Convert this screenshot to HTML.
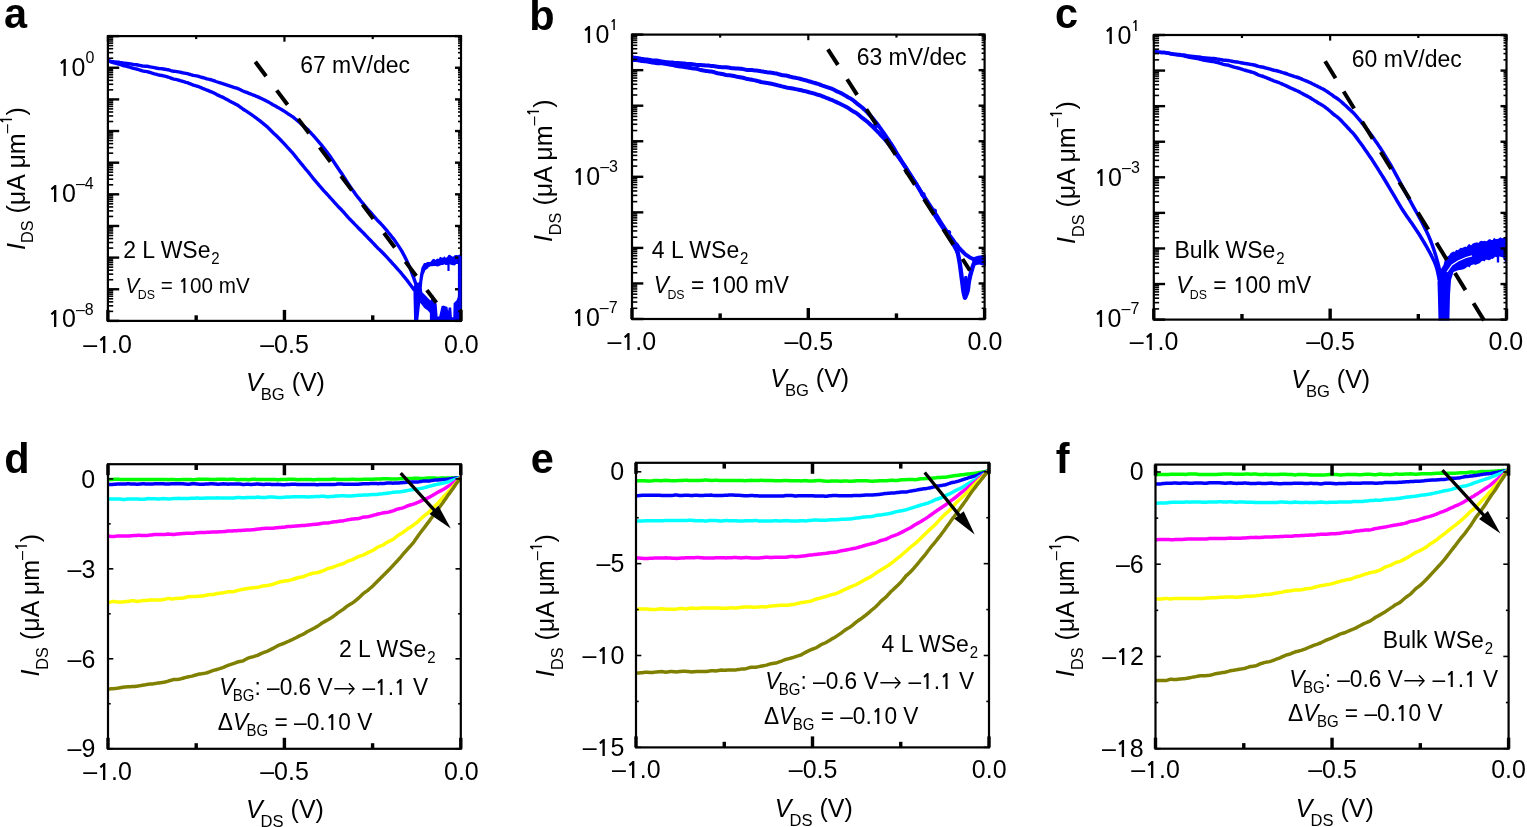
<!DOCTYPE html>
<html><head><meta charset="utf-8"><title>WSe2 transistor characteristics</title>
<style>html,body{margin:0;padding:0;background:#fff;width:1527px;height:827px;overflow:hidden}svg{display:block}
text{font-family:"Liberation Sans", Arial, Helvetica, sans-serif;fill:#000}</style></head>
<body><svg width="1527" height="827" viewBox="0 0 1527 827">
<rect width="1527" height="827" fill="#fff"/>
<path d="M107.9,60.7 L109.4,61.0 L110.9,61.3 L112.4,61.6 L113.9,61.8 L115.4,61.9 L116.9,62.1 L118.4,62.2 L119.9,62.5 L121.4,62.7 L122.9,63.0 L124.4,63.1 L125.9,63.3 L127.4,63.4 L128.9,63.6 L130.4,63.9 L131.9,64.2 L133.4,64.5 L134.9,64.6 L136.4,64.8 L137.9,65.0 L139.4,65.3 L140.9,65.6 L142.4,66.0 L143.9,66.1 L145.4,66.2 L146.9,66.3 L148.4,66.5 L149.9,66.8 L151.4,67.1 L152.9,67.4 L154.4,67.7 L155.9,68.0 L157.4,68.3 L158.9,68.5 L160.4,68.6 L161.9,68.8 L163.4,69.0 L164.9,69.2 L166.4,69.5 L167.9,69.7 L169.4,70.1 L170.9,70.6 L172.4,71.0 L173.9,71.3 L175.4,71.4 L176.9,71.6 L178.4,71.9 L179.9,72.2 L181.4,72.5 L182.9,72.8 L184.4,73.1 L185.9,73.4 L187.4,73.7 L188.9,74.1 L190.4,74.5 L191.9,75.0 L193.4,75.4 L194.9,75.6 L196.4,75.9 L197.9,76.2 L199.4,76.7 L200.9,77.1 L202.4,77.5 L203.9,77.9 L205.4,78.3 L206.9,78.8 L208.4,79.2 L209.9,79.5 L211.4,79.9 L212.9,80.3 L214.4,80.9 L215.9,81.5 L217.4,82.0 L218.9,82.5 L220.4,82.9 L221.9,83.3 L223.4,83.8 L224.9,84.3 L226.4,84.8 L227.9,85.3 L229.4,85.9 L230.9,86.4 L232.4,86.9 L233.9,87.4 L235.4,87.8 L236.9,88.2 L238.4,88.8 L239.9,89.5 L241.4,90.3 L242.9,91.0 L244.4,91.6 L245.9,92.1 L247.4,92.7 L248.9,93.3 L250.4,93.9 L251.9,94.5 L253.4,95.1 L254.9,95.7 L256.4,96.3 L257.9,96.9 L259.4,97.6 L260.9,98.3 L262.4,99.0 L263.9,99.7 L265.4,100.4 L266.9,101.2 L268.4,102.0 L269.9,102.9 L271.4,103.8 L272.9,104.7 L274.4,105.5 L275.9,106.3 L277.4,107.2 L278.9,108.0 L280.4,108.9 L281.9,109.8 L283.4,110.7 L284.9,111.7 L286.4,112.7 L287.9,113.7 L289.4,114.6 L290.9,115.6 L292.4,116.6 L293.9,117.7 L295.4,119.0 L296.9,120.2 L298.4,121.5 L299.9,122.8 L301.4,124.1 L302.9,125.4 L304.4,126.7 L305.9,128.0 L307.4,129.3 L308.9,130.8 L310.4,132.4 L311.9,134.1 L313.4,135.7 L314.9,137.4 L316.4,139.1 L317.9,140.8 L319.4,142.6 L320.9,144.4 L322.4,146.2 L323.9,148.1 L325.4,150.0 L326.9,152.0 L328.4,154.0 L329.9,156.1 L331.4,158.3 L332.9,160.4 L334.4,162.7 L335.9,165.0 L337.4,167.3 L338.9,169.5 L340.4,171.7 L341.9,173.8 L343.4,176.1 L344.9,178.5 L346.4,180.9 L347.9,183.2 L349.4,185.4 L350.9,187.6 L352.4,189.7 L353.9,191.8 L355.4,193.9 L356.9,195.9 L358.4,197.9 L359.9,199.7 L361.4,201.6 L362.9,203.3 L364.4,205.2 L365.9,207.0 L367.4,208.8 L368.9,210.5 L370.4,212.2 L371.9,213.9 L373.4,215.6 L374.9,217.3 L376.4,219.1 L377.9,220.8 L379.4,222.3 L380.9,223.8 L382.4,225.4 L383.9,227.1 L385.4,228.8 L386.9,230.6 L388.4,232.5 L389.9,234.3 L391.4,236.2 L392.9,238.1 L394.4,240.1 L395.9,242.2 L397.4,244.4 L398.9,246.6 L400.4,248.9 L401.9,251.4 L403.4,254.1 L404.9,256.9 L406.4,260.0 L407.9,263.2 L409.4,266.7 L410.9,270.4 L412.4,274.3 L413.9,278.4 L415.4,282.8 L416.4,285.9" fill="none" stroke="#0000ff" stroke-width="3.40" stroke-linejoin="round" stroke-linecap="butt" />
<path d="M107.9,60.7 L109.4,61.3 L110.9,61.8 L112.4,62.4 L113.9,62.8 L115.4,63.2 L116.9,63.6 L118.4,64.0 L119.9,64.5 L121.4,65.0 L122.9,65.5 L124.4,65.8 L125.9,66.2 L127.4,66.5 L128.9,66.9 L130.4,67.4 L131.9,67.9 L133.4,68.3 L134.9,68.7 L136.4,69.0 L137.9,69.4 L139.4,69.9 L140.9,70.3 L142.4,70.8 L143.9,71.2 L145.4,71.4 L146.9,71.7 L148.4,72.0 L149.9,72.4 L151.4,72.9 L152.9,73.3 L154.4,73.8 L155.9,74.2 L157.4,74.7 L158.9,75.0 L160.4,75.3 L161.9,75.5 L163.4,75.8 L164.9,76.2 L166.4,76.6 L167.9,77.0 L169.4,77.5 L170.9,78.1 L172.4,78.7 L173.9,79.1 L175.4,79.4 L176.9,79.7 L178.4,80.1 L179.9,80.5 L181.4,81.0 L182.9,81.4 L184.4,81.8 L185.9,82.3 L187.4,82.7 L188.9,83.3 L190.4,83.9 L191.9,84.5 L193.4,85.1 L194.9,85.5 L196.4,86.0 L197.9,86.4 L199.4,87.0 L200.9,87.6 L202.4,88.3 L203.9,88.9 L205.4,89.5 L206.9,90.1 L208.4,90.7 L209.9,91.3 L211.4,91.9 L212.9,92.5 L214.4,93.3 L215.9,94.1 L217.4,94.9 L218.9,95.6 L220.4,96.3 L221.9,96.9 L223.4,97.6 L224.9,98.4 L226.4,99.2 L227.9,100.0 L229.4,100.9 L230.9,101.7 L232.4,102.5 L233.9,103.3 L235.4,104.1 L236.9,104.8 L238.4,105.7 L239.9,106.8 L241.4,107.9 L242.9,109.0 L244.4,110.0 L245.9,110.9 L247.4,111.9 L248.9,112.9 L250.4,113.9 L251.9,114.9 L253.4,116.0 L254.9,117.1 L256.4,118.2 L257.9,119.3 L259.4,120.4 L260.9,121.6 L262.4,122.8 L263.9,124.1 L265.4,125.3 L266.9,126.6 L268.4,128.0 L269.9,129.5 L271.4,131.0 L272.9,132.5 L274.4,133.9 L275.9,135.3 L277.4,136.8 L278.9,138.3 L280.4,139.8 L281.9,141.3 L283.4,142.9 L284.9,144.5 L286.4,146.2 L287.9,147.8 L289.4,149.4 L290.9,151.1 L292.4,152.7 L293.9,154.5 L295.4,156.4 L296.9,158.3 L298.4,160.2 L299.9,162.0 L301.4,163.9 L302.9,165.7 L304.4,167.5 L305.9,169.3 L307.4,171.0 L308.9,172.9 L310.4,174.8 L311.9,176.7 L313.4,178.6 L314.9,180.4 L316.4,182.2 L317.9,183.9 L319.4,185.7 L320.9,187.4 L322.4,189.1 L323.9,190.8 L325.4,192.4 L326.9,194.0 L328.4,195.7 L329.9,197.3 L331.4,199.0 L332.9,200.7 L334.4,202.4 L335.9,204.0 L337.4,205.7 L338.9,207.3 L340.4,208.8 L341.9,210.3 L343.4,211.9 L344.9,213.7 L346.4,215.4 L347.9,217.1 L349.4,218.7 L350.9,220.2 L352.4,221.8 L353.9,223.3 L355.4,224.9 L356.9,226.4 L358.4,228.0 L359.9,229.5 L361.4,231.0 L362.9,232.4 L364.4,234.0 L365.9,235.6 L367.4,237.2 L368.9,238.8 L370.4,240.3 L371.9,241.8 L373.4,243.4 L374.9,245.0 L376.4,246.6 L377.9,248.2 L379.4,249.6 L380.9,251.0 L382.4,252.5 L383.9,254.0 L385.4,255.6 L386.9,257.2 L388.4,258.8 L389.9,260.5 L391.4,262.1 L392.9,263.8 L394.4,265.4 L395.9,267.1 L397.4,268.8 L398.9,270.5 L400.4,272.2 L401.9,274.0 L403.4,275.8 L404.9,277.6 L406.4,279.5 L407.9,281.4 L409.4,283.4 L410.9,285.5 L412.4,287.5 L413.9,289.6 L414.5,290.5" fill="none" stroke="#0000ff" stroke-width="3.40" stroke-linejoin="round" stroke-linecap="butt" />
<polygon points="419.0,283.1 420.0,274.8 421.5,267.6 424.0,262.9 425.7,262.9 427.3,262.1 429.0,262.0 430.7,261.7 432.3,259.4 434.0,258.7 435.6,260.1 437.1,258.6 438.7,258.9 440.1,256.7 441.6,257.4 443.0,257.7 444.4,256.3 445.7,257.7 447.0,257.3 448.4,255.0 449.9,254.8 451.5,255.9 453.0,256.8 454.7,255.3 456.3,254.9 458.0,255.3 459.5,254.5 461.0,255.7 461.0,266.4 459.5,266.0 458.0,263.9 456.3,264.0 454.7,265.5 453.0,265.3 451.5,265.1 449.9,264.3 448.4,264.8 447.0,264.9 445.7,265.0 444.4,264.2 443.0,264.9 441.6,264.9 440.1,265.6 438.7,266.3 437.1,266.5 435.6,266.0 434.0,266.1 432.3,266.3 430.7,266.3 429.0,266.9 427.2,269.1 425.5,270.1 423.5,274.8 422.3,281.8 421.8,288.0" fill="#0000ff"/>
<line x1="448.50" y1="264.00" x2="448.50" y2="271.00" stroke="#0000ff" stroke-width="2.20" stroke-linecap="butt"/>
<line x1="459.60" y1="256.00" x2="459.60" y2="320.50" stroke="#0000ff" stroke-width="3.40" stroke-linecap="butt"/>
<polygon points="413.4,287.0 416.0,283.0 420.5,282.0 421.8,288.0 422.3,292.2 426.3,296.2 430.4,300.5 433.4,295.2 435.4,300.5 436.7,304.5 437.6,316.6 439.2,316.6 441.5,306.3 443.3,305.4 447.5,306.9 448.1,311.2 448.7,307.5 451.2,307.5 451.9,317.2 453.3,317.2 453.6,303.3 456.6,300.3 457.8,297.3 458.4,290.0 461.0,290.0 461.0,321.0 429.9,321.0 429.9,313.0 427.8,310.5 424.3,307.9 420.2,302.8 418.2,321.0 414.1,321.0 413.6,300.0" fill="#0000ff"/>
<line x1="255.30" y1="61.80" x2="436.40" y2="302.80" stroke="#000" stroke-width="4.00" stroke-dasharray="18.00 17.70"/>
<rect x="107.90" y="36.10" width="353.10" height="284.80" fill="none" stroke="#000" stroke-width="2.20"/>
<line x1="107.90" y1="320.90" x2="107.90" y2="309.90" stroke="#000" stroke-width="3.40" stroke-linecap="butt"/>
<line x1="107.90" y1="36.10" x2="107.90" y2="41.70" stroke="#000" stroke-width="2.20" stroke-linecap="butt"/>
<line x1="196.18" y1="320.90" x2="196.18" y2="315.30" stroke="#000" stroke-width="3.40" stroke-linecap="butt"/>
<line x1="196.18" y1="36.10" x2="196.18" y2="39.10" stroke="#000" stroke-width="2.20" stroke-linecap="butt"/>
<line x1="284.45" y1="320.90" x2="284.45" y2="309.90" stroke="#000" stroke-width="3.40" stroke-linecap="butt"/>
<line x1="284.45" y1="36.10" x2="284.45" y2="41.70" stroke="#000" stroke-width="2.20" stroke-linecap="butt"/>
<line x1="372.73" y1="320.90" x2="372.73" y2="315.30" stroke="#000" stroke-width="3.40" stroke-linecap="butt"/>
<line x1="372.73" y1="36.10" x2="372.73" y2="39.10" stroke="#000" stroke-width="2.20" stroke-linecap="butt"/>
<line x1="461.00" y1="320.90" x2="461.00" y2="309.90" stroke="#000" stroke-width="3.40" stroke-linecap="butt"/>
<line x1="461.00" y1="36.10" x2="461.00" y2="41.70" stroke="#000" stroke-width="2.20" stroke-linecap="butt"/>
<line x1="107.90" y1="320.90" x2="119.20" y2="320.90" stroke="#000" stroke-width="2.40" stroke-linecap="butt"/>
<line x1="461.00" y1="320.90" x2="455.00" y2="320.90" stroke="#000" stroke-width="2.40" stroke-linecap="butt"/>
<line x1="107.90" y1="311.37" x2="113.20" y2="311.37" stroke="#000" stroke-width="1.60" stroke-linecap="butt"/>
<line x1="461.00" y1="311.37" x2="458.00" y2="311.37" stroke="#000" stroke-width="1.60" stroke-linecap="butt"/>
<line x1="107.90" y1="305.80" x2="113.20" y2="305.80" stroke="#000" stroke-width="1.60" stroke-linecap="butt"/>
<line x1="461.00" y1="305.80" x2="458.00" y2="305.80" stroke="#000" stroke-width="1.60" stroke-linecap="butt"/>
<line x1="107.90" y1="301.85" x2="113.20" y2="301.85" stroke="#000" stroke-width="1.60" stroke-linecap="butt"/>
<line x1="461.00" y1="301.85" x2="458.00" y2="301.85" stroke="#000" stroke-width="1.60" stroke-linecap="butt"/>
<line x1="107.90" y1="298.78" x2="113.20" y2="298.78" stroke="#000" stroke-width="1.60" stroke-linecap="butt"/>
<line x1="461.00" y1="298.78" x2="458.00" y2="298.78" stroke="#000" stroke-width="1.60" stroke-linecap="butt"/>
<line x1="107.90" y1="296.28" x2="113.20" y2="296.28" stroke="#000" stroke-width="1.60" stroke-linecap="butt"/>
<line x1="461.00" y1="296.28" x2="458.00" y2="296.28" stroke="#000" stroke-width="1.60" stroke-linecap="butt"/>
<line x1="107.90" y1="294.16" x2="113.20" y2="294.16" stroke="#000" stroke-width="1.60" stroke-linecap="butt"/>
<line x1="461.00" y1="294.16" x2="458.00" y2="294.16" stroke="#000" stroke-width="1.60" stroke-linecap="butt"/>
<line x1="107.90" y1="292.32" x2="113.20" y2="292.32" stroke="#000" stroke-width="1.60" stroke-linecap="butt"/>
<line x1="461.00" y1="292.32" x2="458.00" y2="292.32" stroke="#000" stroke-width="1.60" stroke-linecap="butt"/>
<line x1="107.90" y1="290.70" x2="113.20" y2="290.70" stroke="#000" stroke-width="1.60" stroke-linecap="butt"/>
<line x1="461.00" y1="290.70" x2="458.00" y2="290.70" stroke="#000" stroke-width="1.60" stroke-linecap="butt"/>
<line x1="107.90" y1="289.26" x2="119.20" y2="289.26" stroke="#000" stroke-width="2.40" stroke-linecap="butt"/>
<line x1="461.00" y1="289.26" x2="455.00" y2="289.26" stroke="#000" stroke-width="2.40" stroke-linecap="butt"/>
<line x1="107.90" y1="279.73" x2="113.20" y2="279.73" stroke="#000" stroke-width="1.60" stroke-linecap="butt"/>
<line x1="461.00" y1="279.73" x2="458.00" y2="279.73" stroke="#000" stroke-width="1.60" stroke-linecap="butt"/>
<line x1="107.90" y1="274.16" x2="113.20" y2="274.16" stroke="#000" stroke-width="1.60" stroke-linecap="butt"/>
<line x1="461.00" y1="274.16" x2="458.00" y2="274.16" stroke="#000" stroke-width="1.60" stroke-linecap="butt"/>
<line x1="107.90" y1="270.20" x2="113.20" y2="270.20" stroke="#000" stroke-width="1.60" stroke-linecap="butt"/>
<line x1="461.00" y1="270.20" x2="458.00" y2="270.20" stroke="#000" stroke-width="1.60" stroke-linecap="butt"/>
<line x1="107.90" y1="267.14" x2="113.20" y2="267.14" stroke="#000" stroke-width="1.60" stroke-linecap="butt"/>
<line x1="461.00" y1="267.14" x2="458.00" y2="267.14" stroke="#000" stroke-width="1.60" stroke-linecap="butt"/>
<line x1="107.90" y1="264.63" x2="113.20" y2="264.63" stroke="#000" stroke-width="1.60" stroke-linecap="butt"/>
<line x1="461.00" y1="264.63" x2="458.00" y2="264.63" stroke="#000" stroke-width="1.60" stroke-linecap="butt"/>
<line x1="107.90" y1="262.51" x2="113.20" y2="262.51" stroke="#000" stroke-width="1.60" stroke-linecap="butt"/>
<line x1="461.00" y1="262.51" x2="458.00" y2="262.51" stroke="#000" stroke-width="1.60" stroke-linecap="butt"/>
<line x1="107.90" y1="260.68" x2="113.20" y2="260.68" stroke="#000" stroke-width="1.60" stroke-linecap="butt"/>
<line x1="461.00" y1="260.68" x2="458.00" y2="260.68" stroke="#000" stroke-width="1.60" stroke-linecap="butt"/>
<line x1="107.90" y1="259.06" x2="113.20" y2="259.06" stroke="#000" stroke-width="1.60" stroke-linecap="butt"/>
<line x1="461.00" y1="259.06" x2="458.00" y2="259.06" stroke="#000" stroke-width="1.60" stroke-linecap="butt"/>
<line x1="107.90" y1="257.61" x2="119.20" y2="257.61" stroke="#000" stroke-width="2.40" stroke-linecap="butt"/>
<line x1="461.00" y1="257.61" x2="455.00" y2="257.61" stroke="#000" stroke-width="2.40" stroke-linecap="butt"/>
<line x1="107.90" y1="248.09" x2="113.20" y2="248.09" stroke="#000" stroke-width="1.60" stroke-linecap="butt"/>
<line x1="461.00" y1="248.09" x2="458.00" y2="248.09" stroke="#000" stroke-width="1.60" stroke-linecap="butt"/>
<line x1="107.90" y1="242.51" x2="113.20" y2="242.51" stroke="#000" stroke-width="1.60" stroke-linecap="butt"/>
<line x1="461.00" y1="242.51" x2="458.00" y2="242.51" stroke="#000" stroke-width="1.60" stroke-linecap="butt"/>
<line x1="107.90" y1="238.56" x2="113.20" y2="238.56" stroke="#000" stroke-width="1.60" stroke-linecap="butt"/>
<line x1="461.00" y1="238.56" x2="458.00" y2="238.56" stroke="#000" stroke-width="1.60" stroke-linecap="butt"/>
<line x1="107.90" y1="235.49" x2="113.20" y2="235.49" stroke="#000" stroke-width="1.60" stroke-linecap="butt"/>
<line x1="461.00" y1="235.49" x2="458.00" y2="235.49" stroke="#000" stroke-width="1.60" stroke-linecap="butt"/>
<line x1="107.90" y1="232.99" x2="113.20" y2="232.99" stroke="#000" stroke-width="1.60" stroke-linecap="butt"/>
<line x1="461.00" y1="232.99" x2="458.00" y2="232.99" stroke="#000" stroke-width="1.60" stroke-linecap="butt"/>
<line x1="107.90" y1="230.87" x2="113.20" y2="230.87" stroke="#000" stroke-width="1.60" stroke-linecap="butt"/>
<line x1="461.00" y1="230.87" x2="458.00" y2="230.87" stroke="#000" stroke-width="1.60" stroke-linecap="butt"/>
<line x1="107.90" y1="229.03" x2="113.20" y2="229.03" stroke="#000" stroke-width="1.60" stroke-linecap="butt"/>
<line x1="461.00" y1="229.03" x2="458.00" y2="229.03" stroke="#000" stroke-width="1.60" stroke-linecap="butt"/>
<line x1="107.90" y1="227.41" x2="113.20" y2="227.41" stroke="#000" stroke-width="1.60" stroke-linecap="butt"/>
<line x1="461.00" y1="227.41" x2="458.00" y2="227.41" stroke="#000" stroke-width="1.60" stroke-linecap="butt"/>
<line x1="107.90" y1="225.97" x2="119.20" y2="225.97" stroke="#000" stroke-width="2.40" stroke-linecap="butt"/>
<line x1="461.00" y1="225.97" x2="455.00" y2="225.97" stroke="#000" stroke-width="2.40" stroke-linecap="butt"/>
<line x1="107.90" y1="216.44" x2="113.20" y2="216.44" stroke="#000" stroke-width="1.60" stroke-linecap="butt"/>
<line x1="461.00" y1="216.44" x2="458.00" y2="216.44" stroke="#000" stroke-width="1.60" stroke-linecap="butt"/>
<line x1="107.90" y1="210.87" x2="113.20" y2="210.87" stroke="#000" stroke-width="1.60" stroke-linecap="butt"/>
<line x1="461.00" y1="210.87" x2="458.00" y2="210.87" stroke="#000" stroke-width="1.60" stroke-linecap="butt"/>
<line x1="107.90" y1="206.91" x2="113.20" y2="206.91" stroke="#000" stroke-width="1.60" stroke-linecap="butt"/>
<line x1="461.00" y1="206.91" x2="458.00" y2="206.91" stroke="#000" stroke-width="1.60" stroke-linecap="butt"/>
<line x1="107.90" y1="203.85" x2="113.20" y2="203.85" stroke="#000" stroke-width="1.60" stroke-linecap="butt"/>
<line x1="461.00" y1="203.85" x2="458.00" y2="203.85" stroke="#000" stroke-width="1.60" stroke-linecap="butt"/>
<line x1="107.90" y1="201.34" x2="113.20" y2="201.34" stroke="#000" stroke-width="1.60" stroke-linecap="butt"/>
<line x1="461.00" y1="201.34" x2="458.00" y2="201.34" stroke="#000" stroke-width="1.60" stroke-linecap="butt"/>
<line x1="107.90" y1="199.22" x2="113.20" y2="199.22" stroke="#000" stroke-width="1.60" stroke-linecap="butt"/>
<line x1="461.00" y1="199.22" x2="458.00" y2="199.22" stroke="#000" stroke-width="1.60" stroke-linecap="butt"/>
<line x1="107.90" y1="197.39" x2="113.20" y2="197.39" stroke="#000" stroke-width="1.60" stroke-linecap="butt"/>
<line x1="461.00" y1="197.39" x2="458.00" y2="197.39" stroke="#000" stroke-width="1.60" stroke-linecap="butt"/>
<line x1="107.90" y1="195.77" x2="113.20" y2="195.77" stroke="#000" stroke-width="1.60" stroke-linecap="butt"/>
<line x1="461.00" y1="195.77" x2="458.00" y2="195.77" stroke="#000" stroke-width="1.60" stroke-linecap="butt"/>
<line x1="107.90" y1="194.32" x2="119.20" y2="194.32" stroke="#000" stroke-width="2.40" stroke-linecap="butt"/>
<line x1="461.00" y1="194.32" x2="455.00" y2="194.32" stroke="#000" stroke-width="2.40" stroke-linecap="butt"/>
<line x1="107.90" y1="184.80" x2="113.20" y2="184.80" stroke="#000" stroke-width="1.60" stroke-linecap="butt"/>
<line x1="461.00" y1="184.80" x2="458.00" y2="184.80" stroke="#000" stroke-width="1.60" stroke-linecap="butt"/>
<line x1="107.90" y1="179.22" x2="113.20" y2="179.22" stroke="#000" stroke-width="1.60" stroke-linecap="butt"/>
<line x1="461.00" y1="179.22" x2="458.00" y2="179.22" stroke="#000" stroke-width="1.60" stroke-linecap="butt"/>
<line x1="107.90" y1="175.27" x2="113.20" y2="175.27" stroke="#000" stroke-width="1.60" stroke-linecap="butt"/>
<line x1="461.00" y1="175.27" x2="458.00" y2="175.27" stroke="#000" stroke-width="1.60" stroke-linecap="butt"/>
<line x1="107.90" y1="172.20" x2="113.20" y2="172.20" stroke="#000" stroke-width="1.60" stroke-linecap="butt"/>
<line x1="461.00" y1="172.20" x2="458.00" y2="172.20" stroke="#000" stroke-width="1.60" stroke-linecap="butt"/>
<line x1="107.90" y1="169.70" x2="113.20" y2="169.70" stroke="#000" stroke-width="1.60" stroke-linecap="butt"/>
<line x1="461.00" y1="169.70" x2="458.00" y2="169.70" stroke="#000" stroke-width="1.60" stroke-linecap="butt"/>
<line x1="107.90" y1="167.58" x2="113.20" y2="167.58" stroke="#000" stroke-width="1.60" stroke-linecap="butt"/>
<line x1="461.00" y1="167.58" x2="458.00" y2="167.58" stroke="#000" stroke-width="1.60" stroke-linecap="butt"/>
<line x1="107.90" y1="165.74" x2="113.20" y2="165.74" stroke="#000" stroke-width="1.60" stroke-linecap="butt"/>
<line x1="461.00" y1="165.74" x2="458.00" y2="165.74" stroke="#000" stroke-width="1.60" stroke-linecap="butt"/>
<line x1="107.90" y1="164.13" x2="113.20" y2="164.13" stroke="#000" stroke-width="1.60" stroke-linecap="butt"/>
<line x1="461.00" y1="164.13" x2="458.00" y2="164.13" stroke="#000" stroke-width="1.60" stroke-linecap="butt"/>
<line x1="107.90" y1="162.68" x2="119.20" y2="162.68" stroke="#000" stroke-width="2.40" stroke-linecap="butt"/>
<line x1="461.00" y1="162.68" x2="455.00" y2="162.68" stroke="#000" stroke-width="2.40" stroke-linecap="butt"/>
<line x1="107.90" y1="153.15" x2="113.20" y2="153.15" stroke="#000" stroke-width="1.60" stroke-linecap="butt"/>
<line x1="461.00" y1="153.15" x2="458.00" y2="153.15" stroke="#000" stroke-width="1.60" stroke-linecap="butt"/>
<line x1="107.90" y1="147.58" x2="113.20" y2="147.58" stroke="#000" stroke-width="1.60" stroke-linecap="butt"/>
<line x1="461.00" y1="147.58" x2="458.00" y2="147.58" stroke="#000" stroke-width="1.60" stroke-linecap="butt"/>
<line x1="107.90" y1="143.63" x2="113.20" y2="143.63" stroke="#000" stroke-width="1.60" stroke-linecap="butt"/>
<line x1="461.00" y1="143.63" x2="458.00" y2="143.63" stroke="#000" stroke-width="1.60" stroke-linecap="butt"/>
<line x1="107.90" y1="140.56" x2="113.20" y2="140.56" stroke="#000" stroke-width="1.60" stroke-linecap="butt"/>
<line x1="461.00" y1="140.56" x2="458.00" y2="140.56" stroke="#000" stroke-width="1.60" stroke-linecap="butt"/>
<line x1="107.90" y1="138.05" x2="113.20" y2="138.05" stroke="#000" stroke-width="1.60" stroke-linecap="butt"/>
<line x1="461.00" y1="138.05" x2="458.00" y2="138.05" stroke="#000" stroke-width="1.60" stroke-linecap="butt"/>
<line x1="107.90" y1="135.94" x2="113.20" y2="135.94" stroke="#000" stroke-width="1.60" stroke-linecap="butt"/>
<line x1="461.00" y1="135.94" x2="458.00" y2="135.94" stroke="#000" stroke-width="1.60" stroke-linecap="butt"/>
<line x1="107.90" y1="134.10" x2="113.20" y2="134.10" stroke="#000" stroke-width="1.60" stroke-linecap="butt"/>
<line x1="461.00" y1="134.10" x2="458.00" y2="134.10" stroke="#000" stroke-width="1.60" stroke-linecap="butt"/>
<line x1="107.90" y1="132.48" x2="113.20" y2="132.48" stroke="#000" stroke-width="1.60" stroke-linecap="butt"/>
<line x1="461.00" y1="132.48" x2="458.00" y2="132.48" stroke="#000" stroke-width="1.60" stroke-linecap="butt"/>
<line x1="107.90" y1="131.03" x2="119.20" y2="131.03" stroke="#000" stroke-width="2.40" stroke-linecap="butt"/>
<line x1="461.00" y1="131.03" x2="455.00" y2="131.03" stroke="#000" stroke-width="2.40" stroke-linecap="butt"/>
<line x1="107.90" y1="121.51" x2="113.20" y2="121.51" stroke="#000" stroke-width="1.60" stroke-linecap="butt"/>
<line x1="461.00" y1="121.51" x2="458.00" y2="121.51" stroke="#000" stroke-width="1.60" stroke-linecap="butt"/>
<line x1="107.90" y1="115.94" x2="113.20" y2="115.94" stroke="#000" stroke-width="1.60" stroke-linecap="butt"/>
<line x1="461.00" y1="115.94" x2="458.00" y2="115.94" stroke="#000" stroke-width="1.60" stroke-linecap="butt"/>
<line x1="107.90" y1="111.98" x2="113.20" y2="111.98" stroke="#000" stroke-width="1.60" stroke-linecap="butt"/>
<line x1="461.00" y1="111.98" x2="458.00" y2="111.98" stroke="#000" stroke-width="1.60" stroke-linecap="butt"/>
<line x1="107.90" y1="108.91" x2="113.20" y2="108.91" stroke="#000" stroke-width="1.60" stroke-linecap="butt"/>
<line x1="461.00" y1="108.91" x2="458.00" y2="108.91" stroke="#000" stroke-width="1.60" stroke-linecap="butt"/>
<line x1="107.90" y1="106.41" x2="113.20" y2="106.41" stroke="#000" stroke-width="1.60" stroke-linecap="butt"/>
<line x1="461.00" y1="106.41" x2="458.00" y2="106.41" stroke="#000" stroke-width="1.60" stroke-linecap="butt"/>
<line x1="107.90" y1="104.29" x2="113.20" y2="104.29" stroke="#000" stroke-width="1.60" stroke-linecap="butt"/>
<line x1="461.00" y1="104.29" x2="458.00" y2="104.29" stroke="#000" stroke-width="1.60" stroke-linecap="butt"/>
<line x1="107.90" y1="102.46" x2="113.20" y2="102.46" stroke="#000" stroke-width="1.60" stroke-linecap="butt"/>
<line x1="461.00" y1="102.46" x2="458.00" y2="102.46" stroke="#000" stroke-width="1.60" stroke-linecap="butt"/>
<line x1="107.90" y1="100.84" x2="113.20" y2="100.84" stroke="#000" stroke-width="1.60" stroke-linecap="butt"/>
<line x1="461.00" y1="100.84" x2="458.00" y2="100.84" stroke="#000" stroke-width="1.60" stroke-linecap="butt"/>
<line x1="107.90" y1="99.39" x2="119.20" y2="99.39" stroke="#000" stroke-width="2.40" stroke-linecap="butt"/>
<line x1="461.00" y1="99.39" x2="455.00" y2="99.39" stroke="#000" stroke-width="2.40" stroke-linecap="butt"/>
<line x1="107.90" y1="89.86" x2="113.20" y2="89.86" stroke="#000" stroke-width="1.60" stroke-linecap="butt"/>
<line x1="461.00" y1="89.86" x2="458.00" y2="89.86" stroke="#000" stroke-width="1.60" stroke-linecap="butt"/>
<line x1="107.90" y1="84.29" x2="113.20" y2="84.29" stroke="#000" stroke-width="1.60" stroke-linecap="butt"/>
<line x1="461.00" y1="84.29" x2="458.00" y2="84.29" stroke="#000" stroke-width="1.60" stroke-linecap="butt"/>
<line x1="107.90" y1="80.34" x2="113.20" y2="80.34" stroke="#000" stroke-width="1.60" stroke-linecap="butt"/>
<line x1="461.00" y1="80.34" x2="458.00" y2="80.34" stroke="#000" stroke-width="1.60" stroke-linecap="butt"/>
<line x1="107.90" y1="77.27" x2="113.20" y2="77.27" stroke="#000" stroke-width="1.60" stroke-linecap="butt"/>
<line x1="461.00" y1="77.27" x2="458.00" y2="77.27" stroke="#000" stroke-width="1.60" stroke-linecap="butt"/>
<line x1="107.90" y1="74.76" x2="113.20" y2="74.76" stroke="#000" stroke-width="1.60" stroke-linecap="butt"/>
<line x1="461.00" y1="74.76" x2="458.00" y2="74.76" stroke="#000" stroke-width="1.60" stroke-linecap="butt"/>
<line x1="107.90" y1="72.65" x2="113.20" y2="72.65" stroke="#000" stroke-width="1.60" stroke-linecap="butt"/>
<line x1="461.00" y1="72.65" x2="458.00" y2="72.65" stroke="#000" stroke-width="1.60" stroke-linecap="butt"/>
<line x1="107.90" y1="70.81" x2="113.20" y2="70.81" stroke="#000" stroke-width="1.60" stroke-linecap="butt"/>
<line x1="461.00" y1="70.81" x2="458.00" y2="70.81" stroke="#000" stroke-width="1.60" stroke-linecap="butt"/>
<line x1="107.90" y1="69.19" x2="113.20" y2="69.19" stroke="#000" stroke-width="1.60" stroke-linecap="butt"/>
<line x1="461.00" y1="69.19" x2="458.00" y2="69.19" stroke="#000" stroke-width="1.60" stroke-linecap="butt"/>
<line x1="107.90" y1="67.74" x2="119.20" y2="67.74" stroke="#000" stroke-width="2.40" stroke-linecap="butt"/>
<line x1="461.00" y1="67.74" x2="455.00" y2="67.74" stroke="#000" stroke-width="2.40" stroke-linecap="butt"/>
<line x1="107.90" y1="58.22" x2="113.20" y2="58.22" stroke="#000" stroke-width="1.60" stroke-linecap="butt"/>
<line x1="461.00" y1="58.22" x2="458.00" y2="58.22" stroke="#000" stroke-width="1.60" stroke-linecap="butt"/>
<line x1="107.90" y1="52.65" x2="113.20" y2="52.65" stroke="#000" stroke-width="1.60" stroke-linecap="butt"/>
<line x1="461.00" y1="52.65" x2="458.00" y2="52.65" stroke="#000" stroke-width="1.60" stroke-linecap="butt"/>
<line x1="107.90" y1="48.69" x2="113.20" y2="48.69" stroke="#000" stroke-width="1.60" stroke-linecap="butt"/>
<line x1="461.00" y1="48.69" x2="458.00" y2="48.69" stroke="#000" stroke-width="1.60" stroke-linecap="butt"/>
<line x1="107.90" y1="45.63" x2="113.20" y2="45.63" stroke="#000" stroke-width="1.60" stroke-linecap="butt"/>
<line x1="461.00" y1="45.63" x2="458.00" y2="45.63" stroke="#000" stroke-width="1.60" stroke-linecap="butt"/>
<line x1="107.90" y1="43.12" x2="113.20" y2="43.12" stroke="#000" stroke-width="1.60" stroke-linecap="butt"/>
<line x1="461.00" y1="43.12" x2="458.00" y2="43.12" stroke="#000" stroke-width="1.60" stroke-linecap="butt"/>
<line x1="107.90" y1="41.00" x2="113.20" y2="41.00" stroke="#000" stroke-width="1.60" stroke-linecap="butt"/>
<line x1="461.00" y1="41.00" x2="458.00" y2="41.00" stroke="#000" stroke-width="1.60" stroke-linecap="butt"/>
<line x1="107.90" y1="39.17" x2="113.20" y2="39.17" stroke="#000" stroke-width="1.60" stroke-linecap="butt"/>
<line x1="461.00" y1="39.17" x2="458.00" y2="39.17" stroke="#000" stroke-width="1.60" stroke-linecap="butt"/>
<line x1="107.90" y1="37.55" x2="113.20" y2="37.55" stroke="#000" stroke-width="1.60" stroke-linecap="butt"/>
<line x1="461.00" y1="37.55" x2="458.00" y2="37.55" stroke="#000" stroke-width="1.60" stroke-linecap="butt"/>
<line x1="107.90" y1="36.10" x2="119.20" y2="36.10" stroke="#000" stroke-width="2.40" stroke-linecap="butt"/>
<line x1="461.00" y1="36.10" x2="455.00" y2="36.10" stroke="#000" stroke-width="2.40" stroke-linecap="butt"/>
<line x1="459.90" y1="256.00" x2="459.90" y2="309.00" stroke="#0000ff" stroke-width="3.20" stroke-linecap="butt"/>
<text transform="translate(3.88,27.70) scale(1,1.045)" font-size="41.50" font-weight="bold">a</text>
<text transform="translate(57.58,75.80) scale(1,1.045)" font-size="25.00" ><tspan><tspan font-family="NanumGothic, Liberation Sans, sans-serif" font-weight="bold" font-size="22.00">1</tspan><tspan dx="0.57">0</tspan></tspan><tspan font-size="16.00" dy="-12.30">0</tspan></text>
<text transform="translate(48.08,201.70) scale(1,1.045)" font-size="25.00" ><tspan><tspan font-family="NanumGothic, Liberation Sans, sans-serif" font-weight="bold" font-size="22.00">1</tspan><tspan dx="0.57">0</tspan></tspan><tspan font-size="16.00" dy="-12.30">–4</tspan></text>
<text transform="translate(48.08,327.40) scale(1,1.045)" font-size="25.00" ><tspan><tspan font-family="NanumGothic, Liberation Sans, sans-serif" font-weight="bold" font-size="22.00">1</tspan><tspan dx="0.57">0</tspan></tspan><tspan font-size="16.00" dy="-12.30">–8</tspan></text>
<text transform="translate(83.16,352.90) scale(1,1.045)" font-size="25.00" ><tspan>–<tspan font-family="NanumGothic, Liberation Sans, sans-serif" font-weight="bold" font-size="22.00">1</tspan><tspan dx="0.57">.0</tspan></tspan></text>
<text transform="translate(260.20,352.90) scale(1,1.045)" font-size="25.00" ><tspan>–0.5</tspan></text>
<text transform="translate(444.02,352.90) scale(1,1.045)" font-size="25.00" ><tspan>0.0</tspan></text>
<text transform="translate(246.04,391.20) scale(1,1.045)" font-size="25.00" ><tspan font-style="italic">V</tspan><tspan font-size="16.60" dy="8.40" dx="-2.00">BG</tspan><tspan dy="-8.40"> (V)</tspan></text>
<text transform="translate(24.50,249.99) rotate(-90) scale(1,1.045)" font-size="25.00" ><tspan font-style="italic">I</tspan><tspan font-size="16.30" dy="8.40">DS</tspan><tspan dy="-8.40"> (μA μm</tspan><tspan font-size="16.30" dy="-12.00">–<tspan font-family="NanumGothic, Liberation Sans, sans-serif" font-weight="bold" font-size="14.34">1</tspan><tspan dx="0.37"></tspan></tspan><tspan dy="12.00">)</tspan></text>
<text transform="translate(300.13,73.00) scale(1,1.045)" font-size="23.00" >67 mV/dec</text>
<text transform="translate(123.14,257.80) scale(1,1.045)" font-size="23.00" ><tspan>2 L WSe</tspan><tspan font-size="15.00" dy="5.80" dx="0.90">2</tspan></text>
<text transform="translate(125.52,293.20) scale(1,1.045)" font-size="20.65" ><tspan font-style="italic">V</tspan><tspan font-size="12.40" dy="5.80" dx="-1.50">DS</tspan><tspan dy="-5.80"> = <tspan font-family="NanumGothic, Liberation Sans, sans-serif" font-weight="bold" font-size="18.17">1</tspan><tspan dx="0.47">00 mV</tspan></tspan></text>
<path d="M632.0,57.2 L633.5,57.5 L635.0,57.7 L636.5,57.9 L638.0,58.2 L639.5,58.5 L641.0,58.8 L642.5,59.0 L644.0,59.2 L645.5,59.4 L647.0,59.6 L648.5,59.8 L650.0,60.0 L651.5,60.3 L653.0,60.4 L654.5,60.4 L656.0,60.5 L657.5,60.6 L659.0,60.9 L660.5,61.3 L662.0,61.6 L663.5,61.8 L665.0,62.0 L666.5,62.2 L668.0,62.3 L669.5,62.4 L671.0,62.5 L672.5,62.6 L674.0,62.8 L675.5,62.9 L677.0,63.0 L678.5,63.1 L680.0,63.2 L681.5,63.3 L683.0,63.4 L684.5,63.6 L686.0,63.8 L687.5,63.9 L689.0,64.0 L690.5,64.1 L692.0,64.1 L693.5,64.4 L695.0,64.6 L696.5,64.9 L698.0,65.0 L699.5,65.0 L701.0,65.1 L702.5,65.2 L704.0,65.3 L705.5,65.4 L707.0,65.5 L708.5,65.6 L710.0,65.8 L711.5,65.9 L713.0,66.1 L714.5,66.3 L716.0,66.5 L717.5,66.7 L719.0,66.9 L720.5,67.1 L722.0,67.2 L723.5,67.2 L725.0,67.2 L726.5,67.2 L728.0,67.4 L729.5,67.7 L731.0,68.0 L732.5,68.2 L734.0,68.3 L735.5,68.4 L737.0,68.5 L738.5,68.6 L740.0,68.7 L741.5,68.8 L743.0,69.1 L744.5,69.4 L746.0,69.7 L747.5,69.9 L749.0,70.0 L750.5,70.1 L752.0,70.1 L753.5,70.3 L755.0,70.4 L756.5,70.6 L758.0,70.7 L759.5,70.9 L761.0,71.2 L762.5,71.4 L764.0,71.7 L765.5,71.9 L767.0,72.2 L768.5,72.4 L770.0,72.6 L771.5,72.8 L773.0,73.0 L774.5,73.3 L776.0,73.5 L777.5,73.8 L779.0,74.3 L780.5,74.7 L782.0,75.2 L783.5,75.3 L785.0,75.5 L786.5,75.6 L788.0,76.0 L789.5,76.5 L791.0,76.9 L792.5,77.3 L794.0,77.6 L795.5,77.8 L797.0,78.1 L798.5,78.4 L800.0,78.8 L801.5,79.2 L803.0,79.6 L804.5,80.0 L806.0,80.4 L807.5,80.8 L809.0,81.3 L810.5,81.7 L812.0,82.2 L813.5,82.6 L815.0,83.0 L816.5,83.5 L818.0,83.9 L819.5,84.5 L821.0,85.0 L822.5,85.6 L824.0,86.1 L825.5,86.6 L827.0,87.1 L828.5,87.6 L830.0,88.1 L831.5,88.6 L833.0,89.3 L834.5,90.1 L836.0,90.9 L837.5,91.6 L839.0,92.2 L840.5,92.9 L842.0,93.6 L843.5,94.5 L845.0,95.4 L846.5,96.3 L848.0,97.2 L849.5,98.0 L851.0,98.8 L852.5,99.8 L854.0,101.0 L855.5,102.3 L857.0,103.6 L858.5,104.7 L860.0,105.8 L861.5,107.0 L863.0,108.3 L864.5,109.7 L866.0,111.2 L867.5,112.7 L869.0,114.3 L870.5,115.9 L872.0,117.6 L873.5,119.4 L875.0,121.2 L876.5,123.1 L878.0,125.0 L879.5,127.1 L881.0,129.2 L882.5,131.3 L884.0,133.4 L885.5,135.6 L887.0,137.8 L888.5,140.0 L890.0,142.3 L891.5,144.5 L893.0,146.9 L894.5,149.4 L896.0,152.0 L897.5,154.5 L899.0,156.9 L900.5,159.3 L902.0,161.7 L903.5,164.1 L905.0,166.4 L906.5,168.8 L908.0,171.2 L909.5,173.5 L911.0,175.8 L912.5,178.1 L914.0,180.5 L915.5,182.9 L917.0,185.3 L918.5,187.7 L920.0,190.2 L921.5,192.6 L923.0,194.9 L924.5,197.2 L926.0,199.4 L927.5,201.7 L929.0,204.1 L930.5,206.4 L932.0,208.7 L933.5,211.0 L935.0,213.2 L936.5,215.4 L938.0,217.8 L939.5,220.2 L941.0,222.7 L942.5,225.1 L944.0,227.4 L945.5,229.6 L947.0,231.8 L948.5,233.9 L950.0,236.0 L951.5,238.0 L953.0,240.0 L954.5,242.1 L956.0,244.1 L957.5,245.9 L959.0,247.7 L960.5,249.4 L962.0,251.0 L963.5,252.5 L965.0,253.9 L966.5,255.2 L968.0,256.2 L969.5,257.2 L971.0,258.0 L972.5,258.7 L974.0,259.3 L975.5,259.8 L977.0,260.1 L978.5,260.3 L980.0,260.4 L981.5,260.3 L983.0,260.1 L984.5,259.7 L985.0,259.5" fill="none" stroke="#0000ff" stroke-width="4.00" stroke-linejoin="round" stroke-linecap="butt" />
<path d="M632.0,59.8 L633.5,59.9 L635.0,60.0 L636.5,60.0 L638.0,60.3 L639.5,60.6 L641.0,60.9 L642.5,61.1 L644.0,61.2 L645.5,61.3 L647.0,61.4 L648.5,61.8 L650.0,62.1 L651.5,62.4 L653.0,62.6 L654.5,62.8 L656.0,63.0 L657.5,63.2 L659.0,63.2 L660.5,63.3 L662.0,63.3 L663.5,63.5 L665.0,63.7 L666.5,63.9 L668.0,64.2 L669.5,64.5 L671.0,64.8 L672.5,65.1 L674.0,65.4 L675.5,65.7 L677.0,66.0 L678.5,66.2 L680.0,66.4 L681.5,66.6 L683.0,66.8 L684.5,67.0 L686.0,67.2 L687.5,67.4 L689.0,67.7 L690.5,67.9 L692.0,68.2 L693.5,68.4 L695.0,68.6 L696.5,68.8 L698.0,69.1 L699.5,69.6 L701.0,70.0 L702.5,70.4 L704.0,70.6 L705.5,70.9 L707.0,71.1 L708.5,71.2 L710.0,71.4 L711.5,71.5 L713.0,71.9 L714.5,72.3 L716.0,72.8 L717.5,73.2 L719.0,73.4 L720.5,73.7 L722.0,74.0 L723.5,74.3 L725.0,74.7 L726.5,75.0 L728.0,75.2 L729.5,75.3 L731.0,75.5 L732.5,75.7 L734.0,76.0 L735.5,76.4 L737.0,76.8 L738.5,77.0 L740.0,77.2 L741.5,77.5 L743.0,77.8 L744.5,78.2 L746.0,78.7 L747.5,79.0 L749.0,79.3 L750.5,79.5 L752.0,79.8 L753.5,80.1 L755.0,80.4 L756.5,80.7 L758.0,81.1 L759.5,81.5 L761.0,82.0 L762.5,82.3 L764.0,82.5 L765.5,82.7 L767.0,82.9 L768.5,83.2 L770.0,83.5 L771.5,83.8 L773.0,84.1 L774.5,84.5 L776.0,84.9 L777.5,85.3 L779.0,85.6 L780.5,86.0 L782.0,86.4 L783.5,86.7 L785.0,87.1 L786.5,87.5 L788.0,87.8 L789.5,88.0 L791.0,88.2 L792.5,88.4 L794.0,88.8 L795.5,89.1 L797.0,89.4 L798.5,89.7 L800.0,90.0 L801.5,90.3 L803.0,90.7 L804.5,91.0 L806.0,91.4 L807.5,91.8 L809.0,92.2 L810.5,92.6 L812.0,93.0 L813.5,93.4 L815.0,93.8 L816.5,94.3 L818.0,94.8 L819.5,95.2 L821.0,95.7 L822.5,96.3 L824.0,96.9 L825.5,97.5 L827.0,98.2 L828.5,98.7 L830.0,99.3 L831.5,99.8 L833.0,100.5 L834.5,101.2 L836.0,101.9 L837.5,102.6 L839.0,103.3 L840.5,104.0 L842.0,104.8 L843.5,105.5 L845.0,106.2 L846.5,107.0 L848.0,107.9 L849.5,108.9 L851.0,110.0 L852.5,110.9 L854.0,111.7 L855.5,112.6 L857.0,113.4 L858.5,114.7 L860.0,116.0 L861.5,117.3 L863.0,118.4 L864.5,119.6 L866.0,120.7 L867.5,121.9 L869.0,123.3 L870.5,124.7 L872.0,126.1 L873.5,127.6 L875.0,129.1 L876.5,130.7 L878.0,132.2 L879.5,133.7 L881.0,135.3 L882.5,136.9 L884.0,138.5 L885.5,140.2 L887.0,141.9 L888.5,143.8 L890.0,145.8 L891.5,147.9 L893.0,149.9 L894.5,151.8 L896.0,153.8 L897.5,155.8 L899.0,157.9 L900.5,160.0 L902.0,162.1 L903.5,164.3 L905.0,166.5 L906.5,168.7 L908.0,171.0 L909.5,173.5 L911.0,175.9 L912.5,178.3 L914.0,180.6 L915.5,182.9 L917.0,185.2 L918.5,187.8 L920.0,190.3 L921.5,192.9 L923.0,195.4 L924.5,197.9 L926.0,200.5 L927.5,203.0 L929.0,205.4 L930.5,207.8 L932.0,210.2 L933.5,212.8 L935.0,215.4 L936.5,218.0 L938.0,220.3 L939.5,222.6 L941.0,224.8 L942.5,227.1 L944.0,229.5 L945.5,231.9 L947.0,234.3 L948.5,236.6 L950.0,239.0 L951.5,241.4 L953.0,243.9 L954.5,246.5 L956.0,249.1 L957.5,251.8 L957.9,252.5" fill="none" stroke="#0000ff" stroke-width="4.00" stroke-linejoin="round" stroke-linecap="butt" />
<circle cx="875.3" cy="126.0" r="2.6" fill="#0000ff"/>
<circle cx="890.9" cy="145.5" r="2.6" fill="#0000ff"/>
<circle cx="907.3" cy="172.0" r="2.6" fill="#0000ff"/>
<circle cx="923.0" cy="194.5" r="2.6" fill="#0000ff"/>
<circle cx="934.4" cy="211.0" r="2.6" fill="#0000ff"/>
<circle cx="948.6" cy="232.5" r="2.6" fill="#0000ff"/>
<circle cx="956.1" cy="245.0" r="2.6" fill="#0000ff"/>
<path d="M955.5,247.0 L955.7,247.4 L955.8,247.9 L956.1,248.5 L956.3,249.1 L956.6,249.8 L956.9,250.6 L957.2,251.4 L957.5,252.2 L957.8,253.1 L958.0,254.0 L958.2,254.9 L958.4,255.9 L958.6,256.9 L958.8,257.9 L959.0,259.0 L959.2,260.1 L959.4,261.3 L959.6,262.5 L959.8,263.7 L960.0,265.0 L960.2,266.4 L960.4,267.8 L960.6,269.3 L960.8,270.9 L961.0,272.4 L961.2,274.0 L961.4,275.6 L961.6,277.1 L961.8,278.6 L962.0,280.0 L962.2,281.4 L962.3,282.7 L962.5,284.0 L962.7,285.3 L962.8,286.6 L963.0,287.8 L963.1,289.0 L963.3,290.1 L963.4,291.1 L963.6,292.0 L963.8,292.8 L963.9,293.6 L964.1,294.3 L964.2,294.9 L964.4,295.5 L964.6,296.0 L964.7,296.5 L964.8,296.9 L964.9,297.2 L965.0,297.5" fill="none" stroke="#0000ff" stroke-width="4.40" stroke-linejoin="round" stroke-linecap="round" />
<path d="M965.0,297.5 L965.2,297.1 L965.4,296.7 L965.6,296.1 L965.9,295.5 L966.2,294.9 L966.5,294.2 L966.8,293.4 L967.1,292.6 L967.4,291.8 L967.6,291.0 L967.8,290.1 L967.9,289.2 L968.1,288.3 L968.2,287.3 L968.3,286.2 L968.4,285.2 L968.5,284.1 L968.7,283.1 L968.8,282.0 L969.0,281.0 L969.2,280.0 L969.4,279.0 L969.7,278.0 L969.9,276.9 L970.1,275.9 L970.4,274.9 L970.7,273.9 L971.0,272.9 L971.2,271.9 L971.5,271.0 L971.8,270.1 L972.1,269.1 L972.3,268.2 L972.6,267.2 L972.9,266.3 L973.2,265.4 L973.5,264.6 L973.9,263.8 L974.2,263.1 L974.5,262.5 L974.8,262.0 L975.2,261.6 L975.6,261.2 L976.0,260.9 L976.4,260.7 L976.8,260.5 L977.2,260.4 L977.5,260.2 L977.8,260.1 L978.0,260.0" fill="none" stroke="#0000ff" stroke-width="4.40" stroke-linejoin="round" stroke-linecap="round" />
<polygon points="963,296 962.5,286 964.5,276 967,276 969,284 967.5,296 965,299.5" fill="#0000ff"/>
<polygon points="972.5,257.5 978,255.8 985.8,254.8 985.8,266 979,264.5 974.5,265.5 972.5,262" fill="#0000ff"/>
<line x1="827.90" y1="49.30" x2="969.90" y2="270.50" stroke="#000" stroke-width="4.00" stroke-dasharray="18.50 17.10"/>
<rect x="632.00" y="34.60" width="352.60" height="284.40" fill="none" stroke="#000" stroke-width="2.20"/>
<line x1="632.00" y1="319.00" x2="632.00" y2="308.00" stroke="#000" stroke-width="3.40" stroke-linecap="butt"/>
<line x1="632.00" y1="34.60" x2="632.00" y2="40.20" stroke="#000" stroke-width="2.20" stroke-linecap="butt"/>
<line x1="720.15" y1="319.00" x2="720.15" y2="313.40" stroke="#000" stroke-width="3.40" stroke-linecap="butt"/>
<line x1="720.15" y1="34.60" x2="720.15" y2="37.60" stroke="#000" stroke-width="2.20" stroke-linecap="butt"/>
<line x1="808.30" y1="319.00" x2="808.30" y2="308.00" stroke="#000" stroke-width="3.40" stroke-linecap="butt"/>
<line x1="808.30" y1="34.60" x2="808.30" y2="40.20" stroke="#000" stroke-width="2.20" stroke-linecap="butt"/>
<line x1="896.45" y1="319.00" x2="896.45" y2="313.40" stroke="#000" stroke-width="3.40" stroke-linecap="butt"/>
<line x1="896.45" y1="34.60" x2="896.45" y2="37.60" stroke="#000" stroke-width="2.20" stroke-linecap="butt"/>
<line x1="984.60" y1="319.00" x2="984.60" y2="308.00" stroke="#000" stroke-width="3.40" stroke-linecap="butt"/>
<line x1="984.60" y1="34.60" x2="984.60" y2="40.20" stroke="#000" stroke-width="2.20" stroke-linecap="butt"/>
<line x1="632.00" y1="319.00" x2="643.30" y2="319.00" stroke="#000" stroke-width="2.40" stroke-linecap="butt"/>
<line x1="984.60" y1="319.00" x2="978.60" y2="319.00" stroke="#000" stroke-width="2.40" stroke-linecap="butt"/>
<line x1="632.00" y1="308.30" x2="637.30" y2="308.30" stroke="#000" stroke-width="1.60" stroke-linecap="butt"/>
<line x1="984.60" y1="308.30" x2="981.60" y2="308.30" stroke="#000" stroke-width="1.60" stroke-linecap="butt"/>
<line x1="632.00" y1="302.04" x2="637.30" y2="302.04" stroke="#000" stroke-width="1.60" stroke-linecap="butt"/>
<line x1="984.60" y1="302.04" x2="981.60" y2="302.04" stroke="#000" stroke-width="1.60" stroke-linecap="butt"/>
<line x1="632.00" y1="297.60" x2="637.30" y2="297.60" stroke="#000" stroke-width="1.60" stroke-linecap="butt"/>
<line x1="984.60" y1="297.60" x2="981.60" y2="297.60" stroke="#000" stroke-width="1.60" stroke-linecap="butt"/>
<line x1="632.00" y1="294.15" x2="637.30" y2="294.15" stroke="#000" stroke-width="1.60" stroke-linecap="butt"/>
<line x1="984.60" y1="294.15" x2="981.60" y2="294.15" stroke="#000" stroke-width="1.60" stroke-linecap="butt"/>
<line x1="632.00" y1="291.34" x2="637.30" y2="291.34" stroke="#000" stroke-width="1.60" stroke-linecap="butt"/>
<line x1="984.60" y1="291.34" x2="981.60" y2="291.34" stroke="#000" stroke-width="1.60" stroke-linecap="butt"/>
<line x1="632.00" y1="288.96" x2="637.30" y2="288.96" stroke="#000" stroke-width="1.60" stroke-linecap="butt"/>
<line x1="984.60" y1="288.96" x2="981.60" y2="288.96" stroke="#000" stroke-width="1.60" stroke-linecap="butt"/>
<line x1="632.00" y1="286.90" x2="637.30" y2="286.90" stroke="#000" stroke-width="1.60" stroke-linecap="butt"/>
<line x1="984.60" y1="286.90" x2="981.60" y2="286.90" stroke="#000" stroke-width="1.60" stroke-linecap="butt"/>
<line x1="632.00" y1="285.08" x2="637.30" y2="285.08" stroke="#000" stroke-width="1.60" stroke-linecap="butt"/>
<line x1="984.60" y1="285.08" x2="981.60" y2="285.08" stroke="#000" stroke-width="1.60" stroke-linecap="butt"/>
<line x1="632.00" y1="283.45" x2="643.30" y2="283.45" stroke="#000" stroke-width="2.40" stroke-linecap="butt"/>
<line x1="984.60" y1="283.45" x2="978.60" y2="283.45" stroke="#000" stroke-width="2.40" stroke-linecap="butt"/>
<line x1="632.00" y1="272.75" x2="637.30" y2="272.75" stroke="#000" stroke-width="1.60" stroke-linecap="butt"/>
<line x1="984.60" y1="272.75" x2="981.60" y2="272.75" stroke="#000" stroke-width="1.60" stroke-linecap="butt"/>
<line x1="632.00" y1="266.49" x2="637.30" y2="266.49" stroke="#000" stroke-width="1.60" stroke-linecap="butt"/>
<line x1="984.60" y1="266.49" x2="981.60" y2="266.49" stroke="#000" stroke-width="1.60" stroke-linecap="butt"/>
<line x1="632.00" y1="262.05" x2="637.30" y2="262.05" stroke="#000" stroke-width="1.60" stroke-linecap="butt"/>
<line x1="984.60" y1="262.05" x2="981.60" y2="262.05" stroke="#000" stroke-width="1.60" stroke-linecap="butt"/>
<line x1="632.00" y1="258.60" x2="637.30" y2="258.60" stroke="#000" stroke-width="1.60" stroke-linecap="butt"/>
<line x1="984.60" y1="258.60" x2="981.60" y2="258.60" stroke="#000" stroke-width="1.60" stroke-linecap="butt"/>
<line x1="632.00" y1="255.79" x2="637.30" y2="255.79" stroke="#000" stroke-width="1.60" stroke-linecap="butt"/>
<line x1="984.60" y1="255.79" x2="981.60" y2="255.79" stroke="#000" stroke-width="1.60" stroke-linecap="butt"/>
<line x1="632.00" y1="253.41" x2="637.30" y2="253.41" stroke="#000" stroke-width="1.60" stroke-linecap="butt"/>
<line x1="984.60" y1="253.41" x2="981.60" y2="253.41" stroke="#000" stroke-width="1.60" stroke-linecap="butt"/>
<line x1="632.00" y1="251.35" x2="637.30" y2="251.35" stroke="#000" stroke-width="1.60" stroke-linecap="butt"/>
<line x1="984.60" y1="251.35" x2="981.60" y2="251.35" stroke="#000" stroke-width="1.60" stroke-linecap="butt"/>
<line x1="632.00" y1="249.53" x2="637.30" y2="249.53" stroke="#000" stroke-width="1.60" stroke-linecap="butt"/>
<line x1="984.60" y1="249.53" x2="981.60" y2="249.53" stroke="#000" stroke-width="1.60" stroke-linecap="butt"/>
<line x1="632.00" y1="247.90" x2="643.30" y2="247.90" stroke="#000" stroke-width="2.40" stroke-linecap="butt"/>
<line x1="984.60" y1="247.90" x2="978.60" y2="247.90" stroke="#000" stroke-width="2.40" stroke-linecap="butt"/>
<line x1="632.00" y1="237.20" x2="637.30" y2="237.20" stroke="#000" stroke-width="1.60" stroke-linecap="butt"/>
<line x1="984.60" y1="237.20" x2="981.60" y2="237.20" stroke="#000" stroke-width="1.60" stroke-linecap="butt"/>
<line x1="632.00" y1="230.94" x2="637.30" y2="230.94" stroke="#000" stroke-width="1.60" stroke-linecap="butt"/>
<line x1="984.60" y1="230.94" x2="981.60" y2="230.94" stroke="#000" stroke-width="1.60" stroke-linecap="butt"/>
<line x1="632.00" y1="226.50" x2="637.30" y2="226.50" stroke="#000" stroke-width="1.60" stroke-linecap="butt"/>
<line x1="984.60" y1="226.50" x2="981.60" y2="226.50" stroke="#000" stroke-width="1.60" stroke-linecap="butt"/>
<line x1="632.00" y1="223.05" x2="637.30" y2="223.05" stroke="#000" stroke-width="1.60" stroke-linecap="butt"/>
<line x1="984.60" y1="223.05" x2="981.60" y2="223.05" stroke="#000" stroke-width="1.60" stroke-linecap="butt"/>
<line x1="632.00" y1="220.24" x2="637.30" y2="220.24" stroke="#000" stroke-width="1.60" stroke-linecap="butt"/>
<line x1="984.60" y1="220.24" x2="981.60" y2="220.24" stroke="#000" stroke-width="1.60" stroke-linecap="butt"/>
<line x1="632.00" y1="217.86" x2="637.30" y2="217.86" stroke="#000" stroke-width="1.60" stroke-linecap="butt"/>
<line x1="984.60" y1="217.86" x2="981.60" y2="217.86" stroke="#000" stroke-width="1.60" stroke-linecap="butt"/>
<line x1="632.00" y1="215.80" x2="637.30" y2="215.80" stroke="#000" stroke-width="1.60" stroke-linecap="butt"/>
<line x1="984.60" y1="215.80" x2="981.60" y2="215.80" stroke="#000" stroke-width="1.60" stroke-linecap="butt"/>
<line x1="632.00" y1="213.98" x2="637.30" y2="213.98" stroke="#000" stroke-width="1.60" stroke-linecap="butt"/>
<line x1="984.60" y1="213.98" x2="981.60" y2="213.98" stroke="#000" stroke-width="1.60" stroke-linecap="butt"/>
<line x1="632.00" y1="212.35" x2="643.30" y2="212.35" stroke="#000" stroke-width="2.40" stroke-linecap="butt"/>
<line x1="984.60" y1="212.35" x2="978.60" y2="212.35" stroke="#000" stroke-width="2.40" stroke-linecap="butt"/>
<line x1="632.00" y1="201.65" x2="637.30" y2="201.65" stroke="#000" stroke-width="1.60" stroke-linecap="butt"/>
<line x1="984.60" y1="201.65" x2="981.60" y2="201.65" stroke="#000" stroke-width="1.60" stroke-linecap="butt"/>
<line x1="632.00" y1="195.39" x2="637.30" y2="195.39" stroke="#000" stroke-width="1.60" stroke-linecap="butt"/>
<line x1="984.60" y1="195.39" x2="981.60" y2="195.39" stroke="#000" stroke-width="1.60" stroke-linecap="butt"/>
<line x1="632.00" y1="190.95" x2="637.30" y2="190.95" stroke="#000" stroke-width="1.60" stroke-linecap="butt"/>
<line x1="984.60" y1="190.95" x2="981.60" y2="190.95" stroke="#000" stroke-width="1.60" stroke-linecap="butt"/>
<line x1="632.00" y1="187.50" x2="637.30" y2="187.50" stroke="#000" stroke-width="1.60" stroke-linecap="butt"/>
<line x1="984.60" y1="187.50" x2="981.60" y2="187.50" stroke="#000" stroke-width="1.60" stroke-linecap="butt"/>
<line x1="632.00" y1="184.69" x2="637.30" y2="184.69" stroke="#000" stroke-width="1.60" stroke-linecap="butt"/>
<line x1="984.60" y1="184.69" x2="981.60" y2="184.69" stroke="#000" stroke-width="1.60" stroke-linecap="butt"/>
<line x1="632.00" y1="182.31" x2="637.30" y2="182.31" stroke="#000" stroke-width="1.60" stroke-linecap="butt"/>
<line x1="984.60" y1="182.31" x2="981.60" y2="182.31" stroke="#000" stroke-width="1.60" stroke-linecap="butt"/>
<line x1="632.00" y1="180.25" x2="637.30" y2="180.25" stroke="#000" stroke-width="1.60" stroke-linecap="butt"/>
<line x1="984.60" y1="180.25" x2="981.60" y2="180.25" stroke="#000" stroke-width="1.60" stroke-linecap="butt"/>
<line x1="632.00" y1="178.43" x2="637.30" y2="178.43" stroke="#000" stroke-width="1.60" stroke-linecap="butt"/>
<line x1="984.60" y1="178.43" x2="981.60" y2="178.43" stroke="#000" stroke-width="1.60" stroke-linecap="butt"/>
<line x1="632.00" y1="176.80" x2="643.30" y2="176.80" stroke="#000" stroke-width="2.40" stroke-linecap="butt"/>
<line x1="984.60" y1="176.80" x2="978.60" y2="176.80" stroke="#000" stroke-width="2.40" stroke-linecap="butt"/>
<line x1="632.00" y1="166.10" x2="637.30" y2="166.10" stroke="#000" stroke-width="1.60" stroke-linecap="butt"/>
<line x1="984.60" y1="166.10" x2="981.60" y2="166.10" stroke="#000" stroke-width="1.60" stroke-linecap="butt"/>
<line x1="632.00" y1="159.84" x2="637.30" y2="159.84" stroke="#000" stroke-width="1.60" stroke-linecap="butt"/>
<line x1="984.60" y1="159.84" x2="981.60" y2="159.84" stroke="#000" stroke-width="1.60" stroke-linecap="butt"/>
<line x1="632.00" y1="155.40" x2="637.30" y2="155.40" stroke="#000" stroke-width="1.60" stroke-linecap="butt"/>
<line x1="984.60" y1="155.40" x2="981.60" y2="155.40" stroke="#000" stroke-width="1.60" stroke-linecap="butt"/>
<line x1="632.00" y1="151.95" x2="637.30" y2="151.95" stroke="#000" stroke-width="1.60" stroke-linecap="butt"/>
<line x1="984.60" y1="151.95" x2="981.60" y2="151.95" stroke="#000" stroke-width="1.60" stroke-linecap="butt"/>
<line x1="632.00" y1="149.14" x2="637.30" y2="149.14" stroke="#000" stroke-width="1.60" stroke-linecap="butt"/>
<line x1="984.60" y1="149.14" x2="981.60" y2="149.14" stroke="#000" stroke-width="1.60" stroke-linecap="butt"/>
<line x1="632.00" y1="146.76" x2="637.30" y2="146.76" stroke="#000" stroke-width="1.60" stroke-linecap="butt"/>
<line x1="984.60" y1="146.76" x2="981.60" y2="146.76" stroke="#000" stroke-width="1.60" stroke-linecap="butt"/>
<line x1="632.00" y1="144.70" x2="637.30" y2="144.70" stroke="#000" stroke-width="1.60" stroke-linecap="butt"/>
<line x1="984.60" y1="144.70" x2="981.60" y2="144.70" stroke="#000" stroke-width="1.60" stroke-linecap="butt"/>
<line x1="632.00" y1="142.88" x2="637.30" y2="142.88" stroke="#000" stroke-width="1.60" stroke-linecap="butt"/>
<line x1="984.60" y1="142.88" x2="981.60" y2="142.88" stroke="#000" stroke-width="1.60" stroke-linecap="butt"/>
<line x1="632.00" y1="141.25" x2="643.30" y2="141.25" stroke="#000" stroke-width="2.40" stroke-linecap="butt"/>
<line x1="984.60" y1="141.25" x2="978.60" y2="141.25" stroke="#000" stroke-width="2.40" stroke-linecap="butt"/>
<line x1="632.00" y1="130.55" x2="637.30" y2="130.55" stroke="#000" stroke-width="1.60" stroke-linecap="butt"/>
<line x1="984.60" y1="130.55" x2="981.60" y2="130.55" stroke="#000" stroke-width="1.60" stroke-linecap="butt"/>
<line x1="632.00" y1="124.29" x2="637.30" y2="124.29" stroke="#000" stroke-width="1.60" stroke-linecap="butt"/>
<line x1="984.60" y1="124.29" x2="981.60" y2="124.29" stroke="#000" stroke-width="1.60" stroke-linecap="butt"/>
<line x1="632.00" y1="119.85" x2="637.30" y2="119.85" stroke="#000" stroke-width="1.60" stroke-linecap="butt"/>
<line x1="984.60" y1="119.85" x2="981.60" y2="119.85" stroke="#000" stroke-width="1.60" stroke-linecap="butt"/>
<line x1="632.00" y1="116.40" x2="637.30" y2="116.40" stroke="#000" stroke-width="1.60" stroke-linecap="butt"/>
<line x1="984.60" y1="116.40" x2="981.60" y2="116.40" stroke="#000" stroke-width="1.60" stroke-linecap="butt"/>
<line x1="632.00" y1="113.59" x2="637.30" y2="113.59" stroke="#000" stroke-width="1.60" stroke-linecap="butt"/>
<line x1="984.60" y1="113.59" x2="981.60" y2="113.59" stroke="#000" stroke-width="1.60" stroke-linecap="butt"/>
<line x1="632.00" y1="111.21" x2="637.30" y2="111.21" stroke="#000" stroke-width="1.60" stroke-linecap="butt"/>
<line x1="984.60" y1="111.21" x2="981.60" y2="111.21" stroke="#000" stroke-width="1.60" stroke-linecap="butt"/>
<line x1="632.00" y1="109.15" x2="637.30" y2="109.15" stroke="#000" stroke-width="1.60" stroke-linecap="butt"/>
<line x1="984.60" y1="109.15" x2="981.60" y2="109.15" stroke="#000" stroke-width="1.60" stroke-linecap="butt"/>
<line x1="632.00" y1="107.33" x2="637.30" y2="107.33" stroke="#000" stroke-width="1.60" stroke-linecap="butt"/>
<line x1="984.60" y1="107.33" x2="981.60" y2="107.33" stroke="#000" stroke-width="1.60" stroke-linecap="butt"/>
<line x1="632.00" y1="105.70" x2="643.30" y2="105.70" stroke="#000" stroke-width="2.40" stroke-linecap="butt"/>
<line x1="984.60" y1="105.70" x2="978.60" y2="105.70" stroke="#000" stroke-width="2.40" stroke-linecap="butt"/>
<line x1="632.00" y1="95.00" x2="637.30" y2="95.00" stroke="#000" stroke-width="1.60" stroke-linecap="butt"/>
<line x1="984.60" y1="95.00" x2="981.60" y2="95.00" stroke="#000" stroke-width="1.60" stroke-linecap="butt"/>
<line x1="632.00" y1="88.74" x2="637.30" y2="88.74" stroke="#000" stroke-width="1.60" stroke-linecap="butt"/>
<line x1="984.60" y1="88.74" x2="981.60" y2="88.74" stroke="#000" stroke-width="1.60" stroke-linecap="butt"/>
<line x1="632.00" y1="84.30" x2="637.30" y2="84.30" stroke="#000" stroke-width="1.60" stroke-linecap="butt"/>
<line x1="984.60" y1="84.30" x2="981.60" y2="84.30" stroke="#000" stroke-width="1.60" stroke-linecap="butt"/>
<line x1="632.00" y1="80.85" x2="637.30" y2="80.85" stroke="#000" stroke-width="1.60" stroke-linecap="butt"/>
<line x1="984.60" y1="80.85" x2="981.60" y2="80.85" stroke="#000" stroke-width="1.60" stroke-linecap="butt"/>
<line x1="632.00" y1="78.04" x2="637.30" y2="78.04" stroke="#000" stroke-width="1.60" stroke-linecap="butt"/>
<line x1="984.60" y1="78.04" x2="981.60" y2="78.04" stroke="#000" stroke-width="1.60" stroke-linecap="butt"/>
<line x1="632.00" y1="75.66" x2="637.30" y2="75.66" stroke="#000" stroke-width="1.60" stroke-linecap="butt"/>
<line x1="984.60" y1="75.66" x2="981.60" y2="75.66" stroke="#000" stroke-width="1.60" stroke-linecap="butt"/>
<line x1="632.00" y1="73.60" x2="637.30" y2="73.60" stroke="#000" stroke-width="1.60" stroke-linecap="butt"/>
<line x1="984.60" y1="73.60" x2="981.60" y2="73.60" stroke="#000" stroke-width="1.60" stroke-linecap="butt"/>
<line x1="632.00" y1="71.78" x2="637.30" y2="71.78" stroke="#000" stroke-width="1.60" stroke-linecap="butt"/>
<line x1="984.60" y1="71.78" x2="981.60" y2="71.78" stroke="#000" stroke-width="1.60" stroke-linecap="butt"/>
<line x1="632.00" y1="70.15" x2="643.30" y2="70.15" stroke="#000" stroke-width="2.40" stroke-linecap="butt"/>
<line x1="984.60" y1="70.15" x2="978.60" y2="70.15" stroke="#000" stroke-width="2.40" stroke-linecap="butt"/>
<line x1="632.00" y1="59.45" x2="637.30" y2="59.45" stroke="#000" stroke-width="1.60" stroke-linecap="butt"/>
<line x1="984.60" y1="59.45" x2="981.60" y2="59.45" stroke="#000" stroke-width="1.60" stroke-linecap="butt"/>
<line x1="632.00" y1="53.19" x2="637.30" y2="53.19" stroke="#000" stroke-width="1.60" stroke-linecap="butt"/>
<line x1="984.60" y1="53.19" x2="981.60" y2="53.19" stroke="#000" stroke-width="1.60" stroke-linecap="butt"/>
<line x1="632.00" y1="48.75" x2="637.30" y2="48.75" stroke="#000" stroke-width="1.60" stroke-linecap="butt"/>
<line x1="984.60" y1="48.75" x2="981.60" y2="48.75" stroke="#000" stroke-width="1.60" stroke-linecap="butt"/>
<line x1="632.00" y1="45.30" x2="637.30" y2="45.30" stroke="#000" stroke-width="1.60" stroke-linecap="butt"/>
<line x1="984.60" y1="45.30" x2="981.60" y2="45.30" stroke="#000" stroke-width="1.60" stroke-linecap="butt"/>
<line x1="632.00" y1="42.49" x2="637.30" y2="42.49" stroke="#000" stroke-width="1.60" stroke-linecap="butt"/>
<line x1="984.60" y1="42.49" x2="981.60" y2="42.49" stroke="#000" stroke-width="1.60" stroke-linecap="butt"/>
<line x1="632.00" y1="40.11" x2="637.30" y2="40.11" stroke="#000" stroke-width="1.60" stroke-linecap="butt"/>
<line x1="984.60" y1="40.11" x2="981.60" y2="40.11" stroke="#000" stroke-width="1.60" stroke-linecap="butt"/>
<line x1="632.00" y1="38.05" x2="637.30" y2="38.05" stroke="#000" stroke-width="1.60" stroke-linecap="butt"/>
<line x1="984.60" y1="38.05" x2="981.60" y2="38.05" stroke="#000" stroke-width="1.60" stroke-linecap="butt"/>
<line x1="632.00" y1="36.23" x2="637.30" y2="36.23" stroke="#000" stroke-width="1.60" stroke-linecap="butt"/>
<line x1="984.60" y1="36.23" x2="981.60" y2="36.23" stroke="#000" stroke-width="1.60" stroke-linecap="butt"/>
<line x1="632.00" y1="34.60" x2="643.30" y2="34.60" stroke="#000" stroke-width="2.40" stroke-linecap="butt"/>
<line x1="984.60" y1="34.60" x2="978.60" y2="34.60" stroke="#000" stroke-width="2.40" stroke-linecap="butt"/>
<text transform="translate(529.36,30.00) scale(1,1.045)" font-size="41.50" font-weight="bold">b</text>
<text transform="translate(581.68,42.90) scale(1,1.045)" font-size="25.00" ><tspan><tspan font-family="NanumGothic, Liberation Sans, sans-serif" font-weight="bold" font-size="22.00">1</tspan><tspan dx="0.57">0</tspan></tspan><tspan font-size="16.00" dy="-12.30"><tspan font-family="NanumGothic, Liberation Sans, sans-serif" font-weight="bold" font-size="14.08">1</tspan><tspan dx="0.37"></tspan></tspan></text>
<text transform="translate(572.38,184.50) scale(1,1.045)" font-size="25.00" ><tspan><tspan font-family="NanumGothic, Liberation Sans, sans-serif" font-weight="bold" font-size="22.00">1</tspan><tspan dx="0.57">0</tspan></tspan><tspan font-size="16.00" dy="-12.30">–3</tspan></text>
<text transform="translate(571.98,326.20) scale(1,1.045)" font-size="25.00" ><tspan><tspan font-family="NanumGothic, Liberation Sans, sans-serif" font-weight="bold" font-size="22.00">1</tspan><tspan dx="0.57">0</tspan></tspan><tspan font-size="16.00" dy="-12.30">–7</tspan></text>
<text transform="translate(607.46,349.80) scale(1,1.045)" font-size="25.00" ><tspan>–<tspan font-family="NanumGothic, Liberation Sans, sans-serif" font-weight="bold" font-size="22.00">1</tspan><tspan dx="0.57">.0</tspan></tspan></text>
<text transform="translate(784.50,349.80) scale(1,1.045)" font-size="25.00" ><tspan>–0.5</tspan></text>
<text transform="translate(967.62,349.80) scale(1,1.045)" font-size="25.00" ><tspan>0.0</tspan></text>
<text transform="translate(770.24,387.20) scale(1,1.045)" font-size="25.00" ><tspan font-style="italic">V</tspan><tspan font-size="16.60" dy="8.40" dx="-2.00">BG</tspan><tspan dy="-8.40"> (V)</tspan></text>
<text transform="translate(552.00,242.09) rotate(-90) scale(1,1.045)" font-size="25.00" ><tspan font-style="italic">I</tspan><tspan font-size="16.30" dy="8.40">DS</tspan><tspan dy="-8.40"> (μA μm</tspan><tspan font-size="16.30" dy="-12.00">–<tspan font-family="NanumGothic, Liberation Sans, sans-serif" font-weight="bold" font-size="14.34">1</tspan><tspan dx="0.37"></tspan></tspan><tspan dy="12.00">)</tspan></text>
<text transform="translate(856.63,65.00) scale(1,1.045)" font-size="23.00" >63 mV/dec</text>
<text transform="translate(651.87,257.50) scale(1,1.045)" font-size="23.00" ><tspan>4 L WSe</tspan><tspan font-size="15.00" dy="5.80" dx="0.90">2</tspan></text>
<text transform="translate(653.73,292.60) scale(1,1.045)" font-size="22.75" ><tspan font-style="italic">V</tspan><tspan font-size="12.40" dy="5.80" dx="-1.50">DS</tspan><tspan dy="-5.80"> = <tspan font-family="NanumGothic, Liberation Sans, sans-serif" font-weight="bold" font-size="20.02">1</tspan><tspan dx="0.52">00 mV</tspan></tspan></text>
<path d="M1153.8,51.4 L1155.3,51.6 L1156.8,51.9 L1158.3,52.2 L1159.8,52.3 L1161.3,52.4 L1162.8,52.5 L1164.3,52.6 L1165.8,52.8 L1167.3,53.0 L1168.8,53.2 L1170.3,53.5 L1171.8,53.8 L1173.3,54.0 L1174.8,54.2 L1176.3,54.3 L1177.8,54.5 L1179.3,54.6 L1180.8,54.8 L1182.3,54.9 L1183.8,55.1 L1185.3,55.3 L1186.8,55.6 L1188.3,55.9 L1189.8,56.1 L1191.3,56.2 L1192.8,56.4 L1194.3,56.6 L1195.8,56.7 L1197.3,56.9 L1198.8,57.0 L1200.3,57.2 L1201.8,57.5 L1203.3,57.7 L1204.8,57.9 L1206.3,58.0 L1207.8,58.2 L1209.3,58.3 L1210.8,58.4 L1212.3,58.5 L1213.8,58.5 L1215.3,58.7 L1216.8,59.0 L1218.3,59.2 L1219.8,59.4 L1221.3,59.7 L1222.8,60.0 L1224.3,60.2 L1225.8,60.3 L1227.3,60.4 L1228.8,60.6 L1230.3,60.9 L1231.8,61.2 L1233.3,61.5 L1234.8,61.7 L1236.3,61.9 L1237.8,62.1 L1239.3,62.4 L1240.8,62.7 L1242.3,63.0 L1243.8,63.3 L1245.3,63.5 L1246.8,63.7 L1248.3,63.9 L1249.8,64.2 L1251.3,64.4 L1252.8,64.7 L1254.3,65.0 L1255.8,65.5 L1257.3,66.0 L1258.8,66.4 L1260.3,66.7 L1261.8,67.0 L1263.3,67.3 L1264.8,67.7 L1266.3,68.1 L1267.8,68.5 L1269.3,68.9 L1270.8,69.3 L1272.3,69.8 L1273.8,70.2 L1275.3,70.5 L1276.8,70.8 L1278.3,71.2 L1279.8,71.6 L1281.3,72.1 L1282.8,72.6 L1284.3,73.0 L1285.8,73.5 L1287.3,74.0 L1288.8,74.6 L1290.3,75.1 L1291.8,75.6 L1293.3,76.1 L1294.8,76.6 L1296.3,77.0 L1297.8,77.5 L1299.3,78.0 L1300.8,78.7 L1302.3,79.4 L1303.8,80.0 L1305.3,80.6 L1306.8,81.2 L1308.3,81.8 L1309.8,82.5 L1311.3,83.2 L1312.8,84.0 L1314.3,84.7 L1315.8,85.5 L1317.3,86.2 L1318.8,87.0 L1320.3,87.7 L1321.8,88.5 L1323.3,89.2 L1324.8,90.1 L1326.3,91.1 L1327.8,92.0 L1329.3,93.1 L1330.8,94.1 L1332.3,95.2 L1333.8,96.4 L1335.3,97.3 L1336.8,98.3 L1338.3,99.3 L1339.8,100.5 L1341.3,101.8 L1342.8,103.1 L1344.3,104.5 L1345.8,105.8 L1347.3,107.2 L1348.8,108.6 L1350.3,110.0 L1351.8,111.4 L1353.3,112.8 L1354.8,114.4 L1356.3,116.1 L1357.8,117.9 L1359.3,119.6 L1360.8,121.4 L1362.3,123.3 L1363.8,125.2 L1365.3,127.1 L1366.8,129.0 L1368.3,131.0 L1369.8,133.0 L1371.3,135.0 L1372.8,137.1 L1374.3,139.2 L1375.8,141.4 L1377.3,143.6 L1378.8,145.9 L1380.3,148.1 L1381.8,150.4 L1383.3,152.7 L1384.8,155.1 L1386.3,157.6 L1387.8,160.1 L1389.3,162.6 L1390.8,165.2 L1392.3,167.9 L1393.8,170.5 L1395.3,173.3 L1396.8,176.1 L1398.3,178.8 L1399.8,181.7 L1401.3,184.5 L1402.8,187.3 L1404.3,190.1 L1405.8,192.9 L1407.3,195.6 L1408.8,198.4 L1410.3,201.1 L1411.8,203.8 L1413.3,206.6 L1414.8,209.3 L1416.3,212.0 L1417.8,214.7 L1419.3,217.4 L1420.8,220.2 L1422.3,223.0 L1423.8,226.0 L1425.3,228.9 L1426.8,232.0 L1428.3,235.3 L1429.8,238.8 L1431.3,242.5 L1432.8,246.6 L1434.3,251.0 L1435.8,255.8 L1437.3,260.9 L1438.8,266.8 L1440.3,274.2 L1441.2,279.6" fill="none" stroke="#0000ff" stroke-width="3.50" stroke-linejoin="round" stroke-linecap="butt" />
<path d="M1153.8,51.3 L1155.3,51.6 L1156.8,51.9 L1158.3,52.2 L1159.8,52.3 L1161.3,52.4 L1162.8,52.4 L1164.3,52.6 L1165.8,52.8 L1167.3,53.1 L1168.8,53.3 L1170.3,53.7 L1171.8,54.0 L1173.3,54.3 L1174.8,54.6 L1176.3,54.7 L1177.8,54.9 L1179.3,55.1 L1180.8,55.3 L1182.3,55.6 L1183.8,55.8 L1185.3,56.2 L1186.8,56.6 L1188.3,57.0 L1189.8,57.3 L1191.3,57.5 L1192.8,57.8 L1194.3,58.1 L1195.8,58.3 L1197.3,58.6 L1198.8,58.8 L1200.3,59.2 L1201.8,59.6 L1203.3,60.0 L1204.8,60.3 L1206.3,60.6 L1207.8,60.8 L1209.3,61.1 L1210.8,61.3 L1212.3,61.4 L1213.8,61.6 L1215.3,62.0 L1216.8,62.4 L1218.3,62.7 L1219.8,63.2 L1221.3,63.6 L1222.8,64.1 L1224.3,64.5 L1225.8,64.8 L1227.3,65.0 L1228.8,65.3 L1230.3,65.8 L1231.8,66.3 L1233.3,66.9 L1234.8,67.3 L1236.3,67.6 L1237.8,68.0 L1239.3,68.4 L1240.8,68.9 L1242.3,69.4 L1243.8,69.9 L1245.3,70.3 L1246.8,70.7 L1248.3,71.1 L1249.8,71.5 L1251.3,72.0 L1252.8,72.4 L1254.3,72.9 L1255.8,73.6 L1257.3,74.4 L1258.8,75.1 L1260.3,75.6 L1261.8,76.0 L1263.3,76.5 L1264.8,77.1 L1266.3,77.7 L1267.8,78.3 L1269.3,78.9 L1270.8,79.6 L1272.3,80.2 L1273.8,80.8 L1275.3,81.3 L1276.8,81.8 L1278.3,82.3 L1279.8,83.0 L1281.3,83.6 L1282.8,84.3 L1284.3,85.0 L1285.8,85.7 L1287.3,86.4 L1288.8,87.1 L1290.3,87.8 L1291.8,88.5 L1293.3,89.2 L1294.8,89.8 L1296.3,90.5 L1297.8,91.1 L1299.3,91.8 L1300.8,92.7 L1302.3,93.5 L1303.8,94.4 L1305.3,95.2 L1306.8,95.9 L1308.3,96.7 L1309.8,97.5 L1311.3,98.5 L1312.8,99.4 L1314.3,100.4 L1315.8,101.3 L1317.3,102.2 L1318.8,103.2 L1320.3,104.0 L1321.8,104.9 L1323.3,105.9 L1324.8,106.9 L1326.3,108.1 L1327.8,109.2 L1329.3,110.5 L1330.8,111.8 L1332.3,113.1 L1333.8,114.5 L1335.3,115.5 L1336.8,116.7 L1338.3,117.8 L1339.8,119.2 L1341.3,120.8 L1342.8,122.4 L1344.3,124.0 L1345.8,125.5 L1347.3,127.2 L1348.8,128.8 L1350.3,130.4 L1351.8,131.9 L1353.3,133.5 L1354.8,135.4 L1356.3,137.4 L1357.8,139.4 L1359.3,141.5 L1360.8,143.5 L1362.3,145.6 L1363.8,147.7 L1365.3,149.9 L1366.8,152.0 L1368.3,154.2 L1369.8,156.4 L1371.3,158.6 L1372.8,160.9 L1374.3,163.2 L1375.8,165.6 L1377.3,167.9 L1378.8,170.4 L1380.3,172.7 L1381.8,175.1 L1383.3,177.5 L1384.8,180.0 L1386.3,182.5 L1387.8,185.0 L1389.3,187.6 L1390.8,190.1 L1392.3,192.6 L1393.8,195.2 L1395.3,197.7 L1396.8,200.3 L1398.3,202.8 L1399.8,205.3 L1401.3,207.8 L1402.8,210.2 L1404.3,212.5 L1405.8,214.7 L1407.3,216.9 L1408.8,219.0 L1410.3,221.2 L1411.8,223.3 L1413.3,225.5 L1414.8,227.7 L1416.3,229.9 L1417.8,232.2 L1419.3,234.5 L1420.8,237.0 L1422.3,239.5 L1423.8,242.0 L1425.3,244.5 L1426.8,247.1 L1428.3,249.8 L1429.8,252.5 L1431.3,255.4 L1432.8,258.5 L1434.3,261.6 L1435.8,265.3 L1437.3,270.2 L1438.8,277.3 L1439.2,279.6" fill="none" stroke="#0000ff" stroke-width="3.50" stroke-linejoin="round" stroke-linecap="butt" />
<polygon points="1443.5,265.0 1445.2,258.2 1447.1,256.8 1449.0,255.4 1450.5,253.3 1452.0,252.2 1453.5,251.5 1454.9,251.8 1456.2,249.8 1457.6,250.2 1459.0,249.3 1460.5,247.7 1462.1,247.9 1463.7,247.2 1465.2,246.5 1466.7,247.1 1468.1,244.8 1469.5,244.1 1471.0,245.4 1472.5,243.8 1474.0,242.9 1475.4,242.7 1476.9,242.3 1478.4,243.1 1480.0,241.2 1481.5,240.8 1483.0,241.2 1484.4,240.8 1485.8,241.3 1487.3,240.7 1488.7,239.4 1490.0,238.9 1491.3,239.9 1492.7,239.9 1494.0,237.8 1495.6,239.0 1497.2,239.0 1498.8,238.4 1500.4,237.3 1502.0,238.3 1503.6,238.1 1505.2,236.8 1506.8,237.3 1506.8,265.2 1504.9,261.5 1503.0,257.6 1500.4,256.8 1498.8,256.5 1497.2,257.3 1495.6,256.7 1494.0,257.8 1492.7,258.9 1491.3,258.7 1490.0,260.0 1488.7,260.3 1487.3,259.8 1485.8,259.7 1484.4,261.5 1483.0,260.8 1481.5,261.2 1480.0,263.0 1478.4,263.8 1476.9,264.3 1475.4,265.1 1474.0,264.3 1472.5,264.7 1471.0,265.3 1469.5,267.5 1468.1,266.5 1466.7,267.2 1465.2,268.4 1462.8,269.6 1458.0,270.2 1453.5,272.0 1451.0,280.0 1450.0,295.0 1449.4,320.5 1438.5,320.5 1438.0,300.0 1437.5,282.0 1438.5,274.0 1441.0,269.0" fill="#0000ff"/>
<path d="M1447,272 L1452,265 L1458,261 L1466,257.5 L1472,255.8" fill="none" stroke="#fff" stroke-width="1.2"/>
<line x1="1498.00" y1="255.00" x2="1498.00" y2="262.50" stroke="#0000ff" stroke-width="2.40" stroke-linecap="butt"/>
<line x1="1325.10" y1="61.20" x2="1484.00" y2="320.40" stroke="#000" stroke-width="4.00" stroke-dasharray="20.00 15.50"/>
<rect x="1153.80" y="35.00" width="352.70" height="284.60" fill="none" stroke="#000" stroke-width="2.20"/>
<line x1="1153.80" y1="319.60" x2="1153.80" y2="308.60" stroke="#000" stroke-width="3.40" stroke-linecap="butt"/>
<line x1="1153.80" y1="35.00" x2="1153.80" y2="40.60" stroke="#000" stroke-width="2.20" stroke-linecap="butt"/>
<line x1="1241.97" y1="319.60" x2="1241.97" y2="314.00" stroke="#000" stroke-width="3.40" stroke-linecap="butt"/>
<line x1="1241.97" y1="35.00" x2="1241.97" y2="38.00" stroke="#000" stroke-width="2.20" stroke-linecap="butt"/>
<line x1="1330.15" y1="319.60" x2="1330.15" y2="308.60" stroke="#000" stroke-width="3.40" stroke-linecap="butt"/>
<line x1="1330.15" y1="35.00" x2="1330.15" y2="40.60" stroke="#000" stroke-width="2.20" stroke-linecap="butt"/>
<line x1="1418.33" y1="319.60" x2="1418.33" y2="314.00" stroke="#000" stroke-width="3.40" stroke-linecap="butt"/>
<line x1="1418.33" y1="35.00" x2="1418.33" y2="38.00" stroke="#000" stroke-width="2.20" stroke-linecap="butt"/>
<line x1="1506.50" y1="319.60" x2="1506.50" y2="308.60" stroke="#000" stroke-width="3.40" stroke-linecap="butt"/>
<line x1="1506.50" y1="35.00" x2="1506.50" y2="40.60" stroke="#000" stroke-width="2.20" stroke-linecap="butt"/>
<line x1="1153.80" y1="319.60" x2="1165.10" y2="319.60" stroke="#000" stroke-width="2.40" stroke-linecap="butt"/>
<line x1="1506.50" y1="319.60" x2="1500.50" y2="319.60" stroke="#000" stroke-width="2.40" stroke-linecap="butt"/>
<line x1="1153.80" y1="308.89" x2="1159.10" y2="308.89" stroke="#000" stroke-width="1.60" stroke-linecap="butt"/>
<line x1="1506.50" y1="308.89" x2="1503.50" y2="308.89" stroke="#000" stroke-width="1.60" stroke-linecap="butt"/>
<line x1="1153.80" y1="302.63" x2="1159.10" y2="302.63" stroke="#000" stroke-width="1.60" stroke-linecap="butt"/>
<line x1="1506.50" y1="302.63" x2="1503.50" y2="302.63" stroke="#000" stroke-width="1.60" stroke-linecap="butt"/>
<line x1="1153.80" y1="298.18" x2="1159.10" y2="298.18" stroke="#000" stroke-width="1.60" stroke-linecap="butt"/>
<line x1="1506.50" y1="298.18" x2="1503.50" y2="298.18" stroke="#000" stroke-width="1.60" stroke-linecap="butt"/>
<line x1="1153.80" y1="294.73" x2="1159.10" y2="294.73" stroke="#000" stroke-width="1.60" stroke-linecap="butt"/>
<line x1="1506.50" y1="294.73" x2="1503.50" y2="294.73" stroke="#000" stroke-width="1.60" stroke-linecap="butt"/>
<line x1="1153.80" y1="291.92" x2="1159.10" y2="291.92" stroke="#000" stroke-width="1.60" stroke-linecap="butt"/>
<line x1="1506.50" y1="291.92" x2="1503.50" y2="291.92" stroke="#000" stroke-width="1.60" stroke-linecap="butt"/>
<line x1="1153.80" y1="289.54" x2="1159.10" y2="289.54" stroke="#000" stroke-width="1.60" stroke-linecap="butt"/>
<line x1="1506.50" y1="289.54" x2="1503.50" y2="289.54" stroke="#000" stroke-width="1.60" stroke-linecap="butt"/>
<line x1="1153.80" y1="287.47" x2="1159.10" y2="287.47" stroke="#000" stroke-width="1.60" stroke-linecap="butt"/>
<line x1="1506.50" y1="287.47" x2="1503.50" y2="287.47" stroke="#000" stroke-width="1.60" stroke-linecap="butt"/>
<line x1="1153.80" y1="285.65" x2="1159.10" y2="285.65" stroke="#000" stroke-width="1.60" stroke-linecap="butt"/>
<line x1="1506.50" y1="285.65" x2="1503.50" y2="285.65" stroke="#000" stroke-width="1.60" stroke-linecap="butt"/>
<line x1="1153.80" y1="284.03" x2="1165.10" y2="284.03" stroke="#000" stroke-width="2.40" stroke-linecap="butt"/>
<line x1="1506.50" y1="284.03" x2="1500.50" y2="284.03" stroke="#000" stroke-width="2.40" stroke-linecap="butt"/>
<line x1="1153.80" y1="273.32" x2="1159.10" y2="273.32" stroke="#000" stroke-width="1.60" stroke-linecap="butt"/>
<line x1="1506.50" y1="273.32" x2="1503.50" y2="273.32" stroke="#000" stroke-width="1.60" stroke-linecap="butt"/>
<line x1="1153.80" y1="267.05" x2="1159.10" y2="267.05" stroke="#000" stroke-width="1.60" stroke-linecap="butt"/>
<line x1="1506.50" y1="267.05" x2="1503.50" y2="267.05" stroke="#000" stroke-width="1.60" stroke-linecap="butt"/>
<line x1="1153.80" y1="262.61" x2="1159.10" y2="262.61" stroke="#000" stroke-width="1.60" stroke-linecap="butt"/>
<line x1="1506.50" y1="262.61" x2="1503.50" y2="262.61" stroke="#000" stroke-width="1.60" stroke-linecap="butt"/>
<line x1="1153.80" y1="259.16" x2="1159.10" y2="259.16" stroke="#000" stroke-width="1.60" stroke-linecap="butt"/>
<line x1="1506.50" y1="259.16" x2="1503.50" y2="259.16" stroke="#000" stroke-width="1.60" stroke-linecap="butt"/>
<line x1="1153.80" y1="256.34" x2="1159.10" y2="256.34" stroke="#000" stroke-width="1.60" stroke-linecap="butt"/>
<line x1="1506.50" y1="256.34" x2="1503.50" y2="256.34" stroke="#000" stroke-width="1.60" stroke-linecap="butt"/>
<line x1="1153.80" y1="253.96" x2="1159.10" y2="253.96" stroke="#000" stroke-width="1.60" stroke-linecap="butt"/>
<line x1="1506.50" y1="253.96" x2="1503.50" y2="253.96" stroke="#000" stroke-width="1.60" stroke-linecap="butt"/>
<line x1="1153.80" y1="251.90" x2="1159.10" y2="251.90" stroke="#000" stroke-width="1.60" stroke-linecap="butt"/>
<line x1="1506.50" y1="251.90" x2="1503.50" y2="251.90" stroke="#000" stroke-width="1.60" stroke-linecap="butt"/>
<line x1="1153.80" y1="250.08" x2="1159.10" y2="250.08" stroke="#000" stroke-width="1.60" stroke-linecap="butt"/>
<line x1="1506.50" y1="250.08" x2="1503.50" y2="250.08" stroke="#000" stroke-width="1.60" stroke-linecap="butt"/>
<line x1="1153.80" y1="248.45" x2="1165.10" y2="248.45" stroke="#000" stroke-width="2.40" stroke-linecap="butt"/>
<line x1="1506.50" y1="248.45" x2="1500.50" y2="248.45" stroke="#000" stroke-width="2.40" stroke-linecap="butt"/>
<line x1="1153.80" y1="237.74" x2="1159.10" y2="237.74" stroke="#000" stroke-width="1.60" stroke-linecap="butt"/>
<line x1="1506.50" y1="237.74" x2="1503.50" y2="237.74" stroke="#000" stroke-width="1.60" stroke-linecap="butt"/>
<line x1="1153.80" y1="231.48" x2="1159.10" y2="231.48" stroke="#000" stroke-width="1.60" stroke-linecap="butt"/>
<line x1="1506.50" y1="231.48" x2="1503.50" y2="231.48" stroke="#000" stroke-width="1.60" stroke-linecap="butt"/>
<line x1="1153.80" y1="227.03" x2="1159.10" y2="227.03" stroke="#000" stroke-width="1.60" stroke-linecap="butt"/>
<line x1="1506.50" y1="227.03" x2="1503.50" y2="227.03" stroke="#000" stroke-width="1.60" stroke-linecap="butt"/>
<line x1="1153.80" y1="223.58" x2="1159.10" y2="223.58" stroke="#000" stroke-width="1.60" stroke-linecap="butt"/>
<line x1="1506.50" y1="223.58" x2="1503.50" y2="223.58" stroke="#000" stroke-width="1.60" stroke-linecap="butt"/>
<line x1="1153.80" y1="220.77" x2="1159.10" y2="220.77" stroke="#000" stroke-width="1.60" stroke-linecap="butt"/>
<line x1="1506.50" y1="220.77" x2="1503.50" y2="220.77" stroke="#000" stroke-width="1.60" stroke-linecap="butt"/>
<line x1="1153.80" y1="218.39" x2="1159.10" y2="218.39" stroke="#000" stroke-width="1.60" stroke-linecap="butt"/>
<line x1="1506.50" y1="218.39" x2="1503.50" y2="218.39" stroke="#000" stroke-width="1.60" stroke-linecap="butt"/>
<line x1="1153.80" y1="216.32" x2="1159.10" y2="216.32" stroke="#000" stroke-width="1.60" stroke-linecap="butt"/>
<line x1="1506.50" y1="216.32" x2="1503.50" y2="216.32" stroke="#000" stroke-width="1.60" stroke-linecap="butt"/>
<line x1="1153.80" y1="214.50" x2="1159.10" y2="214.50" stroke="#000" stroke-width="1.60" stroke-linecap="butt"/>
<line x1="1506.50" y1="214.50" x2="1503.50" y2="214.50" stroke="#000" stroke-width="1.60" stroke-linecap="butt"/>
<line x1="1153.80" y1="212.88" x2="1165.10" y2="212.88" stroke="#000" stroke-width="2.40" stroke-linecap="butt"/>
<line x1="1506.50" y1="212.88" x2="1500.50" y2="212.88" stroke="#000" stroke-width="2.40" stroke-linecap="butt"/>
<line x1="1153.80" y1="202.17" x2="1159.10" y2="202.17" stroke="#000" stroke-width="1.60" stroke-linecap="butt"/>
<line x1="1506.50" y1="202.17" x2="1503.50" y2="202.17" stroke="#000" stroke-width="1.60" stroke-linecap="butt"/>
<line x1="1153.80" y1="195.90" x2="1159.10" y2="195.90" stroke="#000" stroke-width="1.60" stroke-linecap="butt"/>
<line x1="1506.50" y1="195.90" x2="1503.50" y2="195.90" stroke="#000" stroke-width="1.60" stroke-linecap="butt"/>
<line x1="1153.80" y1="191.46" x2="1159.10" y2="191.46" stroke="#000" stroke-width="1.60" stroke-linecap="butt"/>
<line x1="1506.50" y1="191.46" x2="1503.50" y2="191.46" stroke="#000" stroke-width="1.60" stroke-linecap="butt"/>
<line x1="1153.80" y1="188.01" x2="1159.10" y2="188.01" stroke="#000" stroke-width="1.60" stroke-linecap="butt"/>
<line x1="1506.50" y1="188.01" x2="1503.50" y2="188.01" stroke="#000" stroke-width="1.60" stroke-linecap="butt"/>
<line x1="1153.80" y1="185.19" x2="1159.10" y2="185.19" stroke="#000" stroke-width="1.60" stroke-linecap="butt"/>
<line x1="1506.50" y1="185.19" x2="1503.50" y2="185.19" stroke="#000" stroke-width="1.60" stroke-linecap="butt"/>
<line x1="1153.80" y1="182.81" x2="1159.10" y2="182.81" stroke="#000" stroke-width="1.60" stroke-linecap="butt"/>
<line x1="1506.50" y1="182.81" x2="1503.50" y2="182.81" stroke="#000" stroke-width="1.60" stroke-linecap="butt"/>
<line x1="1153.80" y1="180.75" x2="1159.10" y2="180.75" stroke="#000" stroke-width="1.60" stroke-linecap="butt"/>
<line x1="1506.50" y1="180.75" x2="1503.50" y2="180.75" stroke="#000" stroke-width="1.60" stroke-linecap="butt"/>
<line x1="1153.80" y1="178.93" x2="1159.10" y2="178.93" stroke="#000" stroke-width="1.60" stroke-linecap="butt"/>
<line x1="1506.50" y1="178.93" x2="1503.50" y2="178.93" stroke="#000" stroke-width="1.60" stroke-linecap="butt"/>
<line x1="1153.80" y1="177.30" x2="1165.10" y2="177.30" stroke="#000" stroke-width="2.40" stroke-linecap="butt"/>
<line x1="1506.50" y1="177.30" x2="1500.50" y2="177.30" stroke="#000" stroke-width="2.40" stroke-linecap="butt"/>
<line x1="1153.80" y1="166.59" x2="1159.10" y2="166.59" stroke="#000" stroke-width="1.60" stroke-linecap="butt"/>
<line x1="1506.50" y1="166.59" x2="1503.50" y2="166.59" stroke="#000" stroke-width="1.60" stroke-linecap="butt"/>
<line x1="1153.80" y1="160.33" x2="1159.10" y2="160.33" stroke="#000" stroke-width="1.60" stroke-linecap="butt"/>
<line x1="1506.50" y1="160.33" x2="1503.50" y2="160.33" stroke="#000" stroke-width="1.60" stroke-linecap="butt"/>
<line x1="1153.80" y1="155.88" x2="1159.10" y2="155.88" stroke="#000" stroke-width="1.60" stroke-linecap="butt"/>
<line x1="1506.50" y1="155.88" x2="1503.50" y2="155.88" stroke="#000" stroke-width="1.60" stroke-linecap="butt"/>
<line x1="1153.80" y1="152.43" x2="1159.10" y2="152.43" stroke="#000" stroke-width="1.60" stroke-linecap="butt"/>
<line x1="1506.50" y1="152.43" x2="1503.50" y2="152.43" stroke="#000" stroke-width="1.60" stroke-linecap="butt"/>
<line x1="1153.80" y1="149.62" x2="1159.10" y2="149.62" stroke="#000" stroke-width="1.60" stroke-linecap="butt"/>
<line x1="1506.50" y1="149.62" x2="1503.50" y2="149.62" stroke="#000" stroke-width="1.60" stroke-linecap="butt"/>
<line x1="1153.80" y1="147.24" x2="1159.10" y2="147.24" stroke="#000" stroke-width="1.60" stroke-linecap="butt"/>
<line x1="1506.50" y1="147.24" x2="1503.50" y2="147.24" stroke="#000" stroke-width="1.60" stroke-linecap="butt"/>
<line x1="1153.80" y1="145.17" x2="1159.10" y2="145.17" stroke="#000" stroke-width="1.60" stroke-linecap="butt"/>
<line x1="1506.50" y1="145.17" x2="1503.50" y2="145.17" stroke="#000" stroke-width="1.60" stroke-linecap="butt"/>
<line x1="1153.80" y1="143.35" x2="1159.10" y2="143.35" stroke="#000" stroke-width="1.60" stroke-linecap="butt"/>
<line x1="1506.50" y1="143.35" x2="1503.50" y2="143.35" stroke="#000" stroke-width="1.60" stroke-linecap="butt"/>
<line x1="1153.80" y1="141.73" x2="1165.10" y2="141.73" stroke="#000" stroke-width="2.40" stroke-linecap="butt"/>
<line x1="1506.50" y1="141.73" x2="1500.50" y2="141.73" stroke="#000" stroke-width="2.40" stroke-linecap="butt"/>
<line x1="1153.80" y1="131.02" x2="1159.10" y2="131.02" stroke="#000" stroke-width="1.60" stroke-linecap="butt"/>
<line x1="1506.50" y1="131.02" x2="1503.50" y2="131.02" stroke="#000" stroke-width="1.60" stroke-linecap="butt"/>
<line x1="1153.80" y1="124.75" x2="1159.10" y2="124.75" stroke="#000" stroke-width="1.60" stroke-linecap="butt"/>
<line x1="1506.50" y1="124.75" x2="1503.50" y2="124.75" stroke="#000" stroke-width="1.60" stroke-linecap="butt"/>
<line x1="1153.80" y1="120.31" x2="1159.10" y2="120.31" stroke="#000" stroke-width="1.60" stroke-linecap="butt"/>
<line x1="1506.50" y1="120.31" x2="1503.50" y2="120.31" stroke="#000" stroke-width="1.60" stroke-linecap="butt"/>
<line x1="1153.80" y1="116.86" x2="1159.10" y2="116.86" stroke="#000" stroke-width="1.60" stroke-linecap="butt"/>
<line x1="1506.50" y1="116.86" x2="1503.50" y2="116.86" stroke="#000" stroke-width="1.60" stroke-linecap="butt"/>
<line x1="1153.80" y1="114.04" x2="1159.10" y2="114.04" stroke="#000" stroke-width="1.60" stroke-linecap="butt"/>
<line x1="1506.50" y1="114.04" x2="1503.50" y2="114.04" stroke="#000" stroke-width="1.60" stroke-linecap="butt"/>
<line x1="1153.80" y1="111.66" x2="1159.10" y2="111.66" stroke="#000" stroke-width="1.60" stroke-linecap="butt"/>
<line x1="1506.50" y1="111.66" x2="1503.50" y2="111.66" stroke="#000" stroke-width="1.60" stroke-linecap="butt"/>
<line x1="1153.80" y1="109.60" x2="1159.10" y2="109.60" stroke="#000" stroke-width="1.60" stroke-linecap="butt"/>
<line x1="1506.50" y1="109.60" x2="1503.50" y2="109.60" stroke="#000" stroke-width="1.60" stroke-linecap="butt"/>
<line x1="1153.80" y1="107.78" x2="1159.10" y2="107.78" stroke="#000" stroke-width="1.60" stroke-linecap="butt"/>
<line x1="1506.50" y1="107.78" x2="1503.50" y2="107.78" stroke="#000" stroke-width="1.60" stroke-linecap="butt"/>
<line x1="1153.80" y1="106.15" x2="1165.10" y2="106.15" stroke="#000" stroke-width="2.40" stroke-linecap="butt"/>
<line x1="1506.50" y1="106.15" x2="1500.50" y2="106.15" stroke="#000" stroke-width="2.40" stroke-linecap="butt"/>
<line x1="1153.80" y1="95.44" x2="1159.10" y2="95.44" stroke="#000" stroke-width="1.60" stroke-linecap="butt"/>
<line x1="1506.50" y1="95.44" x2="1503.50" y2="95.44" stroke="#000" stroke-width="1.60" stroke-linecap="butt"/>
<line x1="1153.80" y1="89.18" x2="1159.10" y2="89.18" stroke="#000" stroke-width="1.60" stroke-linecap="butt"/>
<line x1="1506.50" y1="89.18" x2="1503.50" y2="89.18" stroke="#000" stroke-width="1.60" stroke-linecap="butt"/>
<line x1="1153.80" y1="84.73" x2="1159.10" y2="84.73" stroke="#000" stroke-width="1.60" stroke-linecap="butt"/>
<line x1="1506.50" y1="84.73" x2="1503.50" y2="84.73" stroke="#000" stroke-width="1.60" stroke-linecap="butt"/>
<line x1="1153.80" y1="81.28" x2="1159.10" y2="81.28" stroke="#000" stroke-width="1.60" stroke-linecap="butt"/>
<line x1="1506.50" y1="81.28" x2="1503.50" y2="81.28" stroke="#000" stroke-width="1.60" stroke-linecap="butt"/>
<line x1="1153.80" y1="78.47" x2="1159.10" y2="78.47" stroke="#000" stroke-width="1.60" stroke-linecap="butt"/>
<line x1="1506.50" y1="78.47" x2="1503.50" y2="78.47" stroke="#000" stroke-width="1.60" stroke-linecap="butt"/>
<line x1="1153.80" y1="76.09" x2="1159.10" y2="76.09" stroke="#000" stroke-width="1.60" stroke-linecap="butt"/>
<line x1="1506.50" y1="76.09" x2="1503.50" y2="76.09" stroke="#000" stroke-width="1.60" stroke-linecap="butt"/>
<line x1="1153.80" y1="74.02" x2="1159.10" y2="74.02" stroke="#000" stroke-width="1.60" stroke-linecap="butt"/>
<line x1="1506.50" y1="74.02" x2="1503.50" y2="74.02" stroke="#000" stroke-width="1.60" stroke-linecap="butt"/>
<line x1="1153.80" y1="72.20" x2="1159.10" y2="72.20" stroke="#000" stroke-width="1.60" stroke-linecap="butt"/>
<line x1="1506.50" y1="72.20" x2="1503.50" y2="72.20" stroke="#000" stroke-width="1.60" stroke-linecap="butt"/>
<line x1="1153.80" y1="70.58" x2="1165.10" y2="70.58" stroke="#000" stroke-width="2.40" stroke-linecap="butt"/>
<line x1="1506.50" y1="70.58" x2="1500.50" y2="70.58" stroke="#000" stroke-width="2.40" stroke-linecap="butt"/>
<line x1="1153.80" y1="59.87" x2="1159.10" y2="59.87" stroke="#000" stroke-width="1.60" stroke-linecap="butt"/>
<line x1="1506.50" y1="59.87" x2="1503.50" y2="59.87" stroke="#000" stroke-width="1.60" stroke-linecap="butt"/>
<line x1="1153.80" y1="53.60" x2="1159.10" y2="53.60" stroke="#000" stroke-width="1.60" stroke-linecap="butt"/>
<line x1="1506.50" y1="53.60" x2="1503.50" y2="53.60" stroke="#000" stroke-width="1.60" stroke-linecap="butt"/>
<line x1="1153.80" y1="49.16" x2="1159.10" y2="49.16" stroke="#000" stroke-width="1.60" stroke-linecap="butt"/>
<line x1="1506.50" y1="49.16" x2="1503.50" y2="49.16" stroke="#000" stroke-width="1.60" stroke-linecap="butt"/>
<line x1="1153.80" y1="45.71" x2="1159.10" y2="45.71" stroke="#000" stroke-width="1.60" stroke-linecap="butt"/>
<line x1="1506.50" y1="45.71" x2="1503.50" y2="45.71" stroke="#000" stroke-width="1.60" stroke-linecap="butt"/>
<line x1="1153.80" y1="42.89" x2="1159.10" y2="42.89" stroke="#000" stroke-width="1.60" stroke-linecap="butt"/>
<line x1="1506.50" y1="42.89" x2="1503.50" y2="42.89" stroke="#000" stroke-width="1.60" stroke-linecap="butt"/>
<line x1="1153.80" y1="40.51" x2="1159.10" y2="40.51" stroke="#000" stroke-width="1.60" stroke-linecap="butt"/>
<line x1="1506.50" y1="40.51" x2="1503.50" y2="40.51" stroke="#000" stroke-width="1.60" stroke-linecap="butt"/>
<line x1="1153.80" y1="38.45" x2="1159.10" y2="38.45" stroke="#000" stroke-width="1.60" stroke-linecap="butt"/>
<line x1="1506.50" y1="38.45" x2="1503.50" y2="38.45" stroke="#000" stroke-width="1.60" stroke-linecap="butt"/>
<line x1="1153.80" y1="36.63" x2="1159.10" y2="36.63" stroke="#000" stroke-width="1.60" stroke-linecap="butt"/>
<line x1="1506.50" y1="36.63" x2="1503.50" y2="36.63" stroke="#000" stroke-width="1.60" stroke-linecap="butt"/>
<line x1="1153.80" y1="35.00" x2="1165.10" y2="35.00" stroke="#000" stroke-width="2.40" stroke-linecap="butt"/>
<line x1="1506.50" y1="35.00" x2="1500.50" y2="35.00" stroke="#000" stroke-width="2.40" stroke-linecap="butt"/>
<text transform="translate(1054.98,28.40) scale(1,1.045)" font-size="41.50" font-weight="bold">c</text>
<text transform="translate(1103.48,44.20) scale(1,1.045)" font-size="25.00" ><tspan><tspan font-family="NanumGothic, Liberation Sans, sans-serif" font-weight="bold" font-size="22.00">1</tspan><tspan dx="0.57">0</tspan></tspan><tspan font-size="16.00" dy="-12.30"><tspan font-family="NanumGothic, Liberation Sans, sans-serif" font-weight="bold" font-size="14.08">1</tspan><tspan dx="0.37"></tspan></tspan></text>
<text transform="translate(1094.18,185.70) scale(1,1.045)" font-size="25.00" ><tspan><tspan font-family="NanumGothic, Liberation Sans, sans-serif" font-weight="bold" font-size="22.00">1</tspan><tspan dx="0.57">0</tspan></tspan><tspan font-size="16.00" dy="-12.30">–3</tspan></text>
<text transform="translate(1093.68,327.00) scale(1,1.045)" font-size="25.00" ><tspan><tspan font-family="NanumGothic, Liberation Sans, sans-serif" font-weight="bold" font-size="22.00">1</tspan><tspan dx="0.57">0</tspan></tspan><tspan font-size="16.00" dy="-12.30">–7</tspan></text>
<text transform="translate(1129.66,350.40) scale(1,1.045)" font-size="25.00" ><tspan>–<tspan font-family="NanumGothic, Liberation Sans, sans-serif" font-weight="bold" font-size="22.00">1</tspan><tspan dx="0.57">.0</tspan></tspan></text>
<text transform="translate(1306.20,350.40) scale(1,1.045)" font-size="25.00" ><tspan>–0.5</tspan></text>
<text transform="translate(1488.52,350.40) scale(1,1.045)" font-size="25.00" ><tspan>0.0</tspan></text>
<text transform="translate(1291.24,388.20) scale(1,1.045)" font-size="25.00" ><tspan font-style="italic">V</tspan><tspan font-size="16.60" dy="8.40" dx="-2.00">BG</tspan><tspan dy="-8.40"> (V)</tspan></text>
<text transform="translate(1075.00,243.99) rotate(-90) scale(1,1.045)" font-size="25.00" ><tspan font-style="italic">I</tspan><tspan font-size="16.30" dy="8.40">DS</tspan><tspan dy="-8.40"> (μA μm</tspan><tspan font-size="16.30" dy="-12.00">–<tspan font-family="NanumGothic, Liberation Sans, sans-serif" font-weight="bold" font-size="14.34">1</tspan><tspan dx="0.37"></tspan></tspan><tspan dy="12.00">)</tspan></text>
<text transform="translate(1351.83,66.90) scale(1,1.045)" font-size="23.00" >60 mV/dec</text>
<text transform="translate(1174.41,257.50) scale(1,1.045)" font-size="23.00" ><tspan>Bulk WSe</tspan><tspan font-size="15.00" dy="5.80" dx="0.90">2</tspan></text>
<text transform="translate(1176.13,292.60) scale(1,1.045)" font-size="22.75" ><tspan font-style="italic">V</tspan><tspan font-size="12.40" dy="5.80" dx="-1.50">DS</tspan><tspan dy="-5.80"> = <tspan font-family="NanumGothic, Liberation Sans, sans-serif" font-weight="bold" font-size="20.02">1</tspan><tspan dx="0.52">00 mV</tspan></tspan></text>
<path d="M108.0,479.6 L109.5,479.5 L111.0,479.4 L112.5,479.4 L114.0,479.3 L115.5,479.3 L117.0,479.3 L118.5,479.3 L120.0,479.4 L121.5,479.5 L123.0,479.6 L124.5,479.6 L126.0,479.6 L127.5,479.6 L129.0,479.6 L130.5,479.5 L132.0,479.5 L133.5,479.4 L135.0,479.5 L136.5,479.5 L138.0,479.6 L139.5,479.6 L141.0,479.6 L142.5,479.6 L144.0,479.6 L145.5,479.6 L147.0,479.6 L148.5,479.6 L150.0,479.5 L151.5,479.5 L153.0,479.4 L154.5,479.4 L156.0,479.5 L157.5,479.5 L159.0,479.5 L160.5,479.5 L162.0,479.5 L163.5,479.5 L165.0,479.6 L166.5,479.6 L168.0,479.7 L169.5,479.6 L171.0,479.6 L172.5,479.6 L174.0,479.6 L175.5,479.7 L177.0,479.7 L178.5,479.8 L180.0,479.7 L181.5,479.6 L183.0,479.5 L184.5,479.4 L186.0,479.4 L187.5,479.4 L189.0,479.5 L190.5,479.6 L192.0,479.7 L193.5,479.7 L195.0,479.6 L196.5,479.4 L198.0,479.2 L199.5,479.2 L201.0,479.2 L202.5,479.2 L204.0,479.2 L205.5,479.2 L207.0,479.2 L208.5,479.2 L210.0,479.4 L211.5,479.5 L213.0,479.6 L214.5,479.5 L216.0,479.4 L217.5,479.2 L219.0,479.2 L220.5,479.2 L222.0,479.3 L223.5,479.3 L225.0,479.3 L226.5,479.4 L228.0,479.4 L229.5,479.3 L231.0,479.3 L232.5,479.3 L234.0,479.3 L235.5,479.5 L237.0,479.7 L238.5,479.8 L240.0,479.6 L241.5,479.5 L243.0,479.4 L244.5,479.5 L246.0,479.6 L247.5,479.7 L249.0,479.7 L250.5,479.5 L252.0,479.3 L253.5,479.2 L255.0,479.3 L256.5,479.4 L258.0,479.4 L259.5,479.5 L261.0,479.5 L262.5,479.6 L264.0,479.6 L265.5,479.5 L267.0,479.5 L268.5,479.4 L270.0,479.4 L271.5,479.4 L273.0,479.4 L274.5,479.5 L276.0,479.6 L277.5,479.7 L279.0,479.7 L280.5,479.6 L282.0,479.5 L283.5,479.5 L285.0,479.4 L286.5,479.4 L288.0,479.3 L289.5,479.3 L291.0,479.2 L292.5,479.2 L294.0,479.3 L295.5,479.4 L297.0,479.6 L298.5,479.7 L300.0,479.6 L301.5,479.6 L303.0,479.6 L304.5,479.5 L306.0,479.5 L307.5,479.4 L309.0,479.5 L310.5,479.6 L312.0,479.7 L313.5,479.7 L315.0,479.7 L316.5,479.6 L318.0,479.6 L319.5,479.6 L321.0,479.6 L322.5,479.6 L324.0,479.6 L325.5,479.6 L327.0,479.6 L328.5,479.6 L330.0,479.4 L331.5,479.3 L333.0,479.1 L334.5,479.2 L336.0,479.3 L337.5,479.4 L339.0,479.5 L340.5,479.5 L342.0,479.5 L343.5,479.6 L345.0,479.5 L346.5,479.5 L348.0,479.4 L349.5,479.4 L351.0,479.3 L352.5,479.3 L354.0,479.3 L355.5,479.4 L357.0,479.5 L358.5,479.5 L360.0,479.5 L361.5,479.4 L363.0,479.3 L364.5,479.3 L366.0,479.3 L367.5,479.3 L369.0,479.3 L370.5,479.3 L372.0,479.2 L373.5,479.2 L375.0,479.1 L376.5,479.0 L378.0,478.9 L379.5,478.9 L381.0,478.9 L382.5,478.8 L384.0,478.8 L385.5,478.8 L387.0,478.8 L388.5,478.8 L390.0,478.9 L391.5,479.0 L393.0,479.1 L394.5,479.0 L396.0,479.0 L397.5,478.9 L399.0,478.8 L400.5,478.8 L402.0,478.7 L403.5,478.7 L405.0,478.6 L406.5,478.6 L408.0,478.5 L409.5,478.4 L411.0,478.4 L412.5,478.4 L414.0,478.3 L415.5,478.3 L417.0,478.3 L418.5,478.3 L420.0,478.4 L421.5,478.4 L423.0,478.5 L424.5,478.4 L426.0,478.2 L427.5,478.1 L429.0,478.1 L430.5,478.1 L432.0,478.1 L433.5,478.1 L435.0,478.1 L436.5,478.2 L438.0,478.2 L439.5,478.2 L441.0,478.1 L442.5,478.1 L444.0,478.1 L445.5,478.1 L447.0,478.1 L448.5,478.1 L450.0,478.0 L451.5,477.9 L453.0,477.8 L454.5,477.8 L456.0,477.8 L457.5,477.7 L459.0,477.7 L460.5,477.6 L460.7,477.6" fill="none" stroke="#00ff00" stroke-width="3.50" stroke-linejoin="round" stroke-linecap="butt" />
<path d="M108.0,484.4 L109.5,484.4 L111.0,484.4 L112.5,484.4 L114.0,484.3 L115.5,484.2 L117.0,484.0 L118.5,483.9 L120.0,483.9 L121.5,483.9 L123.0,483.9 L124.5,483.9 L126.0,483.9 L127.5,483.8 L129.0,483.8 L130.5,483.9 L132.0,483.9 L133.5,484.0 L135.0,484.1 L136.5,484.2 L138.0,484.3 L139.5,484.1 L141.0,483.9 L142.5,483.7 L144.0,483.8 L145.5,483.9 L147.0,484.1 L148.5,484.1 L150.0,484.0 L151.5,484.0 L153.0,483.9 L154.5,483.8 L156.0,483.8 L157.5,483.7 L159.0,483.7 L160.5,483.8 L162.0,483.8 L163.5,483.8 L165.0,483.9 L166.5,483.9 L168.0,484.0 L169.5,483.9 L171.0,483.8 L172.5,483.7 L174.0,483.7 L175.5,483.7 L177.0,483.8 L178.5,483.8 L180.0,483.8 L181.5,483.7 L183.0,483.7 L184.5,483.9 L186.0,484.1 L187.5,484.2 L189.0,484.2 L190.5,484.0 L192.0,483.8 L193.5,483.7 L195.0,483.8 L196.5,484.0 L198.0,484.1 L199.5,484.2 L201.0,484.2 L202.5,484.3 L204.0,484.2 L205.5,484.1 L207.0,484.0 L208.5,483.9 L210.0,483.8 L211.5,483.8 L213.0,483.8 L214.5,484.0 L216.0,484.1 L217.5,484.3 L219.0,484.3 L220.5,484.1 L222.0,483.9 L223.5,483.8 L225.0,484.0 L226.5,484.1 L228.0,484.2 L229.5,484.1 L231.0,484.0 L232.5,483.9 L234.0,483.9 L235.5,483.9 L237.0,483.9 L238.5,484.0 L240.0,484.1 L241.5,484.2 L243.0,484.4 L244.5,484.4 L246.0,484.3 L247.5,484.3 L249.0,484.3 L250.5,484.4 L252.0,484.4 L253.5,484.3 L255.0,484.2 L256.5,484.1 L258.0,484.0 L259.5,484.2 L261.0,484.3 L262.5,484.5 L264.0,484.5 L265.5,484.3 L267.0,484.2 L268.5,484.2 L270.0,484.3 L271.5,484.5 L273.0,484.6 L274.5,484.5 L276.0,484.4 L277.5,484.3 L279.0,484.4 L280.5,484.5 L282.0,484.7 L283.5,484.7 L285.0,484.7 L286.5,484.6 L288.0,484.5 L289.5,484.4 L291.0,484.3 L292.5,484.2 L294.0,484.2 L295.5,484.3 L297.0,484.4 L298.5,484.5 L300.0,484.5 L301.5,484.4 L303.0,484.4 L304.5,484.4 L306.0,484.4 L307.5,484.5 L309.0,484.5 L310.5,484.5 L312.0,484.6 L313.5,484.6 L315.0,484.6 L316.5,484.7 L318.0,484.7 L319.5,484.6 L321.0,484.6 L322.5,484.5 L324.0,484.5 L325.5,484.5 L327.0,484.5 L328.5,484.4 L330.0,484.5 L331.5,484.5 L333.0,484.6 L334.5,484.4 L336.0,484.3 L337.5,484.1 L339.0,484.1 L340.5,484.1 L342.0,484.1 L343.5,484.2 L345.0,484.2 L346.5,484.2 L348.0,484.2 L349.5,484.2 L351.0,484.3 L352.5,484.3 L354.0,484.3 L355.5,484.3 L357.0,484.3 L358.5,484.2 L360.0,484.0 L361.5,483.9 L363.0,483.7 L364.5,483.7 L366.0,483.8 L367.5,483.8 L369.0,483.7 L370.5,483.6 L372.0,483.5 L373.5,483.5 L375.0,483.6 L376.5,483.6 L378.0,483.7 L379.5,483.6 L381.0,483.6 L382.5,483.5 L384.0,483.4 L385.5,483.2 L387.0,483.0 L388.5,482.9 L390.0,483.0 L391.5,483.1 L393.0,483.2 L394.5,483.1 L396.0,483.1 L397.5,483.0 L399.0,482.9 L400.5,482.8 L402.0,482.7 L403.5,482.6 L405.0,482.5 L406.5,482.3 L408.0,482.1 L409.5,482.1 L411.0,482.0 L412.5,481.9 L414.0,481.9 L415.5,481.9 L417.0,481.9 L418.5,481.9 L420.0,481.6 L421.5,481.4 L423.0,481.1 L424.5,481.1 L426.0,481.1 L427.5,481.0 L429.0,480.9 L430.5,480.7 L432.0,480.4 L433.5,480.3 L435.0,480.1 L436.5,480.0 L438.0,479.9 L439.5,479.8 L441.0,479.7 L442.5,479.6 L444.0,479.5 L445.5,479.4 L447.0,479.3 L448.5,479.1 L450.0,478.9 L451.5,478.6 L453.0,478.4 L454.5,478.3 L456.0,478.1 L457.5,478.0 L459.0,477.8 L460.5,477.7 L460.7,477.6" fill="none" stroke="#0000ff" stroke-width="3.50" stroke-linejoin="round" stroke-linecap="butt" />
<path d="M108.0,499.1 L109.5,499.1 L111.0,499.1 L112.5,499.1 L114.0,499.1 L115.5,499.0 L117.0,498.9 L118.5,499.0 L120.0,499.1 L121.5,499.3 L123.0,499.5 L124.5,499.4 L126.0,499.2 L127.5,499.1 L129.0,499.1 L130.5,499.1 L132.0,499.1 L133.5,499.1 L135.0,499.1 L136.5,499.1 L138.0,499.1 L139.5,499.2 L141.0,499.2 L142.5,499.3 L144.0,499.2 L145.5,499.0 L147.0,498.8 L148.5,498.6 L150.0,498.7 L151.5,498.7 L153.0,498.7 L154.5,498.7 L156.0,498.8 L157.5,498.9 L159.0,498.9 L160.5,498.8 L162.0,498.7 L163.5,498.6 L165.0,498.7 L166.5,498.8 L168.0,499.0 L169.5,498.9 L171.0,498.8 L172.5,498.7 L174.0,498.6 L175.5,498.5 L177.0,498.4 L178.5,498.3 L180.0,498.4 L181.5,498.4 L183.0,498.5 L184.5,498.5 L186.0,498.5 L187.5,498.5 L189.0,498.4 L190.5,498.3 L192.0,498.3 L193.5,498.2 L195.0,498.2 L196.5,498.1 L198.0,498.1 L199.5,498.2 L201.0,498.2 L202.5,498.3 L204.0,498.3 L205.5,498.1 L207.0,497.9 L208.5,497.9 L210.0,497.9 L211.5,498.0 L213.0,498.1 L214.5,498.0 L216.0,497.9 L217.5,497.8 L219.0,497.9 L220.5,497.9 L222.0,498.0 L223.5,498.1 L225.0,498.0 L226.5,498.0 L228.0,498.0 L229.5,498.0 L231.0,498.0 L232.5,498.1 L234.0,497.9 L235.5,497.7 L237.0,497.6 L238.5,497.5 L240.0,497.6 L241.5,497.7 L243.0,497.8 L244.5,497.7 L246.0,497.6 L247.5,497.5 L249.0,497.5 L250.5,497.5 L252.0,497.5 L253.5,497.5 L255.0,497.4 L256.5,497.2 L258.0,497.1 L259.5,497.2 L261.0,497.4 L262.5,497.5 L264.0,497.5 L265.5,497.4 L267.0,497.2 L268.5,497.1 L270.0,497.1 L271.5,497.1 L273.0,497.1 L274.5,497.2 L276.0,497.3 L277.5,497.4 L279.0,497.4 L280.5,497.4 L282.0,497.4 L283.5,497.3 L285.0,497.2 L286.5,497.1 L288.0,497.0 L289.5,496.9 L291.0,496.9 L292.5,496.8 L294.0,496.8 L295.5,496.8 L297.0,496.8 L298.5,496.8 L300.0,496.8 L301.5,496.7 L303.0,496.7 L304.5,496.8 L306.0,496.8 L307.5,496.9 L309.0,496.9 L310.5,496.8 L312.0,496.8 L313.5,496.7 L315.0,496.6 L316.5,496.5 L318.0,496.4 L319.5,496.4 L321.0,496.3 L322.5,496.2 L324.0,496.3 L325.5,496.5 L327.0,496.7 L328.5,496.7 L330.0,496.6 L331.5,496.5 L333.0,496.4 L334.5,496.2 L336.0,496.1 L337.5,496.0 L339.0,495.9 L340.5,495.8 L342.0,495.7 L343.5,495.7 L345.0,495.8 L346.5,495.9 L348.0,495.9 L349.5,495.9 L351.0,495.9 L352.5,495.8 L354.0,495.7 L355.5,495.5 L357.0,495.4 L358.5,495.3 L360.0,495.2 L361.5,495.2 L363.0,495.1 L364.5,495.1 L366.0,495.0 L367.5,494.9 L369.0,494.8 L370.5,494.7 L372.0,494.6 L373.5,494.5 L375.0,494.5 L376.5,494.4 L378.0,494.3 L379.5,494.1 L381.0,493.9 L382.5,493.8 L384.0,493.6 L385.5,493.5 L387.0,493.3 L388.5,493.1 L390.0,492.9 L391.5,492.6 L393.0,492.3 L394.5,492.2 L396.0,492.1 L397.5,492.0 L399.0,491.9 L400.5,491.7 L402.0,491.5 L403.5,491.3 L405.0,491.0 L406.5,490.7 L408.0,490.4 L409.5,490.1 L411.0,489.9 L412.5,489.6 L414.0,489.4 L415.5,489.3 L417.0,489.1 L418.5,488.9 L420.0,488.6 L421.5,488.3 L423.0,488.0 L424.5,487.6 L426.0,487.2 L427.5,486.8 L429.0,486.4 L430.5,486.0 L432.0,485.6 L433.5,485.2 L435.0,484.8 L436.5,484.5 L438.0,484.1 L439.5,483.9 L441.0,483.6 L442.5,483.3 L444.0,482.9 L445.5,482.5 L447.0,482.1 L448.5,481.7 L450.0,481.2 L451.5,480.7 L453.0,480.2 L454.5,479.7 L456.0,479.2 L457.5,478.7 L459.0,478.1 L460.5,477.6 L460.7,477.5" fill="none" stroke="#00ffff" stroke-width="3.50" stroke-linejoin="round" stroke-linecap="butt" />
<path d="M108.0,536.2 L109.5,536.3 L111.0,536.4 L112.5,536.5 L114.0,536.4 L115.5,536.3 L117.0,536.1 L118.5,536.0 L120.0,536.0 L121.5,536.0 L123.0,536.0 L124.5,536.0 L126.0,536.0 L127.5,536.0 L129.0,535.9 L130.5,535.8 L132.0,535.7 L133.5,535.6 L135.0,535.5 L136.5,535.4 L138.0,535.2 L139.5,535.3 L141.0,535.5 L142.5,535.6 L144.0,535.5 L145.5,535.5 L147.0,535.4 L148.5,535.3 L150.0,535.1 L151.5,534.9 L153.0,534.7 L154.5,534.6 L156.0,534.5 L157.5,534.5 L159.0,534.5 L160.5,534.6 L162.0,534.6 L163.5,534.6 L165.0,534.4 L166.5,534.2 L168.0,534.1 L169.5,534.2 L171.0,534.3 L172.5,534.5 L174.0,534.4 L175.5,534.2 L177.0,534.0 L178.5,533.9 L180.0,533.8 L181.5,533.7 L183.0,533.6 L184.5,533.5 L186.0,533.3 L187.5,533.2 L189.0,533.2 L190.5,533.2 L192.0,533.2 L193.5,533.2 L195.0,533.0 L196.5,532.8 L198.0,532.7 L199.5,532.6 L201.0,532.6 L202.5,532.5 L204.0,532.4 L205.5,532.4 L207.0,532.3 L208.5,532.3 L210.0,532.2 L211.5,532.1 L213.0,532.0 L214.5,531.9 L216.0,531.9 L217.5,531.9 L219.0,531.8 L220.5,531.8 L222.0,531.7 L223.5,531.6 L225.0,531.4 L226.5,531.2 L228.0,531.0 L229.5,531.0 L231.0,531.0 L232.5,530.9 L234.0,530.8 L235.5,530.8 L237.0,530.7 L238.5,530.6 L240.0,530.5 L241.5,530.4 L243.0,530.3 L244.5,530.2 L246.0,530.1 L247.5,530.0 L249.0,529.9 L250.5,529.9 L252.0,529.8 L253.5,529.7 L255.0,529.5 L256.5,529.3 L258.0,529.1 L259.5,528.9 L261.0,528.7 L262.5,528.5 L264.0,528.4 L265.5,528.3 L267.0,528.3 L268.5,528.2 L270.0,528.2 L271.5,528.2 L273.0,528.2 L274.5,528.0 L276.0,527.8 L277.5,527.7 L279.0,527.5 L280.5,527.4 L282.0,527.3 L283.5,527.2 L285.0,527.0 L286.5,526.7 L288.0,526.5 L289.5,526.4 L291.0,526.4 L292.5,526.3 L294.0,526.2 L295.5,526.1 L297.0,526.0 L298.5,525.8 L300.0,525.7 L301.5,525.6 L303.0,525.5 L304.5,525.4 L306.0,525.2 L307.5,525.1 L309.0,524.9 L310.5,524.7 L312.0,524.6 L313.5,524.4 L315.0,524.3 L316.5,524.2 L318.0,524.1 L319.5,523.8 L321.0,523.5 L322.5,523.2 L324.0,523.1 L325.5,523.1 L327.0,523.1 L328.5,522.9 L330.0,522.6 L331.5,522.3 L333.0,522.0 L334.5,521.8 L336.0,521.7 L337.5,521.5 L339.0,521.3 L340.5,521.1 L342.0,520.9 L343.5,520.7 L345.0,520.4 L346.5,520.1 L348.0,519.8 L349.5,519.6 L351.0,519.3 L352.5,519.1 L354.0,518.9 L355.5,518.8 L357.0,518.7 L358.5,518.5 L360.0,518.1 L361.5,517.7 L363.0,517.2 L364.5,517.1 L366.0,517.0 L367.5,516.8 L369.0,516.5 L370.5,516.1 L372.0,515.7 L373.5,515.3 L375.0,514.9 L376.5,514.5 L378.0,514.0 L379.5,513.7 L381.0,513.4 L382.5,513.0 L384.0,512.8 L385.5,512.6 L387.0,512.4 L388.5,512.1 L390.0,511.7 L391.5,511.3 L393.0,510.9 L394.5,510.3 L396.0,509.7 L397.5,509.1 L399.0,508.7 L400.5,508.4 L402.0,508.1 L403.5,507.6 L405.0,507.0 L406.5,506.3 L408.0,505.6 L409.5,505.2 L411.0,504.8 L412.5,504.4 L414.0,503.9 L415.5,503.3 L417.0,502.7 L418.5,502.1 L420.0,501.4 L421.5,500.7 L423.0,499.9 L424.5,499.3 L426.0,498.7 L427.5,498.1 L429.0,497.4 L430.5,496.5 L432.0,495.7 L433.5,494.9 L435.0,493.9 L436.5,493.0 L438.0,492.1 L439.5,491.4 L441.0,490.6 L442.5,489.8 L444.0,488.9 L445.5,488.0 L447.0,487.0 L448.5,486.1 L450.0,485.1 L451.5,484.1 L453.0,483.1 L454.5,482.1 L456.0,481.0 L457.5,479.9 L459.0,478.8 L460.5,477.6 L460.7,477.5" fill="none" stroke="#ff00ff" stroke-width="3.50" stroke-linejoin="round" stroke-linecap="butt" />
<path d="M108.0,602.5 L109.5,602.2 L111.0,601.9 L112.5,601.6 L114.0,601.6 L115.5,601.8 L117.0,601.9 L118.5,602.0 L120.0,602.0 L121.5,602.0 L123.0,602.0 L124.5,601.8 L126.0,601.6 L127.5,601.4 L129.0,601.2 L130.5,601.0 L132.0,600.8 L133.5,600.8 L135.0,601.0 L136.5,601.2 L138.0,601.4 L139.5,601.1 L141.0,600.9 L142.5,600.6 L144.0,600.5 L145.5,600.4 L147.0,600.3 L148.5,600.2 L150.0,600.1 L151.5,600.0 L153.0,599.9 L154.5,599.9 L156.0,600.0 L157.5,600.1 L159.0,600.1 L160.5,600.0 L162.0,599.8 L163.5,599.6 L165.0,599.2 L166.5,598.9 L168.0,598.5 L169.5,598.6 L171.0,598.7 L172.5,598.9 L174.0,598.8 L175.5,598.6 L177.0,598.4 L178.5,598.3 L180.0,598.2 L181.5,598.2 L183.0,598.1 L184.5,597.7 L186.0,597.3 L187.5,596.8 L189.0,596.7 L190.5,596.6 L192.0,596.6 L193.5,596.5 L195.0,596.5 L196.5,596.4 L198.0,596.3 L199.5,596.2 L201.0,596.1 L202.5,596.0 L204.0,595.7 L205.5,595.4 L207.0,595.0 L208.5,594.7 L210.0,594.7 L211.5,594.6 L213.0,594.6 L214.5,594.2 L216.0,593.8 L217.5,593.5 L219.0,593.2 L220.5,593.1 L222.0,592.9 L223.5,592.7 L225.0,592.4 L226.5,592.1 L228.0,591.8 L229.5,591.8 L231.0,591.8 L232.5,591.8 L234.0,591.5 L235.5,591.1 L237.0,590.6 L238.5,590.2 L240.0,589.9 L241.5,589.6 L243.0,589.3 L244.5,589.1 L246.0,588.8 L247.5,588.5 L249.0,588.3 L250.5,588.1 L252.0,587.9 L253.5,587.7 L255.0,587.6 L256.5,587.4 L258.0,587.3 L259.5,586.9 L261.0,586.5 L262.5,586.1 L264.0,585.8 L265.5,585.7 L267.0,585.5 L268.5,585.3 L270.0,585.0 L271.5,584.6 L273.0,584.3 L274.5,583.7 L276.0,583.2 L277.5,582.6 L279.0,582.2 L280.5,581.8 L282.0,581.4 L283.5,581.2 L285.0,581.0 L286.5,580.8 L288.0,580.7 L289.5,580.3 L291.0,579.9 L292.5,579.5 L294.0,579.0 L295.5,578.5 L297.0,578.0 L298.5,577.5 L300.0,577.3 L301.5,577.1 L303.0,576.8 L304.5,576.2 L306.0,575.6 L307.5,575.0 L309.0,574.4 L310.5,574.0 L312.0,573.5 L313.5,573.1 L315.0,572.9 L316.5,572.7 L318.0,572.5 L319.5,572.0 L321.0,571.5 L322.5,571.0 L324.0,570.4 L325.5,569.7 L327.0,569.0 L328.5,568.4 L330.0,568.0 L331.5,567.6 L333.0,567.2 L334.5,566.6 L336.0,566.0 L337.5,565.4 L339.0,564.9 L340.5,564.5 L342.0,564.0 L343.5,563.5 L345.0,562.7 L346.5,561.9 L348.0,561.1 L349.5,560.6 L351.0,560.1 L352.5,559.6 L354.0,558.8 L355.5,558.1 L357.0,557.2 L358.5,556.6 L360.0,556.1 L361.5,555.6 L363.0,555.1 L364.5,554.4 L366.0,553.7 L367.5,552.9 L369.0,552.2 L370.5,551.5 L372.0,550.8 L373.5,550.0 L375.0,549.0 L376.5,548.0 L378.0,547.0 L379.5,546.4 L381.0,545.9 L382.5,545.3 L384.0,544.5 L385.5,543.4 L387.0,542.4 L388.5,541.5 L390.0,540.9 L391.5,540.2 L393.0,539.5 L394.5,538.3 L396.0,537.0 L397.5,535.8 L399.0,534.8 L400.5,533.9 L402.0,533.0 L403.5,532.1 L405.0,530.9 L406.5,529.8 L408.0,528.6 L409.5,527.7 L411.0,526.7 L412.5,525.8 L414.0,524.7 L415.5,523.6 L417.0,522.4 L418.5,521.1 L420.0,519.6 L421.5,518.2 L423.0,516.7 L424.5,515.6 L426.0,514.5 L427.5,513.4 L429.0,512.0 L430.5,510.5 L432.0,508.9 L433.5,507.4 L435.0,506.0 L436.5,504.5 L438.0,503.1 L439.5,501.3 L441.0,499.6 L442.5,497.9 L444.0,496.3 L445.5,494.9 L447.0,493.4 L448.5,491.7 L450.0,489.9 L451.5,488.2 L453.0,486.4 L454.5,484.8 L456.0,483.1 L457.5,481.4 L459.0,479.5 L460.5,477.7 L460.7,477.5" fill="none" stroke="#ffff00" stroke-width="3.50" stroke-linejoin="round" stroke-linecap="butt" />
<path d="M108.0,689.1 L109.5,689.0 L111.0,688.8 L112.5,688.7 L114.0,688.6 L115.5,688.4 L117.0,688.3 L118.5,688.1 L120.0,687.8 L121.5,687.5 L123.0,687.2 L124.5,687.0 L126.0,686.9 L127.5,686.8 L129.0,686.7 L130.5,686.7 L132.0,686.6 L133.5,686.5 L135.0,686.4 L136.5,686.2 L138.0,686.0 L139.5,685.7 L141.0,685.5 L142.5,685.2 L144.0,684.9 L145.5,684.7 L147.0,684.4 L148.5,684.2 L150.0,684.1 L151.5,684.0 L153.0,683.9 L154.5,683.6 L156.0,683.4 L157.5,683.1 L159.0,682.9 L160.5,682.7 L162.0,682.6 L163.5,682.3 L165.0,682.0 L166.5,681.6 L168.0,681.2 L169.5,680.7 L171.0,680.3 L172.5,679.8 L174.0,679.6 L175.5,679.6 L177.0,679.5 L178.5,679.3 L180.0,679.0 L181.5,678.6 L183.0,678.2 L184.5,677.8 L186.0,677.4 L187.5,677.0 L189.0,676.7 L190.5,676.4 L192.0,676.1 L193.5,675.7 L195.0,675.2 L196.5,674.8 L198.0,674.3 L199.5,674.1 L201.0,673.9 L202.5,673.6 L204.0,673.4 L205.5,673.1 L207.0,672.7 L208.5,672.3 L210.0,671.7 L211.5,671.1 L213.0,670.5 L214.5,670.1 L216.0,669.7 L217.5,669.3 L219.0,668.9 L220.5,668.4 L222.0,667.9 L223.5,667.4 L225.0,666.7 L226.5,666.0 L228.0,665.3 L229.5,664.8 L231.0,664.3 L232.5,663.8 L234.0,663.3 L235.5,662.8 L237.0,662.2 L238.5,661.8 L240.0,661.5 L241.5,661.2 L243.0,660.9 L244.5,660.0 L246.0,659.2 L247.5,658.3 L249.0,657.8 L250.5,657.4 L252.0,657.0 L253.5,656.6 L255.0,656.1 L256.5,655.6 L258.0,655.2 L259.5,654.4 L261.0,653.7 L262.5,653.0 L264.0,652.4 L265.5,651.8 L267.0,651.3 L268.5,650.6 L270.0,649.9 L271.5,649.1 L273.0,648.4 L274.5,647.5 L276.0,646.7 L277.5,645.8 L279.0,645.2 L280.5,644.6 L282.0,644.0 L283.5,643.5 L285.0,642.8 L286.5,642.2 L288.0,641.5 L289.5,640.9 L291.0,640.2 L292.5,639.5 L294.0,638.7 L295.5,638.0 L297.0,637.2 L298.5,636.4 L300.0,635.7 L301.5,635.0 L303.0,634.3 L304.5,633.4 L306.0,632.5 L307.5,631.5 L309.0,630.8 L310.5,630.0 L312.0,629.3 L313.5,628.5 L315.0,627.7 L316.5,626.8 L318.0,625.9 L319.5,624.9 L321.0,623.8 L322.5,622.8 L324.0,621.9 L325.5,621.1 L327.0,620.3 L328.5,619.5 L330.0,618.6 L331.5,617.6 L333.0,616.7 L334.5,615.5 L336.0,614.3 L337.5,613.1 L339.0,612.1 L340.5,611.1 L342.0,610.1 L343.5,609.1 L345.0,607.9 L346.5,606.7 L348.0,605.6 L349.5,604.7 L351.0,603.8 L352.5,602.9 L354.0,601.8 L355.5,600.6 L357.0,599.4 L358.5,598.1 L360.0,596.7 L361.5,595.2 L363.0,593.8 L364.5,592.7 L366.0,591.6 L367.5,590.6 L369.0,589.3 L370.5,588.0 L372.0,586.7 L373.5,585.3 L375.0,583.8 L376.5,582.3 L378.0,580.8 L379.5,579.3 L381.0,577.8 L382.5,576.2 L384.0,574.7 L385.5,573.3 L387.0,571.8 L388.5,570.2 L390.0,568.7 L391.5,567.1 L393.0,565.5 L394.5,563.9 L396.0,562.3 L397.5,560.7 L399.0,559.0 L400.5,557.3 L402.0,555.5 L403.5,553.7 L405.0,552.0 L406.5,550.4 L408.0,548.6 L409.5,547.0 L411.0,545.4 L412.5,543.7 L414.0,541.7 L415.5,539.6 L417.0,537.4 L418.5,535.3 L420.0,533.3 L421.5,531.3 L423.0,529.3 L424.5,527.4 L426.0,525.4 L427.5,523.4 L429.0,521.4 L430.5,519.3 L432.0,517.3 L433.5,515.3 L435.0,513.2 L436.5,511.2 L438.0,509.2 L439.5,507.2 L441.0,505.2 L442.5,503.2 L444.0,501.1 L445.5,498.9 L447.0,496.8 L448.5,494.6 L450.0,492.6 L451.5,490.5 L453.0,488.4 L454.5,486.2 L456.0,484.1 L457.5,482.0 L459.0,479.9 L460.5,477.8 L460.7,477.5" fill="none" stroke="#808000" stroke-width="3.50" stroke-linejoin="round" stroke-linecap="butt" />
<rect x="108.00" y="464.20" width="352.80" height="284.60" fill="none" stroke="#000" stroke-width="2.20"/>
<line x1="108.00" y1="748.80" x2="108.00" y2="737.80" stroke="#000" stroke-width="3.40" stroke-linecap="butt"/>
<line x1="108.00" y1="464.20" x2="108.00" y2="475.20" stroke="#000" stroke-width="3.50" stroke-linecap="butt"/>
<line x1="196.20" y1="748.80" x2="196.20" y2="743.20" stroke="#000" stroke-width="3.40" stroke-linecap="butt"/>
<line x1="196.20" y1="464.20" x2="196.20" y2="470.00" stroke="#000" stroke-width="3.50" stroke-linecap="butt"/>
<line x1="284.40" y1="748.80" x2="284.40" y2="737.80" stroke="#000" stroke-width="3.40" stroke-linecap="butt"/>
<line x1="284.40" y1="464.20" x2="284.40" y2="475.20" stroke="#000" stroke-width="3.50" stroke-linecap="butt"/>
<line x1="372.60" y1="748.80" x2="372.60" y2="743.20" stroke="#000" stroke-width="3.40" stroke-linecap="butt"/>
<line x1="372.60" y1="464.20" x2="372.60" y2="470.00" stroke="#000" stroke-width="3.50" stroke-linecap="butt"/>
<line x1="460.80" y1="748.80" x2="460.80" y2="737.80" stroke="#000" stroke-width="3.40" stroke-linecap="butt"/>
<line x1="460.80" y1="464.20" x2="460.80" y2="475.20" stroke="#000" stroke-width="3.50" stroke-linecap="butt"/>
<line x1="108.00" y1="478.90" x2="113.30" y2="478.90" stroke="#000" stroke-width="1.60" stroke-linecap="butt"/>
<line x1="460.80" y1="478.90" x2="455.50" y2="478.90" stroke="#000" stroke-width="1.60" stroke-linecap="butt"/>
<line x1="108.00" y1="568.84" x2="113.30" y2="568.84" stroke="#000" stroke-width="1.60" stroke-linecap="butt"/>
<line x1="460.80" y1="568.84" x2="455.50" y2="568.84" stroke="#000" stroke-width="1.60" stroke-linecap="butt"/>
<line x1="108.00" y1="658.78" x2="113.30" y2="658.78" stroke="#000" stroke-width="1.60" stroke-linecap="butt"/>
<line x1="460.80" y1="658.78" x2="455.50" y2="658.78" stroke="#000" stroke-width="1.60" stroke-linecap="butt"/>
<line x1="108.00" y1="748.72" x2="113.30" y2="748.72" stroke="#000" stroke-width="1.60" stroke-linecap="butt"/>
<line x1="460.80" y1="748.72" x2="455.50" y2="748.72" stroke="#000" stroke-width="1.60" stroke-linecap="butt"/>
<line x1="108.00" y1="523.87" x2="110.70" y2="523.87" stroke="#000" stroke-width="1.60" stroke-linecap="butt"/>
<line x1="460.80" y1="523.87" x2="458.10" y2="523.87" stroke="#000" stroke-width="1.60" stroke-linecap="butt"/>
<line x1="108.00" y1="613.81" x2="110.70" y2="613.81" stroke="#000" stroke-width="1.60" stroke-linecap="butt"/>
<line x1="460.80" y1="613.81" x2="458.10" y2="613.81" stroke="#000" stroke-width="1.60" stroke-linecap="butt"/>
<line x1="108.00" y1="703.75" x2="110.70" y2="703.75" stroke="#000" stroke-width="1.60" stroke-linecap="butt"/>
<line x1="460.80" y1="703.75" x2="458.10" y2="703.75" stroke="#000" stroke-width="1.60" stroke-linecap="butt"/>
<line x1="400.70" y1="473.10" x2="435.36" y2="511.35" stroke="#000" stroke-width="3.30" stroke-linecap="butt"/>
<polygon points="450.80,528.40 429.57,513.90 438.46,505.84" fill="#000"/>
<text transform="translate(4.30,472.90) scale(1,1.045)" font-size="41.50" font-weight="bold">d</text>
<text transform="translate(81.27,487.80) scale(1,1.045)" font-size="25.00" ><tspan>0</tspan></text>
<text transform="translate(67.49,578.00) scale(1,1.045)" font-size="25.00" ><tspan>–3</tspan></text>
<text transform="translate(67.49,668.00) scale(1,1.045)" font-size="25.00" ><tspan>–6</tspan></text>
<text transform="translate(67.58,757.40) scale(1,1.045)" font-size="25.00" ><tspan>–9</tspan></text>
<text transform="translate(83.16,779.80) scale(1,1.045)" font-size="25.00" ><tspan>–<tspan font-family="NanumGothic, Liberation Sans, sans-serif" font-weight="bold" font-size="22.00">1</tspan><tspan dx="0.57">.0</tspan></tspan></text>
<text transform="translate(260.20,779.80) scale(1,1.045)" font-size="25.00" ><tspan>–0.5</tspan></text>
<text transform="translate(444.02,779.80) scale(1,1.045)" font-size="25.00" ><tspan>0.0</tspan></text>
<text transform="translate(245.94,818.10) scale(1,1.045)" font-size="25.00" ><tspan font-style="italic">V</tspan><tspan font-size="16.60" dy="8.40" dx="-2.00">DS</tspan><tspan dy="-8.40"> (V)</tspan></text>
<text transform="translate(39.20,676.59) rotate(-90) scale(1,1.045)" font-size="25.00" ><tspan font-style="italic">I</tspan><tspan font-size="16.30" dy="8.40">DS</tspan><tspan dy="-8.40"> (μA μm</tspan><tspan font-size="16.30" dy="-12.00">–<tspan font-family="NanumGothic, Liberation Sans, sans-serif" font-weight="bold" font-size="14.34">1</tspan><tspan dx="0.37"></tspan></tspan><tspan dy="12.00">)</tspan></text>
<text transform="translate(338.94,656.60) scale(1,1.045)" font-size="23.00" ><tspan>2 L WSe</tspan><tspan font-size="15.00" dy="5.80" dx="0.90">2</tspan></text>
<text transform="translate(219.14,695.00) scale(1,1.045)" font-size="22.70" ><tspan font-style="italic">V</tspan><tspan font-size="15.00" dy="6.00" dx="-1.50">BG</tspan><tspan dy="-6.00">: –0.6 V</tspan><tspan font-family="DejaVu Sans ExtraLight, DejaVu Sans, sans-serif" font-weight="200" font-size="28" dy="3.0">→</tspan><tspan dy="-3.00"> –<tspan font-family="NanumGothic, Liberation Sans, sans-serif" font-weight="bold" font-size="19.98">1</tspan><tspan dx="0.52">.</tspan><tspan font-family="NanumGothic, Liberation Sans, sans-serif" font-weight="bold" font-size="19.98">1</tspan><tspan dx="0.52"> V</tspan></tspan></text>
<text transform="translate(217.82,729.60) scale(1,1.045)" font-size="22.70" ><tspan>Δ</tspan><tspan font-style="italic">V</tspan><tspan font-size="15.00" dy="6.00" dx="-1.50">BG</tspan><tspan dy="-6.00"> = –0.<tspan font-family="NanumGothic, Liberation Sans, sans-serif" font-weight="bold" font-size="19.98">1</tspan><tspan dx="0.52">0 V</tspan></tspan></text>
<path d="M636.0,480.8 L637.5,480.7 L639.0,480.7 L640.5,480.7 L642.0,480.7 L643.5,480.8 L645.0,480.8 L646.5,480.9 L648.0,480.9 L649.5,480.9 L651.0,480.9 L652.5,480.8 L654.0,480.6 L655.5,480.5 L657.0,480.5 L658.5,480.6 L660.0,480.7 L661.5,480.8 L663.0,480.6 L664.5,480.4 L666.0,480.2 L667.5,480.4 L669.0,480.6 L670.5,480.8 L672.0,480.8 L673.5,480.8 L675.0,480.8 L676.5,480.7 L678.0,480.6 L679.5,480.5 L681.0,480.4 L682.5,480.4 L684.0,480.3 L685.5,480.2 L687.0,480.2 L688.5,480.4 L690.0,480.5 L691.5,480.5 L693.0,480.5 L694.5,480.4 L696.0,480.4 L697.5,480.4 L699.0,480.4 L700.5,480.4 L702.0,480.3 L703.5,480.2 L705.0,480.1 L706.5,480.1 L708.0,480.2 L709.5,480.3 L711.0,480.4 L712.5,480.4 L714.0,480.3 L715.5,480.3 L717.0,480.3 L718.5,480.4 L720.0,480.5 L721.5,480.5 L723.0,480.5 L724.5,480.5 L726.0,480.5 L727.5,480.5 L729.0,480.4 L730.5,480.4 L732.0,480.4 L733.5,480.5 L735.0,480.6 L736.5,480.6 L738.0,480.6 L739.5,480.6 L741.0,480.5 L742.5,480.6 L744.0,480.7 L745.5,480.7 L747.0,480.6 L748.5,480.5 L750.0,480.4 L751.5,480.3 L753.0,480.4 L754.5,480.5 L756.0,480.6 L757.5,480.5 L759.0,480.4 L760.5,480.3 L762.0,480.3 L763.5,480.4 L765.0,480.5 L766.5,480.5 L768.0,480.5 L769.5,480.5 L771.0,480.5 L772.5,480.6 L774.0,480.7 L775.5,480.8 L777.0,480.8 L778.5,480.8 L780.0,480.8 L781.5,480.7 L783.0,480.6 L784.5,480.5 L786.0,480.4 L787.5,480.5 L789.0,480.7 L790.5,480.8 L792.0,480.8 L793.5,480.8 L795.0,480.8 L796.5,480.8 L798.0,480.8 L799.5,480.8 L801.0,480.9 L802.5,480.8 L804.0,480.7 L805.5,480.6 L807.0,480.7 L808.5,480.9 L810.0,481.0 L811.5,481.1 L813.0,480.9 L814.5,480.8 L816.0,480.7 L817.5,480.6 L819.0,480.6 L820.5,480.5 L822.0,480.7 L823.5,480.9 L825.0,481.1 L826.5,481.2 L828.0,481.2 L829.5,481.2 L831.0,481.1 L832.5,481.0 L834.0,481.0 L835.5,480.9 L837.0,480.9 L838.5,481.1 L840.0,481.2 L841.5,481.2 L843.0,481.1 L844.5,481.1 L846.0,481.0 L847.5,481.1 L849.0,481.2 L850.5,481.2 L852.0,481.2 L853.5,481.0 L855.0,480.9 L856.5,480.8 L858.0,480.7 L859.5,480.7 L861.0,480.7 L862.5,480.7 L864.0,480.7 L865.5,480.7 L867.0,480.8 L868.5,480.9 L870.0,481.1 L871.5,481.2 L873.0,481.2 L874.5,481.1 L876.0,481.1 L877.5,480.9 L879.0,480.8 L880.5,480.7 L882.0,480.7 L883.5,480.7 L885.0,480.8 L886.5,480.7 L888.0,480.5 L889.5,480.4 L891.0,480.2 L892.5,480.3 L894.0,480.5 L895.5,480.6 L897.0,480.5 L898.5,480.2 L900.0,480.0 L901.5,479.8 L903.0,479.7 L904.5,479.7 L906.0,479.7 L907.5,479.6 L909.0,479.6 L910.5,479.5 L912.0,479.6 L913.5,479.6 L915.0,479.7 L916.5,479.6 L918.0,479.3 L919.5,479.0 L921.0,478.8 L922.5,478.7 L924.0,478.7 L925.5,478.6 L927.0,478.5 L928.5,478.4 L930.0,478.3 L931.5,478.2 L933.0,478.1 L934.5,477.9 L936.0,477.8 L937.5,477.6 L939.0,477.5 L940.5,477.4 L942.0,477.3 L943.5,477.2 L945.0,477.2 L946.5,477.1 L948.0,476.8 L949.5,476.5 L951.0,476.2 L952.5,476.0 L954.0,475.8 L955.5,475.6 L957.0,475.4 L958.5,475.2 L960.0,475.0 L961.5,474.8 L963.0,474.7 L964.5,474.5 L966.0,474.3 L967.5,474.1 L969.0,473.9 L970.5,473.7 L972.0,473.6 L973.5,473.4 L975.0,473.3 L976.5,473.1 L978.0,472.8 L979.5,472.5 L981.0,472.3 L982.5,472.0 L984.0,471.7 L985.5,471.4 L987.0,471.1 L988.5,470.8 L988.6,470.8" fill="none" stroke="#00ff00" stroke-width="3.50" stroke-linejoin="round" stroke-linecap="butt" />
<path d="M636.0,495.9 L637.5,495.7 L639.0,495.6 L640.5,495.4 L642.0,495.3 L643.5,495.3 L645.0,495.2 L646.5,495.2 L648.0,495.2 L649.5,495.2 L651.0,495.2 L652.5,495.2 L654.0,495.2 L655.5,495.2 L657.0,495.2 L658.5,495.3 L660.0,495.3 L661.5,495.4 L663.0,495.4 L664.5,495.4 L666.0,495.5 L667.5,495.5 L669.0,495.5 L670.5,495.5 L672.0,495.4 L673.5,495.3 L675.0,495.1 L676.5,495.1 L678.0,495.2 L679.5,495.4 L681.0,495.5 L682.5,495.4 L684.0,495.3 L685.5,495.3 L687.0,495.3 L688.5,495.3 L690.0,495.4 L691.5,495.4 L693.0,495.4 L694.5,495.3 L696.0,495.3 L697.5,495.3 L699.0,495.4 L700.5,495.4 L702.0,495.4 L703.5,495.4 L705.0,495.3 L706.5,495.3 L708.0,495.2 L709.5,495.2 L711.0,495.1 L712.5,495.3 L714.0,495.4 L715.5,495.6 L717.0,495.6 L718.5,495.5 L720.0,495.5 L721.5,495.4 L723.0,495.4 L724.5,495.3 L726.0,495.2 L727.5,495.2 L729.0,495.1 L730.5,495.1 L732.0,495.1 L733.5,495.1 L735.0,495.2 L736.5,495.2 L738.0,495.3 L739.5,495.3 L741.0,495.4 L742.5,495.5 L744.0,495.7 L745.5,495.8 L747.0,495.8 L748.5,495.7 L750.0,495.6 L751.5,495.6 L753.0,495.6 L754.5,495.7 L756.0,495.8 L757.5,495.8 L759.0,495.9 L760.5,495.9 L762.0,495.9 L763.5,495.9 L765.0,496.0 L766.5,496.0 L768.0,496.0 L769.5,496.0 L771.0,496.0 L772.5,496.1 L774.0,496.1 L775.5,496.1 L777.0,496.1 L778.5,496.1 L780.0,496.1 L781.5,496.0 L783.0,495.9 L784.5,495.7 L786.0,495.5 L787.5,495.5 L789.0,495.5 L790.5,495.6 L792.0,495.6 L793.5,495.7 L795.0,495.9 L796.5,495.9 L798.0,495.8 L799.5,495.8 L801.0,495.7 L802.5,495.7 L804.0,495.7 L805.5,495.7 L807.0,495.7 L808.5,495.7 L810.0,495.7 L811.5,495.7 L813.0,495.8 L814.5,496.0 L816.0,496.1 L817.5,496.0 L819.0,496.0 L820.5,496.0 L822.0,496.0 L823.5,496.1 L825.0,496.2 L826.5,496.2 L828.0,496.0 L829.5,495.8 L831.0,495.7 L832.5,495.6 L834.0,495.6 L835.5,495.6 L837.0,495.6 L838.5,495.7 L840.0,495.7 L841.5,495.7 L843.0,495.7 L844.5,495.7 L846.0,495.8 L847.5,495.7 L849.0,495.7 L850.5,495.7 L852.0,495.7 L853.5,495.6 L855.0,495.6 L856.5,495.5 L858.0,495.5 L859.5,495.5 L861.0,495.4 L862.5,495.3 L864.0,495.2 L865.5,495.1 L867.0,495.1 L868.5,495.1 L870.0,495.0 L871.5,495.0 L873.0,494.9 L874.5,494.8 L876.0,494.8 L877.5,494.6 L879.0,494.5 L880.5,494.3 L882.0,494.1 L883.5,493.8 L885.0,493.6 L886.5,493.4 L888.0,493.3 L889.5,493.2 L891.0,493.1 L892.5,493.0 L894.0,492.9 L895.5,492.8 L897.0,492.6 L898.5,492.4 L900.0,492.2 L901.5,492.0 L903.0,492.0 L904.5,492.0 L906.0,491.9 L907.5,491.7 L909.0,491.4 L910.5,491.1 L912.0,490.9 L913.5,490.6 L915.0,490.4 L916.5,490.1 L918.0,489.8 L919.5,489.5 L921.0,489.2 L922.5,489.0 L924.0,488.8 L925.5,488.7 L927.0,488.4 L928.5,488.1 L930.0,487.9 L931.5,487.5 L933.0,487.1 L934.5,486.7 L936.0,486.3 L937.5,486.1 L939.0,485.9 L940.5,485.6 L942.0,485.4 L943.5,485.1 L945.0,484.9 L946.5,484.5 L948.0,483.9 L949.5,483.4 L951.0,482.8 L952.5,482.5 L954.0,482.2 L955.5,481.9 L957.0,481.5 L958.5,481.1 L960.0,480.6 L961.5,480.1 L963.0,479.6 L964.5,479.1 L966.0,478.6 L967.5,478.2 L969.0,477.7 L970.5,477.2 L972.0,476.8 L973.5,476.4 L975.0,476.0 L976.5,475.5 L978.0,474.9 L979.5,474.2 L981.0,473.6 L982.5,473.1 L984.0,472.6 L985.5,472.0 L987.0,471.4 L988.5,470.8 L988.6,470.8" fill="none" stroke="#0000ff" stroke-width="3.50" stroke-linejoin="round" stroke-linecap="butt" />
<path d="M636.0,521.0 L637.5,521.0 L639.0,521.0 L640.5,521.1 L642.0,521.0 L643.5,520.9 L645.0,520.8 L646.5,520.7 L648.0,520.8 L649.5,520.8 L651.0,520.8 L652.5,520.8 L654.0,520.7 L655.5,520.7 L657.0,520.7 L658.5,520.7 L660.0,520.8 L661.5,520.8 L663.0,520.7 L664.5,520.6 L666.0,520.5 L667.5,520.5 L669.0,520.5 L670.5,520.6 L672.0,520.6 L673.5,520.6 L675.0,520.6 L676.5,520.6 L678.0,520.6 L679.5,520.5 L681.0,520.5 L682.5,520.5 L684.0,520.5 L685.5,520.5 L687.0,520.4 L688.5,520.3 L690.0,520.3 L691.5,520.3 L693.0,520.5 L694.5,520.6 L696.0,520.8 L697.5,520.7 L699.0,520.7 L700.5,520.6 L702.0,520.7 L703.5,520.8 L705.0,520.9 L706.5,520.9 L708.0,520.7 L709.5,520.5 L711.0,520.4 L712.5,520.5 L714.0,520.6 L715.5,520.6 L717.0,520.7 L718.5,520.8 L720.0,521.0 L721.5,521.0 L723.0,520.8 L724.5,520.7 L726.0,520.5 L727.5,520.6 L729.0,520.7 L730.5,520.8 L732.0,520.8 L733.5,520.8 L735.0,520.8 L736.5,520.8 L738.0,520.9 L739.5,521.0 L741.0,521.1 L742.5,521.0 L744.0,520.9 L745.5,520.8 L747.0,520.8 L748.5,520.8 L750.0,520.7 L751.5,520.7 L753.0,520.7 L754.5,520.6 L756.0,520.6 L757.5,520.7 L759.0,520.9 L760.5,521.0 L762.0,521.0 L763.5,521.1 L765.0,521.1 L766.5,521.0 L768.0,521.0 L769.5,520.9 L771.0,520.9 L772.5,520.9 L774.0,520.8 L775.5,520.8 L777.0,520.8 L778.5,520.9 L780.0,520.9 L781.5,520.9 L783.0,520.8 L784.5,520.7 L786.0,520.6 L787.5,520.7 L789.0,520.8 L790.5,520.9 L792.0,520.9 L793.5,520.9 L795.0,521.0 L796.5,521.0 L798.0,520.9 L799.5,520.8 L801.0,520.7 L802.5,520.8 L804.0,520.8 L805.5,520.9 L807.0,520.8 L808.5,520.6 L810.0,520.4 L811.5,520.2 L813.0,520.2 L814.5,520.1 L816.0,520.1 L817.5,520.1 L819.0,520.2 L820.5,520.3 L822.0,520.3 L823.5,520.3 L825.0,520.3 L826.5,520.2 L828.0,520.1 L829.5,520.0 L831.0,519.8 L832.5,519.8 L834.0,519.8 L835.5,519.8 L837.0,519.7 L838.5,519.6 L840.0,519.4 L841.5,519.3 L843.0,519.3 L844.5,519.2 L846.0,519.2 L847.5,519.1 L849.0,519.0 L850.5,518.9 L852.0,518.7 L853.5,518.5 L855.0,518.3 L856.5,518.0 L858.0,517.9 L859.5,517.7 L861.0,517.5 L862.5,517.3 L864.0,517.1 L865.5,516.9 L867.0,516.8 L868.5,516.8 L870.0,516.7 L871.5,516.6 L873.0,516.2 L874.5,515.9 L876.0,515.5 L877.5,515.3 L879.0,515.1 L880.5,514.9 L882.0,514.7 L883.5,514.4 L885.0,514.2 L886.5,513.9 L888.0,513.7 L889.5,513.4 L891.0,513.2 L892.5,512.8 L894.0,512.3 L895.5,511.9 L897.0,511.6 L898.5,511.3 L900.0,511.1 L901.5,510.8 L903.0,510.5 L904.5,510.1 L906.0,509.8 L907.5,509.3 L909.0,508.9 L910.5,508.4 L912.0,507.9 L913.5,507.4 L915.0,506.9 L916.5,506.5 L918.0,506.0 L919.5,505.5 L921.0,505.0 L922.5,504.6 L924.0,504.2 L925.5,503.8 L927.0,503.3 L928.5,502.8 L930.0,502.2 L931.5,501.6 L933.0,500.9 L934.5,500.2 L936.0,499.4 L937.5,499.0 L939.0,498.5 L940.5,498.0 L942.0,497.4 L943.5,496.6 L945.0,495.9 L946.5,495.1 L948.0,494.4 L949.5,493.8 L951.0,493.1 L952.5,492.3 L954.0,491.4 L955.5,490.6 L957.0,489.9 L958.5,489.2 L960.0,488.6 L961.5,487.8 L963.0,486.9 L964.5,486.0 L966.0,485.1 L967.5,484.2 L969.0,483.2 L970.5,482.3 L972.0,481.4 L973.5,480.6 L975.0,479.7 L976.5,478.8 L978.0,477.8 L979.5,476.8 L981.0,475.9 L982.5,474.9 L984.0,473.9 L985.5,472.9 L987.0,471.8 L988.5,470.8 L988.6,470.7" fill="none" stroke="#00ffff" stroke-width="3.50" stroke-linejoin="round" stroke-linecap="butt" />
<path d="M636.0,557.8 L637.5,558.0 L639.0,558.1 L640.5,558.2 L642.0,558.3 L643.5,558.4 L645.0,558.4 L646.5,558.4 L648.0,558.4 L649.5,558.3 L651.0,558.3 L652.5,558.2 L654.0,558.1 L655.5,557.9 L657.0,557.9 L658.5,558.0 L660.0,558.1 L661.5,558.1 L663.0,558.0 L664.5,557.9 L666.0,557.8 L667.5,557.9 L669.0,558.0 L670.5,558.1 L672.0,558.2 L673.5,558.3 L675.0,558.3 L676.5,558.4 L678.0,558.3 L679.5,558.2 L681.0,558.1 L682.5,558.0 L684.0,557.9 L685.5,557.8 L687.0,557.8 L688.5,557.8 L690.0,557.8 L691.5,557.8 L693.0,557.8 L694.5,557.7 L696.0,557.6 L697.5,557.6 L699.0,557.6 L700.5,557.7 L702.0,557.7 L703.5,557.9 L705.0,558.0 L706.5,558.1 L708.0,558.1 L709.5,558.1 L711.0,558.1 L712.5,558.0 L714.0,557.9 L715.5,557.8 L717.0,557.8 L718.5,557.7 L720.0,557.7 L721.5,557.7 L723.0,557.8 L724.5,557.8 L726.0,557.9 L727.5,557.8 L729.0,557.8 L730.5,557.7 L732.0,557.7 L733.5,557.6 L735.0,557.6 L736.5,557.6 L738.0,557.7 L739.5,557.8 L741.0,557.9 L742.5,557.8 L744.0,557.7 L745.5,557.5 L747.0,557.6 L748.5,557.7 L750.0,557.8 L751.5,557.9 L753.0,557.9 L754.5,557.9 L756.0,557.9 L757.5,557.9 L759.0,557.9 L760.5,557.8 L762.0,557.7 L763.5,557.5 L765.0,557.3 L766.5,557.2 L768.0,557.3 L769.5,557.4 L771.0,557.6 L772.5,557.4 L774.0,557.3 L775.5,557.2 L777.0,557.2 L778.5,557.2 L780.0,557.2 L781.5,557.2 L783.0,557.2 L784.5,557.2 L786.0,557.2 L787.5,556.9 L789.0,556.7 L790.5,556.5 L792.0,556.5 L793.5,556.6 L795.0,556.7 L796.5,556.7 L798.0,556.6 L799.5,556.5 L801.0,556.3 L802.5,556.1 L804.0,555.9 L805.5,555.7 L807.0,555.5 L808.5,555.3 L810.0,555.1 L811.5,554.9 L813.0,554.8 L814.5,554.6 L816.0,554.5 L817.5,554.3 L819.0,554.1 L820.5,553.9 L822.0,553.7 L823.5,553.6 L825.0,553.4 L826.5,553.3 L828.0,553.0 L829.5,552.8 L831.0,552.6 L832.5,552.5 L834.0,552.3 L835.5,552.2 L837.0,551.9 L838.5,551.5 L840.0,551.1 L841.5,550.8 L843.0,550.5 L844.5,550.3 L846.0,550.0 L847.5,549.7 L849.0,549.4 L850.5,549.1 L852.0,548.8 L853.5,548.5 L855.0,548.2 L856.5,547.9 L858.0,547.5 L859.5,547.0 L861.0,546.6 L862.5,546.2 L864.0,545.7 L865.5,545.3 L867.0,544.9 L868.5,544.5 L870.0,544.1 L871.5,543.7 L873.0,543.3 L874.5,543.0 L876.0,542.6 L877.5,542.0 L879.0,541.3 L880.5,540.7 L882.0,540.3 L883.5,539.9 L885.0,539.5 L886.5,539.0 L888.0,538.2 L889.5,537.5 L891.0,536.7 L892.5,536.2 L894.0,535.7 L895.5,535.1 L897.0,534.5 L898.5,533.8 L900.0,533.1 L901.5,532.4 L903.0,531.6 L904.5,530.8 L906.0,530.0 L907.5,529.2 L909.0,528.5 L910.5,527.7 L912.0,526.8 L913.5,525.8 L915.0,524.8 L916.5,523.9 L918.0,523.1 L919.5,522.3 L921.0,521.5 L922.5,520.5 L924.0,519.6 L925.5,518.6 L927.0,517.6 L928.5,516.6 L930.0,515.5 L931.5,514.5 L933.0,513.4 L934.5,512.3 L936.0,511.3 L937.5,510.2 L939.0,509.2 L940.5,508.2 L942.0,507.2 L943.5,506.2 L945.0,505.2 L946.5,504.2 L948.0,503.0 L949.5,501.9 L951.0,500.7 L952.5,499.6 L954.0,498.5 L955.5,497.4 L957.0,496.1 L958.5,494.9 L960.0,493.6 L961.5,492.4 L963.0,491.3 L964.5,490.2 L966.0,489.1 L967.5,487.9 L969.0,486.6 L970.5,485.4 L972.0,484.2 L973.5,483.0 L975.0,481.8 L976.5,480.6 L978.0,479.4 L979.5,478.1 L981.0,476.9 L982.5,475.7 L984.0,474.5 L985.5,473.2 L987.0,472.0 L988.5,470.8 L988.6,470.8" fill="none" stroke="#ff00ff" stroke-width="3.50" stroke-linejoin="round" stroke-linecap="butt" />
<path d="M636.0,609.3 L637.5,609.2 L639.0,609.1 L640.5,609.1 L642.0,609.1 L643.5,609.0 L645.0,609.0 L646.5,609.1 L648.0,609.2 L649.5,609.3 L651.0,609.4 L652.5,609.4 L654.0,609.4 L655.5,609.4 L657.0,609.3 L658.5,609.1 L660.0,608.9 L661.5,608.8 L663.0,609.0 L664.5,609.1 L666.0,609.2 L667.5,609.2 L669.0,609.2 L670.5,609.2 L672.0,609.2 L673.5,609.2 L675.0,609.2 L676.5,609.1 L678.0,608.9 L679.5,608.6 L681.0,608.4 L682.5,608.6 L684.0,608.7 L685.5,608.9 L687.0,608.8 L688.5,608.5 L690.0,608.2 L691.5,608.1 L693.0,608.2 L694.5,608.3 L696.0,608.4 L697.5,608.3 L699.0,608.2 L700.5,608.1 L702.0,608.1 L703.5,608.1 L705.0,608.1 L706.5,608.1 L708.0,608.0 L709.5,608.0 L711.0,608.0 L712.5,608.0 L714.0,608.0 L715.5,608.0 L717.0,608.0 L718.5,608.1 L720.0,608.1 L721.5,608.2 L723.0,608.2 L724.5,608.3 L726.0,608.3 L727.5,608.1 L729.0,608.0 L730.5,607.8 L732.0,607.8 L733.5,607.9 L735.0,608.0 L736.5,608.0 L738.0,607.8 L739.5,607.6 L741.0,607.3 L742.5,607.2 L744.0,607.1 L745.5,607.0 L747.0,607.0 L748.5,607.1 L750.0,607.1 L751.5,607.1 L753.0,607.2 L754.5,607.2 L756.0,607.2 L757.5,607.1 L759.0,606.9 L760.5,606.8 L762.0,606.7 L763.5,606.8 L765.0,606.9 L766.5,606.8 L768.0,606.6 L769.5,606.3 L771.0,606.0 L772.5,605.9 L774.0,605.8 L775.5,605.7 L777.0,605.6 L778.5,605.5 L780.0,605.3 L781.5,605.3 L783.0,605.3 L784.5,605.3 L786.0,605.3 L787.5,605.2 L789.0,605.0 L790.5,604.8 L792.0,604.6 L793.5,604.4 L795.0,604.1 L796.5,603.8 L798.0,603.4 L799.5,603.0 L801.0,602.6 L802.5,602.4 L804.0,602.2 L805.5,601.9 L807.0,601.7 L808.5,601.5 L810.0,601.3 L811.5,600.9 L813.0,600.3 L814.5,599.7 L816.0,599.1 L817.5,598.7 L819.0,598.4 L820.5,598.0 L822.0,597.6 L823.5,597.2 L825.0,596.8 L826.5,596.3 L828.0,595.8 L829.5,595.3 L831.0,594.8 L832.5,594.5 L834.0,594.1 L835.5,593.8 L837.0,593.2 L838.5,592.5 L840.0,591.8 L841.5,591.1 L843.0,590.4 L844.5,589.7 L846.0,588.9 L847.5,588.3 L849.0,587.6 L850.5,586.9 L852.0,586.3 L853.5,585.7 L855.0,585.2 L856.5,584.5 L858.0,583.6 L859.5,582.8 L861.0,581.9 L862.5,581.1 L864.0,580.2 L865.5,579.4 L867.0,578.6 L868.5,577.9 L870.0,577.1 L871.5,576.3 L873.0,575.2 L874.5,574.1 L876.0,573.0 L877.5,572.1 L879.0,571.2 L880.5,570.3 L882.0,569.3 L883.5,568.4 L885.0,567.5 L886.5,566.6 L888.0,565.6 L889.5,564.5 L891.0,563.5 L892.5,562.3 L894.0,561.1 L895.5,559.8 L897.0,558.7 L898.5,557.5 L900.0,556.3 L901.5,555.1 L903.0,553.8 L904.5,552.5 L906.0,551.2 L907.5,549.9 L909.0,548.5 L910.5,547.2 L912.0,546.0 L913.5,544.8 L915.0,543.6 L916.5,542.4 L918.0,540.9 L919.5,539.5 L921.0,538.0 L922.5,536.6 L924.0,535.1 L925.5,533.7 L927.0,532.3 L928.5,530.8 L930.0,529.4 L931.5,528.0 L933.0,526.6 L934.5,525.3 L936.0,523.9 L937.5,522.2 L939.0,520.5 L940.5,518.7 L942.0,517.2 L943.5,515.8 L945.0,514.4 L946.5,513.0 L948.0,511.7 L949.5,510.3 L951.0,508.9 L952.5,507.2 L954.0,505.4 L955.5,503.6 L957.0,502.0 L958.5,500.6 L960.0,499.2 L961.5,497.8 L963.0,496.4 L964.5,495.0 L966.0,493.6 L967.5,491.9 L969.0,490.2 L970.5,488.6 L972.0,487.1 L973.5,485.6 L975.0,484.1 L976.5,482.6 L978.0,481.1 L979.5,479.6 L981.0,478.2 L982.5,476.7 L984.0,475.2 L985.5,473.8 L987.0,472.3 L988.5,470.9 L988.6,470.8" fill="none" stroke="#ffff00" stroke-width="3.50" stroke-linejoin="round" stroke-linecap="butt" />
<path d="M636.0,672.9 L637.5,672.9 L639.0,672.9 L640.5,672.8 L642.0,672.7 L643.5,672.5 L645.0,672.3 L646.5,672.2 L648.0,672.3 L649.5,672.4 L651.0,672.5 L652.5,672.4 L654.0,672.2 L655.5,672.1 L657.0,671.9 L658.5,671.8 L660.0,671.7 L661.5,671.6 L663.0,671.8 L664.5,672.0 L666.0,672.2 L667.5,671.9 L669.0,671.7 L670.5,671.5 L672.0,671.5 L673.5,671.7 L675.0,671.8 L676.5,671.9 L678.0,671.7 L679.5,671.5 L681.0,671.4 L682.5,671.3 L684.0,671.3 L685.5,671.2 L687.0,671.4 L688.5,671.6 L690.0,671.8 L691.5,672.0 L693.0,671.8 L694.5,671.7 L696.0,671.6 L697.5,671.5 L699.0,671.5 L700.5,671.4 L702.0,671.4 L703.5,671.5 L705.0,671.5 L706.5,671.5 L708.0,671.2 L709.5,671.0 L711.0,670.7 L712.5,670.8 L714.0,670.8 L715.5,670.9 L717.0,670.7 L718.5,670.5 L720.0,670.3 L721.5,670.1 L723.0,670.2 L724.5,670.2 L726.0,670.2 L727.5,670.1 L729.0,670.0 L730.5,669.9 L732.0,669.9 L733.5,669.9 L735.0,669.9 L736.5,669.8 L738.0,669.6 L739.5,669.4 L741.0,669.1 L742.5,669.0 L744.0,668.9 L745.5,668.8 L747.0,668.4 L748.5,667.9 L750.0,667.5 L751.5,667.2 L753.0,667.2 L754.5,667.2 L756.0,667.2 L757.5,666.9 L759.0,666.6 L760.5,666.3 L762.0,666.0 L763.5,665.7 L765.0,665.4 L766.5,665.1 L768.0,664.6 L769.5,664.1 L771.0,663.7 L772.5,663.5 L774.0,663.3 L775.5,663.1 L777.0,662.7 L778.5,662.2 L780.0,661.6 L781.5,661.1 L783.0,660.5 L784.5,659.9 L786.0,659.3 L787.5,659.0 L789.0,658.6 L790.5,658.2 L792.0,657.8 L793.5,657.3 L795.0,656.8 L796.5,656.3 L798.0,655.9 L799.5,655.4 L801.0,655.0 L802.5,654.1 L804.0,653.2 L805.5,652.3 L807.0,651.6 L808.5,650.9 L810.0,650.2 L811.5,649.5 L813.0,649.0 L814.5,648.4 L816.0,647.9 L817.5,646.9 L819.0,646.0 L820.5,645.0 L822.0,644.2 L823.5,643.6 L825.0,643.0 L826.5,642.2 L828.0,641.3 L829.5,640.4 L831.0,639.5 L832.5,638.6 L834.0,637.8 L835.5,636.9 L837.0,635.9 L838.5,634.9 L840.0,633.9 L841.5,632.8 L843.0,631.7 L844.5,630.5 L846.0,629.4 L847.5,628.5 L849.0,627.7 L850.5,626.8 L852.0,625.7 L853.5,624.4 L855.0,623.1 L856.5,621.9 L858.0,620.8 L859.5,619.8 L861.0,618.8 L862.5,617.6 L864.0,616.5 L865.5,615.4 L867.0,614.1 L868.5,612.9 L870.0,611.6 L871.5,610.3 L873.0,609.0 L874.5,607.8 L876.0,606.5 L877.5,604.9 L879.0,603.4 L880.5,601.8 L882.0,600.4 L883.5,599.1 L885.0,597.9 L886.5,596.5 L888.0,594.8 L889.5,593.2 L891.0,591.5 L892.5,590.2 L894.0,588.8 L895.5,587.4 L897.0,586.0 L898.5,584.6 L900.0,583.1 L901.5,581.5 L903.0,579.7 L904.5,577.8 L906.0,575.9 L907.5,574.6 L909.0,573.2 L910.5,571.9 L912.0,570.3 L913.5,568.6 L915.0,566.8 L916.5,565.1 L918.0,563.3 L919.5,561.5 L921.0,559.7 L922.5,557.9 L924.0,556.1 L925.5,554.3 L927.0,552.3 L928.5,550.3 L930.0,548.3 L931.5,546.3 L933.0,544.6 L934.5,542.8 L936.0,541.0 L937.5,539.1 L939.0,537.2 L940.5,535.3 L942.0,533.3 L943.5,531.3 L945.0,529.2 L946.5,527.1 L948.0,525.0 L949.5,522.9 L951.0,520.7 L952.5,518.7 L954.0,516.8 L955.5,514.8 L957.0,512.7 L958.5,510.6 L960.0,508.5 L961.5,506.4 L963.0,504.4 L964.5,502.3 L966.0,500.3 L967.5,498.0 L969.0,495.8 L970.5,493.6 L972.0,491.5 L973.5,489.5 L975.0,487.6 L976.5,485.6 L978.0,483.7 L979.5,481.9 L981.0,480.0 L982.5,478.1 L984.0,476.2 L985.5,474.4 L987.0,472.7 L988.5,470.9 L988.6,470.8" fill="none" stroke="#808000" stroke-width="3.50" stroke-linejoin="round" stroke-linecap="butt" />
<rect x="636.00" y="462.80" width="353.00" height="284.60" fill="none" stroke="#000" stroke-width="2.20"/>
<line x1="636.00" y1="747.40" x2="636.00" y2="736.40" stroke="#000" stroke-width="3.40" stroke-linecap="butt"/>
<line x1="636.00" y1="462.80" x2="636.00" y2="473.80" stroke="#000" stroke-width="3.50" stroke-linecap="butt"/>
<line x1="724.25" y1="747.40" x2="724.25" y2="741.80" stroke="#000" stroke-width="3.40" stroke-linecap="butt"/>
<line x1="724.25" y1="462.80" x2="724.25" y2="468.60" stroke="#000" stroke-width="3.50" stroke-linecap="butt"/>
<line x1="812.50" y1="747.40" x2="812.50" y2="736.40" stroke="#000" stroke-width="3.40" stroke-linecap="butt"/>
<line x1="812.50" y1="462.80" x2="812.50" y2="473.80" stroke="#000" stroke-width="3.50" stroke-linecap="butt"/>
<line x1="900.75" y1="747.40" x2="900.75" y2="741.80" stroke="#000" stroke-width="3.40" stroke-linecap="butt"/>
<line x1="900.75" y1="462.80" x2="900.75" y2="468.60" stroke="#000" stroke-width="3.50" stroke-linecap="butt"/>
<line x1="989.00" y1="747.40" x2="989.00" y2="736.40" stroke="#000" stroke-width="3.40" stroke-linecap="butt"/>
<line x1="989.00" y1="462.80" x2="989.00" y2="473.80" stroke="#000" stroke-width="3.50" stroke-linecap="butt"/>
<line x1="636.00" y1="471.80" x2="641.30" y2="471.80" stroke="#000" stroke-width="1.60" stroke-linecap="butt"/>
<line x1="989.00" y1="471.80" x2="983.70" y2="471.80" stroke="#000" stroke-width="1.60" stroke-linecap="butt"/>
<line x1="636.00" y1="563.65" x2="641.30" y2="563.65" stroke="#000" stroke-width="1.60" stroke-linecap="butt"/>
<line x1="989.00" y1="563.65" x2="983.70" y2="563.65" stroke="#000" stroke-width="1.60" stroke-linecap="butt"/>
<line x1="636.00" y1="655.50" x2="641.30" y2="655.50" stroke="#000" stroke-width="1.60" stroke-linecap="butt"/>
<line x1="989.00" y1="655.50" x2="983.70" y2="655.50" stroke="#000" stroke-width="1.60" stroke-linecap="butt"/>
<line x1="636.00" y1="747.35" x2="641.30" y2="747.35" stroke="#000" stroke-width="1.60" stroke-linecap="butt"/>
<line x1="989.00" y1="747.35" x2="983.70" y2="747.35" stroke="#000" stroke-width="1.60" stroke-linecap="butt"/>
<line x1="636.00" y1="517.73" x2="638.70" y2="517.73" stroke="#000" stroke-width="1.60" stroke-linecap="butt"/>
<line x1="989.00" y1="517.73" x2="986.30" y2="517.73" stroke="#000" stroke-width="1.60" stroke-linecap="butt"/>
<line x1="636.00" y1="609.58" x2="638.70" y2="609.58" stroke="#000" stroke-width="1.60" stroke-linecap="butt"/>
<line x1="989.00" y1="609.58" x2="986.30" y2="609.58" stroke="#000" stroke-width="1.60" stroke-linecap="butt"/>
<line x1="636.00" y1="701.42" x2="638.70" y2="701.42" stroke="#000" stroke-width="1.60" stroke-linecap="butt"/>
<line x1="989.00" y1="701.42" x2="986.30" y2="701.42" stroke="#000" stroke-width="1.60" stroke-linecap="butt"/>
<line x1="924.70" y1="472.50" x2="960.26" y2="516.60" stroke="#000" stroke-width="3.30" stroke-linecap="butt"/>
<polygon points="974.70,534.50 954.34,518.81 963.68,511.27" fill="#000"/>
<text transform="translate(530.68,473.00) scale(1,1.045)" font-size="41.50" font-weight="bold">e</text>
<text transform="translate(610.37,480.30) scale(1,1.045)" font-size="25.00" ><tspan>0</tspan></text>
<text transform="translate(596.54,572.00) scale(1,1.045)" font-size="25.00" ><tspan>–5</tspan></text>
<text transform="translate(582.57,664.00) scale(1,1.045)" font-size="25.00" ><tspan>–<tspan font-family="NanumGothic, Liberation Sans, sans-serif" font-weight="bold" font-size="22.00">1</tspan><tspan dx="0.57">0</tspan></tspan></text>
<text transform="translate(582.64,755.60) scale(1,1.045)" font-size="25.00" ><tspan>–<tspan font-family="NanumGothic, Liberation Sans, sans-serif" font-weight="bold" font-size="22.00">1</tspan><tspan dx="0.57">5</tspan></tspan></text>
<text transform="translate(612.06,778.40) scale(1,1.045)" font-size="25.00" ><tspan>–<tspan font-family="NanumGothic, Liberation Sans, sans-serif" font-weight="bold" font-size="22.00">1</tspan><tspan dx="0.57">.0</tspan></tspan></text>
<text transform="translate(788.80,778.40) scale(1,1.045)" font-size="25.00" ><tspan>–0.5</tspan></text>
<text transform="translate(971.82,778.40) scale(1,1.045)" font-size="25.00" ><tspan>0.0</tspan></text>
<text transform="translate(774.84,816.80) scale(1,1.045)" font-size="25.00" ><tspan font-style="italic">V</tspan><tspan font-size="16.60" dy="8.40" dx="-2.00">DS</tspan><tspan dy="-8.40"> (V)</tspan></text>
<text transform="translate(554.40,676.99) rotate(-90) scale(1,1.045)" font-size="25.00" ><tspan font-style="italic">I</tspan><tspan font-size="16.30" dy="8.40">DS</tspan><tspan dy="-8.40"> (μA μm</tspan><tspan font-size="16.30" dy="-12.00">–<tspan font-family="NanumGothic, Liberation Sans, sans-serif" font-weight="bold" font-size="14.34">1</tspan><tspan dx="0.37"></tspan></tspan><tspan dy="12.00">)</tspan></text>
<text transform="translate(881.47,651.80) scale(1,1.045)" font-size="23.00" ><tspan>4 L WSe</tspan><tspan font-size="15.00" dy="5.80" dx="0.90">2</tspan></text>
<text transform="translate(765.14,689.00) scale(1,1.045)" font-size="22.70" ><tspan font-style="italic">V</tspan><tspan font-size="15.00" dy="6.00" dx="-1.50">BG</tspan><tspan dy="-6.00">: –0.6 V</tspan><tspan font-family="DejaVu Sans ExtraLight, DejaVu Sans, sans-serif" font-weight="200" font-size="28" dy="3.0">→</tspan><tspan dy="-3.00"> –<tspan font-family="NanumGothic, Liberation Sans, sans-serif" font-weight="bold" font-size="19.98">1</tspan><tspan dx="0.52">.</tspan><tspan font-family="NanumGothic, Liberation Sans, sans-serif" font-weight="bold" font-size="19.98">1</tspan><tspan dx="0.52"> V</tspan></tspan></text>
<text transform="translate(763.92,723.70) scale(1,1.045)" font-size="22.70" ><tspan>Δ</tspan><tspan font-style="italic">V</tspan><tspan font-size="15.00" dy="6.00" dx="-1.50">BG</tspan><tspan dy="-6.00"> = –0.<tspan font-family="NanumGothic, Liberation Sans, sans-serif" font-weight="bold" font-size="19.98">1</tspan><tspan dx="0.52">0 V</tspan></tspan></text>
<path d="M1155.5,474.8 L1157.0,474.7 L1158.5,474.6 L1160.0,474.5 L1161.5,474.5 L1163.0,474.6 L1164.5,474.6 L1166.0,474.6 L1167.5,474.5 L1169.0,474.4 L1170.5,474.2 L1172.0,474.3 L1173.5,474.3 L1175.0,474.3 L1176.5,474.3 L1178.0,474.3 L1179.5,474.3 L1181.0,474.3 L1182.5,474.3 L1184.0,474.3 L1185.5,474.4 L1187.0,474.2 L1188.5,474.1 L1190.0,474.0 L1191.5,474.0 L1193.0,474.0 L1194.5,474.0 L1196.0,474.0 L1197.5,474.2 L1199.0,474.4 L1200.5,474.6 L1202.0,474.6 L1203.5,474.5 L1205.0,474.5 L1206.5,474.4 L1208.0,474.4 L1209.5,474.4 L1211.0,474.4 L1212.5,474.5 L1214.0,474.5 L1215.5,474.6 L1217.0,474.4 L1218.5,474.3 L1220.0,474.2 L1221.5,474.2 L1223.0,474.1 L1224.5,474.1 L1226.0,474.1 L1227.5,474.1 L1229.0,474.1 L1230.5,474.1 L1232.0,474.1 L1233.5,474.2 L1235.0,474.2 L1236.5,474.3 L1238.0,474.3 L1239.5,474.3 L1241.0,474.3 L1242.5,474.2 L1244.0,474.2 L1245.5,474.1 L1247.0,474.1 L1248.5,474.1 L1250.0,474.2 L1251.5,474.2 L1253.0,474.1 L1254.5,474.1 L1256.0,474.1 L1257.5,474.3 L1259.0,474.4 L1260.5,474.5 L1262.0,474.4 L1263.5,474.4 L1265.0,474.3 L1266.5,474.3 L1268.0,474.4 L1269.5,474.5 L1271.0,474.5 L1272.5,474.6 L1274.0,474.6 L1275.5,474.6 L1277.0,474.5 L1278.5,474.4 L1280.0,474.3 L1281.5,474.3 L1283.0,474.3 L1284.5,474.3 L1286.0,474.3 L1287.5,474.4 L1289.0,474.4 L1290.5,474.5 L1292.0,474.6 L1293.5,474.7 L1295.0,474.9 L1296.5,474.8 L1298.0,474.6 L1299.5,474.5 L1301.0,474.4 L1302.5,474.4 L1304.0,474.4 L1305.5,474.4 L1307.0,474.6 L1308.5,474.7 L1310.0,474.9 L1311.5,474.9 L1313.0,474.9 L1314.5,474.9 L1316.0,474.9 L1317.5,474.9 L1319.0,474.9 L1320.5,475.0 L1322.0,475.0 L1323.5,475.0 L1325.0,474.9 L1326.5,474.8 L1328.0,474.7 L1329.5,474.6 L1331.0,474.5 L1332.5,474.5 L1334.0,474.5 L1335.5,474.4 L1337.0,474.6 L1338.5,474.7 L1340.0,474.9 L1341.5,474.9 L1343.0,474.8 L1344.5,474.7 L1346.0,474.6 L1347.5,474.6 L1349.0,474.5 L1350.5,474.5 L1352.0,474.5 L1353.5,474.6 L1355.0,474.6 L1356.5,474.6 L1358.0,474.7 L1359.5,474.7 L1361.0,474.7 L1362.5,474.6 L1364.0,474.4 L1365.5,474.3 L1367.0,474.3 L1368.5,474.3 L1370.0,474.3 L1371.5,474.4 L1373.0,474.6 L1374.5,474.7 L1376.0,474.7 L1377.5,474.5 L1379.0,474.3 L1380.5,474.1 L1382.0,474.2 L1383.5,474.4 L1385.0,474.5 L1386.5,474.5 L1388.0,474.6 L1389.5,474.7 L1391.0,474.6 L1392.5,474.4 L1394.0,474.3 L1395.5,474.1 L1397.0,474.1 L1398.5,474.2 L1400.0,474.2 L1401.5,474.2 L1403.0,474.2 L1404.5,474.1 L1406.0,474.1 L1407.5,474.0 L1409.0,473.9 L1410.5,473.8 L1412.0,474.0 L1413.5,474.1 L1415.0,474.2 L1416.5,474.2 L1418.0,474.0 L1419.5,473.9 L1421.0,473.8 L1422.5,473.8 L1424.0,473.8 L1425.5,473.8 L1427.0,473.8 L1428.5,473.8 L1430.0,473.8 L1431.5,473.7 L1433.0,473.6 L1434.5,473.4 L1436.0,473.3 L1437.5,473.2 L1439.0,473.2 L1440.5,473.1 L1442.0,473.2 L1443.5,473.3 L1445.0,473.4 L1446.5,473.4 L1448.0,473.3 L1449.5,473.3 L1451.0,473.2 L1452.5,473.2 L1454.0,473.2 L1455.5,473.2 L1457.0,473.1 L1458.5,472.9 L1460.0,472.8 L1461.5,472.8 L1463.0,472.8 L1464.5,472.8 L1466.0,472.7 L1467.5,472.5 L1469.0,472.3 L1470.5,472.0 L1472.0,472.1 L1473.5,472.2 L1475.0,472.3 L1476.5,472.2 L1478.0,472.0 L1479.5,471.7 L1481.0,471.6 L1482.5,471.6 L1484.0,471.6 L1485.5,471.7 L1487.0,471.6 L1488.5,471.5 L1490.0,471.4 L1491.5,471.3 L1493.0,471.3 L1494.5,471.2 L1496.0,471.1 L1497.5,471.0 L1499.0,470.8 L1500.5,470.7 L1502.0,470.6 L1503.5,470.6 L1505.0,470.5 L1506.5,470.4 L1508.0,470.3" fill="none" stroke="#00ff00" stroke-width="3.50" stroke-linejoin="round" stroke-linecap="butt" />
<path d="M1155.5,483.8 L1157.0,483.9 L1158.5,483.9 L1160.0,483.9 L1161.5,483.8 L1163.0,483.6 L1164.5,483.4 L1166.0,483.3 L1167.5,483.3 L1169.0,483.3 L1170.5,483.2 L1172.0,483.2 L1173.5,483.1 L1175.0,483.1 L1176.5,483.1 L1178.0,483.2 L1179.5,483.2 L1181.0,483.2 L1182.5,483.1 L1184.0,483.0 L1185.5,482.9 L1187.0,483.0 L1188.5,483.2 L1190.0,483.3 L1191.5,483.3 L1193.0,483.2 L1194.5,483.1 L1196.0,483.0 L1197.5,483.0 L1199.0,483.0 L1200.5,483.0 L1202.0,483.1 L1203.5,483.2 L1205.0,483.2 L1206.5,483.2 L1208.0,483.0 L1209.5,482.8 L1211.0,482.7 L1212.5,482.7 L1214.0,482.7 L1215.5,482.7 L1217.0,482.8 L1218.5,482.8 L1220.0,482.8 L1221.5,482.9 L1223.0,483.0 L1224.5,483.2 L1226.0,483.3 L1227.5,483.1 L1229.0,483.0 L1230.5,482.8 L1232.0,483.0 L1233.5,483.2 L1235.0,483.3 L1236.5,483.4 L1238.0,483.3 L1239.5,483.3 L1241.0,483.3 L1242.5,483.2 L1244.0,483.1 L1245.5,483.1 L1247.0,483.2 L1248.5,483.3 L1250.0,483.5 L1251.5,483.5 L1253.0,483.4 L1254.5,483.4 L1256.0,483.4 L1257.5,483.3 L1259.0,483.3 L1260.5,483.2 L1262.0,483.4 L1263.5,483.5 L1265.0,483.6 L1266.5,483.5 L1268.0,483.3 L1269.5,483.2 L1271.0,483.1 L1272.5,483.3 L1274.0,483.5 L1275.5,483.6 L1277.0,483.6 L1278.5,483.7 L1280.0,483.7 L1281.5,483.7 L1283.0,483.6 L1284.5,483.6 L1286.0,483.5 L1287.5,483.5 L1289.0,483.5 L1290.5,483.4 L1292.0,483.4 L1293.5,483.3 L1295.0,483.2 L1296.5,483.2 L1298.0,483.2 L1299.5,483.3 L1301.0,483.3 L1302.5,483.3 L1304.0,483.4 L1305.5,483.4 L1307.0,483.4 L1308.5,483.4 L1310.0,483.3 L1311.5,483.3 L1313.0,483.4 L1314.5,483.5 L1316.0,483.5 L1317.5,483.6 L1319.0,483.7 L1320.5,483.9 L1322.0,483.7 L1323.5,483.5 L1325.0,483.3 L1326.5,483.2 L1328.0,483.3 L1329.5,483.3 L1331.0,483.3 L1332.5,483.5 L1334.0,483.6 L1335.5,483.8 L1337.0,483.7 L1338.5,483.6 L1340.0,483.5 L1341.5,483.5 L1343.0,483.4 L1344.5,483.4 L1346.0,483.4 L1347.5,483.3 L1349.0,483.2 L1350.5,483.1 L1352.0,483.2 L1353.5,483.3 L1355.0,483.3 L1356.5,483.3 L1358.0,483.3 L1359.5,483.2 L1361.0,483.2 L1362.5,483.1 L1364.0,483.1 L1365.5,483.1 L1367.0,483.1 L1368.5,483.1 L1370.0,483.1 L1371.5,483.1 L1373.0,483.1 L1374.5,483.2 L1376.0,483.2 L1377.5,483.2 L1379.0,483.1 L1380.5,483.1 L1382.0,482.9 L1383.5,482.8 L1385.0,482.6 L1386.5,482.6 L1388.0,482.6 L1389.5,482.6 L1391.0,482.6 L1392.5,482.6 L1394.0,482.5 L1395.5,482.4 L1397.0,482.4 L1398.5,482.3 L1400.0,482.3 L1401.5,482.2 L1403.0,482.0 L1404.5,481.9 L1406.0,481.8 L1407.5,481.8 L1409.0,481.7 L1410.5,481.6 L1412.0,481.5 L1413.5,481.4 L1415.0,481.2 L1416.5,481.2 L1418.0,481.2 L1419.5,481.2 L1421.0,481.1 L1422.5,480.9 L1424.0,480.8 L1425.5,480.6 L1427.0,480.4 L1428.5,480.3 L1430.0,480.2 L1431.5,480.1 L1433.0,480.0 L1434.5,480.0 L1436.0,479.9 L1437.5,479.8 L1439.0,479.7 L1440.5,479.5 L1442.0,479.5 L1443.5,479.4 L1445.0,479.4 L1446.5,479.1 L1448.0,478.8 L1449.5,478.5 L1451.0,478.3 L1452.5,478.3 L1454.0,478.2 L1455.5,478.2 L1457.0,478.1 L1458.5,477.9 L1460.0,477.7 L1461.5,477.4 L1463.0,477.1 L1464.5,476.8 L1466.0,476.5 L1467.5,476.4 L1469.0,476.3 L1470.5,476.1 L1472.0,476.0 L1473.5,475.8 L1475.0,475.6 L1476.5,475.4 L1478.0,475.1 L1479.5,474.9 L1481.0,474.6 L1482.5,474.4 L1484.0,474.1 L1485.5,473.9 L1487.0,473.8 L1488.5,473.7 L1490.0,473.6 L1491.5,473.4 L1493.0,473.0 L1494.5,472.7 L1496.0,472.4 L1497.5,472.2 L1499.0,471.9 L1500.5,471.7 L1502.0,471.4 L1503.5,471.1 L1505.0,470.9 L1506.5,470.6 L1508.0,470.3" fill="none" stroke="#0000ff" stroke-width="3.50" stroke-linejoin="round" stroke-linecap="butt" />
<path d="M1155.5,503.3 L1157.0,503.2 L1158.5,503.1 L1160.0,503.1 L1161.5,503.0 L1163.0,503.1 L1164.5,503.1 L1166.0,503.0 L1167.5,502.8 L1169.0,502.6 L1170.5,502.4 L1172.0,502.3 L1173.5,502.2 L1175.0,502.2 L1176.5,502.2 L1178.0,502.3 L1179.5,502.3 L1181.0,502.3 L1182.5,502.2 L1184.0,502.2 L1185.5,502.1 L1187.0,502.1 L1188.5,502.1 L1190.0,502.2 L1191.5,502.1 L1193.0,502.0 L1194.5,501.9 L1196.0,501.9 L1197.5,501.9 L1199.0,502.0 L1200.5,502.1 L1202.0,502.2 L1203.5,502.2 L1205.0,502.3 L1206.5,502.2 L1208.0,502.1 L1209.5,502.0 L1211.0,502.0 L1212.5,501.9 L1214.0,501.9 L1215.5,501.9 L1217.0,501.9 L1218.5,501.8 L1220.0,501.7 L1221.5,501.8 L1223.0,501.9 L1224.5,502.0 L1226.0,502.0 L1227.5,501.9 L1229.0,501.8 L1230.5,501.7 L1232.0,501.9 L1233.5,502.1 L1235.0,502.3 L1236.5,502.2 L1238.0,502.1 L1239.5,502.0 L1241.0,501.9 L1242.5,502.0 L1244.0,502.1 L1245.5,502.2 L1247.0,502.2 L1248.5,502.2 L1250.0,502.2 L1251.5,502.3 L1253.0,502.3 L1254.5,502.4 L1256.0,502.4 L1257.5,502.4 L1259.0,502.4 L1260.5,502.4 L1262.0,502.4 L1263.5,502.4 L1265.0,502.4 L1266.5,502.4 L1268.0,502.4 L1269.5,502.5 L1271.0,502.5 L1272.5,502.5 L1274.0,502.5 L1275.5,502.6 L1277.0,502.4 L1278.5,502.2 L1280.0,502.1 L1281.5,502.1 L1283.0,502.1 L1284.5,502.2 L1286.0,502.2 L1287.5,502.3 L1289.0,502.4 L1290.5,502.5 L1292.0,502.4 L1293.5,502.2 L1295.0,502.1 L1296.5,502.2 L1298.0,502.3 L1299.5,502.5 L1301.0,502.6 L1302.5,502.5 L1304.0,502.4 L1305.5,502.3 L1307.0,502.3 L1308.5,502.4 L1310.0,502.4 L1311.5,502.4 L1313.0,502.5 L1314.5,502.5 L1316.0,502.5 L1317.5,502.3 L1319.0,502.2 L1320.5,502.1 L1322.0,502.2 L1323.5,502.3 L1325.0,502.4 L1326.5,502.4 L1328.0,502.4 L1329.5,502.3 L1331.0,502.3 L1332.5,502.3 L1334.0,502.3 L1335.5,502.3 L1337.0,502.2 L1338.5,502.0 L1340.0,501.9 L1341.5,501.9 L1343.0,501.9 L1344.5,502.0 L1346.0,502.1 L1347.5,502.1 L1349.0,502.1 L1350.5,502.1 L1352.0,501.8 L1353.5,501.6 L1355.0,501.4 L1356.5,501.4 L1358.0,501.4 L1359.5,501.5 L1361.0,501.5 L1362.5,501.4 L1364.0,501.2 L1365.5,501.0 L1367.0,500.9 L1368.5,500.8 L1370.0,500.6 L1371.5,500.5 L1373.0,500.4 L1374.5,500.2 L1376.0,500.1 L1377.5,500.2 L1379.0,500.2 L1380.5,500.3 L1382.0,500.1 L1383.5,499.8 L1385.0,499.6 L1386.5,499.5 L1388.0,499.4 L1389.5,499.2 L1391.0,499.1 L1392.5,499.0 L1394.0,498.9 L1395.5,498.8 L1397.0,498.6 L1398.5,498.4 L1400.0,498.2 L1401.5,498.0 L1403.0,497.8 L1404.5,497.6 L1406.0,497.3 L1407.5,497.1 L1409.0,496.9 L1410.5,496.7 L1412.0,496.5 L1413.5,496.4 L1415.0,496.3 L1416.5,496.0 L1418.0,495.8 L1419.5,495.5 L1421.0,495.3 L1422.5,495.1 L1424.0,495.0 L1425.5,494.8 L1427.0,494.6 L1428.5,494.3 L1430.0,494.1 L1431.5,493.8 L1433.0,493.4 L1434.5,493.1 L1436.0,492.7 L1437.5,492.4 L1439.0,492.1 L1440.5,491.7 L1442.0,491.4 L1443.5,491.0 L1445.0,490.7 L1446.5,490.4 L1448.0,490.2 L1449.5,489.9 L1451.0,489.6 L1452.5,489.1 L1454.0,488.6 L1455.5,488.1 L1457.0,487.7 L1458.5,487.3 L1460.0,486.9 L1461.5,486.6 L1463.0,486.3 L1464.5,486.1 L1466.0,485.8 L1467.5,485.3 L1469.0,484.9 L1470.5,484.4 L1472.0,483.8 L1473.5,483.2 L1475.0,482.6 L1476.5,482.1 L1478.0,481.7 L1479.5,481.2 L1481.0,480.7 L1482.5,480.2 L1484.0,479.7 L1485.5,479.1 L1487.0,478.6 L1488.5,478.1 L1490.0,477.6 L1491.5,477.0 L1493.0,476.4 L1494.5,475.8 L1496.0,475.2 L1497.5,474.6 L1499.0,474.0 L1500.5,473.5 L1502.0,472.8 L1503.5,472.2 L1505.0,471.6 L1506.5,470.9 L1508.0,470.3" fill="none" stroke="#00ffff" stroke-width="3.50" stroke-linejoin="round" stroke-linecap="butt" />
<path d="M1155.5,539.8 L1157.0,539.7 L1158.5,539.6 L1160.0,539.6 L1161.5,539.5 L1163.0,539.4 L1164.5,539.4 L1166.0,539.4 L1167.5,539.5 L1169.0,539.6 L1170.5,539.7 L1172.0,539.7 L1173.5,539.7 L1175.0,539.6 L1176.5,539.6 L1178.0,539.6 L1179.5,539.5 L1181.0,539.5 L1182.5,539.4 L1184.0,539.3 L1185.5,539.2 L1187.0,539.1 L1188.5,539.0 L1190.0,538.9 L1191.5,538.9 L1193.0,538.9 L1194.5,538.9 L1196.0,538.9 L1197.5,538.9 L1199.0,538.9 L1200.5,538.9 L1202.0,539.0 L1203.5,539.1 L1205.0,539.1 L1206.5,539.0 L1208.0,538.8 L1209.5,538.6 L1211.0,538.5 L1212.5,538.5 L1214.0,538.5 L1215.5,538.6 L1217.0,538.6 L1218.5,538.6 L1220.0,538.6 L1221.5,538.6 L1223.0,538.5 L1224.5,538.5 L1226.0,538.4 L1227.5,538.3 L1229.0,538.2 L1230.5,538.1 L1232.0,538.2 L1233.5,538.2 L1235.0,538.3 L1236.5,538.3 L1238.0,538.3 L1239.5,538.3 L1241.0,538.3 L1242.5,538.1 L1244.0,538.0 L1245.5,537.9 L1247.0,537.8 L1248.5,537.7 L1250.0,537.6 L1251.5,537.5 L1253.0,537.4 L1254.5,537.4 L1256.0,537.3 L1257.5,537.4 L1259.0,537.4 L1260.5,537.4 L1262.0,537.3 L1263.5,537.2 L1265.0,537.1 L1266.5,537.0 L1268.0,537.0 L1269.5,537.0 L1271.0,537.0 L1272.5,536.9 L1274.0,536.8 L1275.5,536.8 L1277.0,536.7 L1278.5,536.7 L1280.0,536.6 L1281.5,536.5 L1283.0,536.4 L1284.5,536.3 L1286.0,536.2 L1287.5,536.2 L1289.0,536.3 L1290.5,536.3 L1292.0,536.2 L1293.5,536.0 L1295.0,535.8 L1296.5,535.8 L1298.0,535.7 L1299.5,535.7 L1301.0,535.6 L1302.5,535.5 L1304.0,535.4 L1305.5,535.3 L1307.0,535.3 L1308.5,535.2 L1310.0,535.1 L1311.5,535.1 L1313.0,535.0 L1314.5,534.9 L1316.0,534.8 L1317.5,534.6 L1319.0,534.4 L1320.5,534.2 L1322.0,534.2 L1323.5,534.3 L1325.0,534.3 L1326.5,534.2 L1328.0,534.1 L1329.5,534.0 L1331.0,533.8 L1332.5,533.8 L1334.0,533.7 L1335.5,533.7 L1337.0,533.5 L1338.5,533.4 L1340.0,533.2 L1341.5,533.0 L1343.0,532.8 L1344.5,532.5 L1346.0,532.3 L1347.5,532.3 L1349.0,532.3 L1350.5,532.2 L1352.0,531.9 L1353.5,531.6 L1355.0,531.3 L1356.5,531.1 L1358.0,530.9 L1359.5,530.8 L1361.0,530.6 L1362.5,530.4 L1364.0,530.2 L1365.5,530.1 L1367.0,530.0 L1368.5,530.0 L1370.0,529.9 L1371.5,529.6 L1373.0,529.2 L1374.5,528.8 L1376.0,528.4 L1377.5,528.2 L1379.0,527.9 L1380.5,527.7 L1382.0,527.5 L1383.5,527.3 L1385.0,527.1 L1386.5,526.8 L1388.0,526.4 L1389.5,526.1 L1391.0,525.7 L1392.5,525.5 L1394.0,525.2 L1395.5,525.0 L1397.0,524.8 L1398.5,524.5 L1400.0,524.3 L1401.5,524.0 L1403.0,523.7 L1404.5,523.4 L1406.0,523.0 L1407.5,522.5 L1409.0,521.9 L1410.5,521.4 L1412.0,521.1 L1413.5,520.9 L1415.0,520.6 L1416.5,520.3 L1418.0,519.8 L1419.5,519.4 L1421.0,518.9 L1422.5,518.5 L1424.0,518.0 L1425.5,517.5 L1427.0,517.1 L1428.5,516.8 L1430.0,516.4 L1431.5,515.9 L1433.0,515.4 L1434.5,514.8 L1436.0,514.3 L1437.5,513.6 L1439.0,513.0 L1440.5,512.3 L1442.0,511.8 L1443.5,511.3 L1445.0,510.7 L1446.5,510.1 L1448.0,509.4 L1449.5,508.7 L1451.0,508.0 L1452.5,507.3 L1454.0,506.6 L1455.5,505.8 L1457.0,505.3 L1458.5,504.6 L1460.0,504.0 L1461.5,503.2 L1463.0,502.4 L1464.5,501.5 L1466.0,500.6 L1467.5,499.8 L1469.0,498.9 L1470.5,498.0 L1472.0,497.1 L1473.5,496.2 L1475.0,495.2 L1476.5,494.3 L1478.0,493.4 L1479.5,492.4 L1481.0,491.4 L1482.5,490.4 L1484.0,489.4 L1485.5,488.3 L1487.0,487.4 L1488.5,486.4 L1490.0,485.3 L1491.5,484.1 L1493.0,482.9 L1494.5,481.6 L1496.0,480.4 L1497.5,479.2 L1499.0,477.9 L1500.5,476.7 L1502.0,475.5 L1503.5,474.2 L1505.0,472.9 L1506.5,471.6 L1508.0,470.2" fill="none" stroke="#ff00ff" stroke-width="3.50" stroke-linejoin="round" stroke-linecap="butt" />
<path d="M1155.5,598.8 L1157.0,598.9 L1158.5,599.0 L1160.0,599.1 L1161.5,599.0 L1163.0,598.7 L1164.5,598.5 L1166.0,598.4 L1167.5,598.6 L1169.0,598.7 L1170.5,598.9 L1172.0,598.7 L1173.5,598.6 L1175.0,598.5 L1176.5,598.5 L1178.0,598.5 L1179.5,598.6 L1181.0,598.6 L1182.5,598.6 L1184.0,598.6 L1185.5,598.5 L1187.0,598.5 L1188.5,598.5 L1190.0,598.5 L1191.5,598.5 L1193.0,598.5 L1194.5,598.6 L1196.0,598.6 L1197.5,598.6 L1199.0,598.6 L1200.5,598.6 L1202.0,598.5 L1203.5,598.4 L1205.0,598.2 L1206.5,598.1 L1208.0,598.0 L1209.5,597.9 L1211.0,597.8 L1212.5,597.7 L1214.0,597.7 L1215.5,597.7 L1217.0,597.6 L1218.5,597.4 L1220.0,597.3 L1221.5,597.3 L1223.0,597.2 L1224.5,597.2 L1226.0,597.1 L1227.5,597.0 L1229.0,597.0 L1230.5,596.9 L1232.0,597.0 L1233.5,597.1 L1235.0,597.2 L1236.5,597.2 L1238.0,597.1 L1239.5,597.1 L1241.0,596.9 L1242.5,596.7 L1244.0,596.5 L1245.5,596.3 L1247.0,596.3 L1248.5,596.3 L1250.0,596.3 L1251.5,596.2 L1253.0,596.0 L1254.5,595.9 L1256.0,595.8 L1257.5,595.6 L1259.0,595.4 L1260.5,595.3 L1262.0,595.0 L1263.5,594.8 L1265.0,594.6 L1266.5,594.5 L1268.0,594.4 L1269.5,594.3 L1271.0,594.2 L1272.5,593.8 L1274.0,593.5 L1275.5,593.1 L1277.0,592.9 L1278.5,592.7 L1280.0,592.4 L1281.5,592.2 L1283.0,591.9 L1284.5,591.5 L1286.0,591.3 L1287.5,591.1 L1289.0,590.9 L1290.5,590.8 L1292.0,590.5 L1293.5,590.3 L1295.0,590.0 L1296.5,589.9 L1298.0,589.9 L1299.5,590.0 L1301.0,589.9 L1302.5,589.5 L1304.0,589.2 L1305.5,588.8 L1307.0,588.7 L1308.5,588.6 L1310.0,588.4 L1311.5,588.1 L1313.0,587.7 L1314.5,587.2 L1316.0,586.8 L1317.5,586.5 L1319.0,586.1 L1320.5,585.7 L1322.0,585.5 L1323.5,585.2 L1325.0,584.9 L1326.5,584.7 L1328.0,584.4 L1329.5,584.2 L1331.0,583.9 L1332.5,583.5 L1334.0,583.1 L1335.5,582.6 L1337.0,582.2 L1338.5,581.8 L1340.0,581.4 L1341.5,581.0 L1343.0,580.6 L1344.5,580.2 L1346.0,579.9 L1347.5,579.6 L1349.0,579.4 L1350.5,579.2 L1352.0,578.6 L1353.5,578.0 L1355.0,577.4 L1356.5,576.9 L1358.0,576.5 L1359.5,576.1 L1361.0,575.6 L1362.5,575.1 L1364.0,574.6 L1365.5,574.1 L1367.0,573.6 L1368.5,573.2 L1370.0,572.7 L1371.5,572.4 L1373.0,572.1 L1374.5,571.9 L1376.0,571.5 L1377.5,571.0 L1379.0,570.4 L1380.5,569.9 L1382.0,569.0 L1383.5,568.1 L1385.0,567.2 L1386.5,566.6 L1388.0,566.2 L1389.5,565.7 L1391.0,565.1 L1392.5,564.3 L1394.0,563.5 L1395.5,562.7 L1397.0,562.2 L1398.5,561.8 L1400.0,561.3 L1401.5,560.7 L1403.0,559.9 L1404.5,559.1 L1406.0,558.3 L1407.5,557.5 L1409.0,556.6 L1410.5,555.7 L1412.0,554.8 L1413.5,553.8 L1415.0,552.9 L1416.5,552.2 L1418.0,551.5 L1419.5,550.9 L1421.0,550.1 L1422.5,549.3 L1424.0,548.4 L1425.5,547.5 L1427.0,546.4 L1428.5,545.3 L1430.0,544.1 L1431.5,543.2 L1433.0,542.3 L1434.5,541.3 L1436.0,540.3 L1437.5,539.1 L1439.0,537.9 L1440.5,536.7 L1442.0,535.6 L1443.5,534.4 L1445.0,533.3 L1446.5,532.1 L1448.0,530.9 L1449.5,529.7 L1451.0,528.5 L1452.5,527.4 L1454.0,526.2 L1455.5,525.1 L1457.0,523.8 L1458.5,522.6 L1460.0,521.4 L1461.5,520.1 L1463.0,518.7 L1464.5,517.4 L1466.0,516.0 L1467.5,514.5 L1469.0,513.0 L1470.5,511.4 L1472.0,510.3 L1473.5,509.1 L1475.0,508.0 L1476.5,506.5 L1478.0,504.9 L1479.5,503.2 L1481.0,501.6 L1482.5,500.1 L1484.0,498.6 L1485.5,497.1 L1487.0,495.3 L1488.5,493.5 L1490.0,491.8 L1491.5,490.1 L1493.0,488.4 L1494.5,486.7 L1496.0,485.0 L1497.5,483.2 L1499.0,481.4 L1500.5,479.6 L1502.0,477.7 L1503.5,475.9 L1505.0,474.0 L1506.5,472.2 L1508.0,470.3" fill="none" stroke="#ffff00" stroke-width="3.50" stroke-linejoin="round" stroke-linecap="butt" />
<path d="M1155.5,680.6 L1157.0,680.5 L1158.5,680.5 L1160.0,680.4 L1161.5,680.4 L1163.0,680.5 L1164.5,680.6 L1166.0,680.5 L1167.5,680.1 L1169.0,679.6 L1170.5,679.2 L1172.0,679.3 L1173.5,679.4 L1175.0,679.5 L1176.5,679.4 L1178.0,679.2 L1179.5,679.0 L1181.0,678.9 L1182.5,678.8 L1184.0,678.7 L1185.5,678.6 L1187.0,678.3 L1188.5,678.0 L1190.0,677.7 L1191.5,677.4 L1193.0,677.1 L1194.5,676.9 L1196.0,676.6 L1197.5,676.3 L1199.0,676.0 L1200.5,675.7 L1202.0,675.7 L1203.5,675.7 L1205.0,675.7 L1206.5,675.6 L1208.0,675.4 L1209.5,675.3 L1211.0,675.0 L1212.5,674.6 L1214.0,674.2 L1215.5,673.7 L1217.0,673.5 L1218.5,673.3 L1220.0,673.1 L1221.5,672.8 L1223.0,672.6 L1224.5,672.4 L1226.0,672.0 L1227.5,671.6 L1229.0,671.2 L1230.5,670.7 L1232.0,670.5 L1233.5,670.3 L1235.0,670.0 L1236.5,669.8 L1238.0,669.5 L1239.5,669.2 L1241.0,668.9 L1242.5,668.7 L1244.0,668.4 L1245.5,668.2 L1247.0,667.7 L1248.5,667.2 L1250.0,666.6 L1251.5,666.4 L1253.0,666.2 L1254.5,666.1 L1256.0,665.7 L1257.5,665.1 L1259.0,664.4 L1260.5,663.7 L1262.0,663.3 L1263.5,662.8 L1265.0,662.4 L1266.5,662.1 L1268.0,661.9 L1269.5,661.6 L1271.0,661.2 L1272.5,660.7 L1274.0,660.1 L1275.5,659.5 L1277.0,658.9 L1278.5,658.4 L1280.0,657.8 L1281.5,657.1 L1283.0,656.4 L1284.5,655.8 L1286.0,655.2 L1287.5,654.7 L1289.0,654.3 L1290.5,653.8 L1292.0,653.2 L1293.5,652.6 L1295.0,652.0 L1296.5,651.5 L1298.0,651.2 L1299.5,650.8 L1301.0,650.4 L1302.5,649.9 L1304.0,649.3 L1305.5,648.8 L1307.0,648.2 L1308.5,647.5 L1310.0,646.9 L1311.5,646.3 L1313.0,645.7 L1314.5,645.1 L1316.0,644.6 L1317.5,644.1 L1319.0,643.5 L1320.5,643.0 L1322.0,642.2 L1323.5,641.5 L1325.0,640.7 L1326.5,640.0 L1328.0,639.5 L1329.5,638.9 L1331.0,638.3 L1332.5,637.7 L1334.0,637.0 L1335.5,636.3 L1337.0,635.6 L1338.5,634.9 L1340.0,634.2 L1341.5,633.7 L1343.0,633.2 L1344.5,632.8 L1346.0,632.2 L1347.5,631.5 L1349.0,630.8 L1350.5,630.1 L1352.0,629.6 L1353.5,629.0 L1355.0,628.4 L1356.5,627.7 L1358.0,626.8 L1359.5,626.0 L1361.0,625.2 L1362.5,624.4 L1364.0,623.7 L1365.5,623.0 L1367.0,622.4 L1368.5,621.7 L1370.0,621.1 L1371.5,620.1 L1373.0,619.1 L1374.5,618.0 L1376.0,617.0 L1377.5,616.2 L1379.0,615.4 L1380.5,614.6 L1382.0,613.7 L1383.5,612.8 L1385.0,611.9 L1386.5,610.9 L1388.0,609.9 L1389.5,608.9 L1391.0,607.9 L1392.5,606.9 L1394.0,605.8 L1395.5,604.8 L1397.0,604.0 L1398.5,603.2 L1400.0,602.4 L1401.5,601.2 L1403.0,599.8 L1404.5,598.5 L1406.0,597.2 L1407.5,596.2 L1409.0,595.1 L1410.5,594.1 L1412.0,592.5 L1413.5,591.0 L1415.0,589.4 L1416.5,588.2 L1418.0,587.0 L1419.5,585.9 L1421.0,584.6 L1422.5,583.2 L1424.0,581.8 L1425.5,580.3 L1427.0,578.7 L1428.5,577.1 L1430.0,575.5 L1431.5,573.9 L1433.0,572.2 L1434.5,570.6 L1436.0,569.0 L1437.5,567.3 L1439.0,565.7 L1440.5,564.1 L1442.0,562.3 L1443.5,560.6 L1445.0,558.8 L1446.5,556.9 L1448.0,554.9 L1449.5,553.0 L1451.0,551.0 L1452.5,549.1 L1454.0,547.2 L1455.5,545.3 L1457.0,543.3 L1458.5,541.3 L1460.0,539.3 L1461.5,537.4 L1463.0,535.6 L1464.5,533.8 L1466.0,531.9 L1467.5,529.8 L1469.0,527.8 L1470.5,525.7 L1472.0,523.4 L1473.5,521.1 L1475.0,518.7 L1476.5,516.6 L1478.0,514.7 L1479.5,512.7 L1481.0,510.7 L1482.5,508.6 L1484.0,506.4 L1485.5,504.2 L1487.0,501.8 L1488.5,499.5 L1490.0,497.2 L1491.5,495.0 L1493.0,493.0 L1494.5,490.9 L1496.0,488.7 L1497.5,486.3 L1499.0,483.9 L1500.5,481.6 L1502.0,479.4 L1503.5,477.2 L1505.0,474.9 L1506.5,472.6 L1508.0,470.3" fill="none" stroke="#808000" stroke-width="3.50" stroke-linejoin="round" stroke-linecap="butt" />
<rect x="1155.50" y="464.60" width="353.10" height="284.10" fill="none" stroke="#000" stroke-width="2.20"/>
<line x1="1155.50" y1="748.70" x2="1155.50" y2="737.70" stroke="#000" stroke-width="3.40" stroke-linecap="butt"/>
<line x1="1155.50" y1="464.60" x2="1155.50" y2="475.60" stroke="#000" stroke-width="3.50" stroke-linecap="butt"/>
<line x1="1243.78" y1="748.70" x2="1243.78" y2="743.10" stroke="#000" stroke-width="3.40" stroke-linecap="butt"/>
<line x1="1243.78" y1="464.60" x2="1243.78" y2="470.40" stroke="#000" stroke-width="3.50" stroke-linecap="butt"/>
<line x1="1332.05" y1="748.70" x2="1332.05" y2="737.70" stroke="#000" stroke-width="3.40" stroke-linecap="butt"/>
<line x1="1332.05" y1="464.60" x2="1332.05" y2="475.60" stroke="#000" stroke-width="3.50" stroke-linecap="butt"/>
<line x1="1420.32" y1="748.70" x2="1420.32" y2="743.10" stroke="#000" stroke-width="3.40" stroke-linecap="butt"/>
<line x1="1420.32" y1="464.60" x2="1420.32" y2="470.40" stroke="#000" stroke-width="3.50" stroke-linecap="butt"/>
<line x1="1508.60" y1="748.70" x2="1508.60" y2="737.70" stroke="#000" stroke-width="3.40" stroke-linecap="butt"/>
<line x1="1508.60" y1="464.60" x2="1508.60" y2="475.60" stroke="#000" stroke-width="3.50" stroke-linecap="butt"/>
<line x1="1155.50" y1="472.00" x2="1160.80" y2="472.00" stroke="#000" stroke-width="1.60" stroke-linecap="butt"/>
<line x1="1508.60" y1="472.00" x2="1503.30" y2="472.00" stroke="#000" stroke-width="1.60" stroke-linecap="butt"/>
<line x1="1155.50" y1="564.22" x2="1160.80" y2="564.22" stroke="#000" stroke-width="1.60" stroke-linecap="butt"/>
<line x1="1508.60" y1="564.22" x2="1503.30" y2="564.22" stroke="#000" stroke-width="1.60" stroke-linecap="butt"/>
<line x1="1155.50" y1="656.44" x2="1160.80" y2="656.44" stroke="#000" stroke-width="1.60" stroke-linecap="butt"/>
<line x1="1508.60" y1="656.44" x2="1503.30" y2="656.44" stroke="#000" stroke-width="1.60" stroke-linecap="butt"/>
<line x1="1155.50" y1="748.66" x2="1160.80" y2="748.66" stroke="#000" stroke-width="1.60" stroke-linecap="butt"/>
<line x1="1508.60" y1="748.66" x2="1503.30" y2="748.66" stroke="#000" stroke-width="1.60" stroke-linecap="butt"/>
<line x1="1155.50" y1="518.11" x2="1158.20" y2="518.11" stroke="#000" stroke-width="1.60" stroke-linecap="butt"/>
<line x1="1508.60" y1="518.11" x2="1505.90" y2="518.11" stroke="#000" stroke-width="1.60" stroke-linecap="butt"/>
<line x1="1155.50" y1="610.33" x2="1158.20" y2="610.33" stroke="#000" stroke-width="1.60" stroke-linecap="butt"/>
<line x1="1508.60" y1="610.33" x2="1505.90" y2="610.33" stroke="#000" stroke-width="1.60" stroke-linecap="butt"/>
<line x1="1155.50" y1="702.55" x2="1158.20" y2="702.55" stroke="#000" stroke-width="1.60" stroke-linecap="butt"/>
<line x1="1508.60" y1="702.55" x2="1505.90" y2="702.55" stroke="#000" stroke-width="1.60" stroke-linecap="butt"/>
<line x1="1442.40" y1="470.20" x2="1484.85" y2="516.45" stroke="#000" stroke-width="3.30" stroke-linecap="butt"/>
<polygon points="1500.40,533.40 1479.08,519.04 1487.92,510.92" fill="#000"/>
<text transform="translate(1055.69,473.40) scale(1,1.045)" font-size="41.50" font-weight="bold">f</text>
<text transform="translate(1129.67,480.30) scale(1,1.045)" font-size="25.00" ><tspan>0</tspan></text>
<text transform="translate(1115.89,572.50) scale(1,1.045)" font-size="25.00" ><tspan>–6</tspan></text>
<text transform="translate(1102.15,664.50) scale(1,1.045)" font-size="25.00" ><tspan>–<tspan font-family="NanumGothic, Liberation Sans, sans-serif" font-weight="bold" font-size="22.00">1</tspan><tspan dx="0.57">2</tspan></tspan></text>
<text transform="translate(1101.97,757.00) scale(1,1.045)" font-size="25.00" ><tspan>–<tspan font-family="NanumGothic, Liberation Sans, sans-serif" font-weight="bold" font-size="22.00">1</tspan><tspan dx="0.57">8</tspan></tspan></text>
<text transform="translate(1131.16,778.40) scale(1,1.045)" font-size="25.00" ><tspan>–<tspan font-family="NanumGothic, Liberation Sans, sans-serif" font-weight="bold" font-size="22.00">1</tspan><tspan dx="0.57">.0</tspan></tspan></text>
<text transform="translate(1308.20,778.40) scale(1,1.045)" font-size="25.00" ><tspan>–0.5</tspan></text>
<text transform="translate(1491.22,778.40) scale(1,1.045)" font-size="25.00" ><tspan>0.0</tspan></text>
<text transform="translate(1295.84,816.80) scale(1,1.045)" font-size="25.00" ><tspan font-style="italic">V</tspan><tspan font-size="16.60" dy="8.40" dx="-2.00">DS</tspan><tspan dy="-8.40"> (V)</tspan></text>
<text transform="translate(1074.00,676.99) rotate(-90) scale(1,1.045)" font-size="25.00" ><tspan font-style="italic">I</tspan><tspan font-size="16.30" dy="8.40">DS</tspan><tspan dy="-8.40"> (μA μm</tspan><tspan font-size="16.30" dy="-12.00">–<tspan font-family="NanumGothic, Liberation Sans, sans-serif" font-weight="bold" font-size="14.34">1</tspan><tspan dx="0.37"></tspan></tspan><tspan dy="12.00">)</tspan></text>
<text transform="translate(1382.81,647.90) scale(1,1.045)" font-size="23.00" ><tspan>Bulk WSe</tspan><tspan font-size="15.00" dy="5.80" dx="0.90">2</tspan></text>
<text transform="translate(1289.34,686.50) scale(1,1.045)" font-size="22.70" ><tspan font-style="italic">V</tspan><tspan font-size="15.00" dy="6.00" dx="-1.50">BG</tspan><tspan dy="-6.00">: –0.6 V</tspan><tspan font-family="DejaVu Sans ExtraLight, DejaVu Sans, sans-serif" font-weight="200" font-size="28" dy="3.0">→</tspan><tspan dy="-3.00"> –<tspan font-family="NanumGothic, Liberation Sans, sans-serif" font-weight="bold" font-size="19.98">1</tspan><tspan dx="0.52">.</tspan><tspan font-family="NanumGothic, Liberation Sans, sans-serif" font-weight="bold" font-size="19.98">1</tspan><tspan dx="0.52"> V</tspan></tspan></text>
<text transform="translate(1288.12,721.20) scale(1,1.045)" font-size="22.70" ><tspan>Δ</tspan><tspan font-style="italic">V</tspan><tspan font-size="15.00" dy="6.00" dx="-1.50">BG</tspan><tspan dy="-6.00"> = –0.<tspan font-family="NanumGothic, Liberation Sans, sans-serif" font-weight="bold" font-size="19.98">1</tspan><tspan dx="0.52">0 V</tspan></tspan></text>
</svg></body></html>
